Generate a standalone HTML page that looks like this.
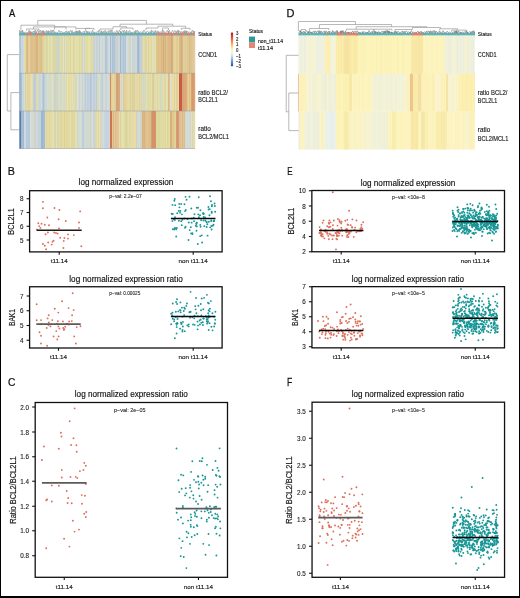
<!DOCTYPE html>
<html><head><meta charset="utf-8"><style>
html,body{margin:0;padding:0;background:#fff;}
body{width:520px;height:598px;overflow:hidden;position:relative;font-family:"Liberation Sans",sans-serif;}
svg{position:absolute;left:0;top:0;display:block;filter:blur(0.3px);}
.frame{position:absolute;left:0;top:0;width:520px;height:598px;box-sizing:border-box;border-style:solid;border-color:#000;border-width:1px 1px 2px 1px;pointer-events:none;}
</style></head><body>
<svg width="520" height="598" viewBox="0 0 520 598" font-family="Liberation Sans, sans-serif"><rect x="19.00" y="33.00" width="176.00" height="2.50" fill="#5ab4ba"/><rect x="27.00" y="33.00" width="5.00" height="2.50" fill="#e4806e"/><rect x="34.00" y="33.00" width="0.60" height="2.50" fill="#e4806e"/><rect x="36.00" y="33.00" width="2.80" height="2.50" fill="#e4806e"/><rect x="40.50" y="33.00" width="4.30" height="2.50" fill="#e4806e"/><rect x="117.00" y="33.00" width="1.00" height="2.50" fill="#e4806e"/><rect x="157.00" y="33.00" width="6.00" height="2.50" fill="#e4806e"/><rect x="164.30" y="33.00" width="10.70" height="2.50" fill="#e4806e"/><rect x="176.40" y="33.00" width="2.10" height="2.50" fill="#e4806e"/><rect x="179.80" y="33.00" width="5.20" height="2.50" fill="#e4806e"/><rect x="186.50" y="33.00" width="3.50" height="2.50" fill="#e4806e"/><rect x="191.00" y="33.00" width="3.60" height="2.50" fill="#e4806e"/><rect x="19.00" y="35.50" width="2.00" height="37.80" fill="#b4c4d4"/><rect x="21.00" y="35.50" width="3.00" height="37.80" fill="#c8d4dc"/><rect x="24.00" y="35.50" width="2.00" height="37.80" fill="#e0dca0"/><rect x="26.00" y="35.50" width="1.00" height="37.80" fill="#dcc890"/><rect x="27.00" y="35.50" width="1.00" height="37.80" fill="#d8b488"/><rect x="28.00" y="35.50" width="3.00" height="37.80" fill="#e0c894"/><rect x="31.00" y="35.50" width="1.00" height="37.80" fill="#dcb888"/><rect x="32.00" y="35.50" width="2.00" height="37.80" fill="#e0c48c"/><rect x="34.00" y="35.50" width="2.00" height="37.80" fill="#dcc090"/><rect x="36.00" y="35.50" width="1.00" height="37.80" fill="#d8b888"/><rect x="37.00" y="35.50" width="1.00" height="37.80" fill="#d4ac80"/><rect x="38.00" y="35.50" width="5.00" height="37.80" fill="#dec890"/><rect x="43.00" y="35.50" width="1.00" height="37.80" fill="#e0d0a0"/><rect x="44.00" y="35.50" width="12.30" height="37.80" fill="#dedcaa"/><rect x="56.30" y="35.50" width="3.40" height="37.80" fill="#d4d8c4"/><rect x="59.70" y="35.50" width="3.90" height="37.80" fill="#e0dca8"/><rect x="63.60" y="35.50" width="1.90" height="37.80" fill="#d4d8cc"/><rect x="65.50" y="35.50" width="16.80" height="37.80" fill="#e0dca8"/><rect x="82.30" y="35.50" width="2.90" height="37.80" fill="#d4d8cc"/><rect x="85.20" y="35.50" width="5.80" height="37.80" fill="#e0dca2"/><rect x="91.00" y="35.50" width="3.10" height="37.80" fill="#d6d8b8"/><rect x="94.10" y="35.50" width="0.90" height="37.80" fill="#d4d8c8"/><rect x="95.00" y="35.50" width="1.60" height="37.80" fill="#c8d4dc"/><rect x="96.60" y="35.50" width="2.30" height="37.80" fill="#d0d8d4"/><rect x="98.90" y="35.50" width="0.90" height="37.80" fill="#c4d0d8"/><rect x="99.80" y="35.50" width="5.10" height="37.80" fill="#d0d8d4"/><rect x="104.90" y="35.50" width="1.90" height="37.80" fill="#b8c8d8"/><rect x="106.80" y="35.50" width="3.00" height="37.80" fill="#ccd8dc"/><rect x="109.80" y="35.50" width="1.10" height="37.80" fill="#a8bcd0"/><rect x="110.90" y="35.50" width="1.10" height="37.80" fill="#c8d4dc"/><rect x="112.00" y="35.50" width="3.00" height="37.80" fill="#b0c4d8"/><rect x="115.00" y="35.50" width="1.00" height="37.80" fill="#c4d0d8"/><rect x="116.00" y="35.50" width="1.20" height="37.80" fill="#d4d8c4"/><rect x="117.20" y="35.50" width="2.80" height="37.80" fill="#ccd6d8"/><rect x="120.00" y="35.50" width="1.00" height="37.80" fill="#a8bcd0"/><rect x="121.00" y="35.50" width="5.60" height="37.80" fill="#b8cad8"/><rect x="126.60" y="35.50" width="1.90" height="37.80" fill="#d0d8d8"/><rect x="128.50" y="35.50" width="1.80" height="37.80" fill="#d4d8c4"/><rect x="130.30" y="35.50" width="6.50" height="37.80" fill="#d2d9d6"/><rect x="136.80" y="35.50" width="2.20" height="37.80" fill="#a4b8d0"/><rect x="139.00" y="35.50" width="2.90" height="37.80" fill="#bccad8"/><rect x="141.90" y="35.50" width="1.10" height="37.80" fill="#d8d8c0"/><rect x="143.00" y="35.50" width="4.00" height="37.80" fill="#e0d8a0"/><rect x="147.00" y="35.50" width="1.20" height="37.80" fill="#d8d8b8"/><rect x="148.20" y="35.50" width="3.50" height="37.80" fill="#e0d8a0"/><rect x="151.70" y="35.50" width="4.60" height="37.80" fill="#dcdcb0"/><rect x="156.30" y="35.50" width="4.70" height="37.80" fill="#dfc48c"/><rect x="161.00" y="35.50" width="2.00" height="37.80" fill="#dcbc88"/><rect x="163.00" y="35.50" width="1.00" height="37.80" fill="#d8b080"/><rect x="164.00" y="35.50" width="2.00" height="37.80" fill="#dcbc88"/><rect x="166.00" y="35.50" width="2.40" height="37.80" fill="#dcc890"/><rect x="168.40" y="35.50" width="2.90" height="37.80" fill="#dcb888"/><rect x="171.30" y="35.50" width="1.70" height="37.80" fill="#d4a878"/><rect x="173.00" y="35.50" width="5.80" height="37.80" fill="#e0d098"/><rect x="178.80" y="35.50" width="4.00" height="37.80" fill="#d8b484"/><rect x="182.80" y="35.50" width="4.60" height="37.80" fill="#e0d09c"/><rect x="187.40" y="35.50" width="7.00" height="37.80" fill="#dcc490"/><rect x="194.40" y="35.50" width="0.80" height="37.80" fill="#d8b888"/><rect x="19.00" y="35.50" width="1.00" height="37.80" fill="#bacada"/><rect x="20.00" y="35.50" width="1.00" height="37.80" fill="#aec0d3"/><rect x="21.00" y="35.50" width="1.00" height="37.80" fill="#ccd8e0"/><rect x="22.00" y="35.50" width="1.00" height="37.80" fill="#c9d5dd"/><rect x="23.00" y="35.50" width="1.00" height="37.80" fill="#cedae2"/><rect x="24.00" y="35.50" width="1.00" height="37.80" fill="#e1dda1"/><rect x="25.00" y="35.50" width="1.00" height="37.80" fill="#e0db9e"/><rect x="26.00" y="35.50" width="1.00" height="37.80" fill="#d9c186"/><rect x="27.00" y="35.50" width="1.00" height="37.80" fill="#d7b386"/><rect x="28.00" y="35.50" width="1.00" height="37.80" fill="#e6ce9a"/><rect x="29.00" y="35.50" width="1.00" height="37.80" fill="#e6ce9a"/><rect x="30.00" y="35.50" width="1.00" height="37.80" fill="#dec48e"/><rect x="31.00" y="35.50" width="1.00" height="37.80" fill="#e0bc8c"/><rect x="32.00" y="35.50" width="1.00" height="37.80" fill="#debf85"/><rect x="33.00" y="35.50" width="1.00" height="37.80" fill="#e1c58d"/><rect x="34.00" y="35.50" width="1.00" height="37.80" fill="#dbbf8e"/><rect x="35.00" y="35.50" width="1.00" height="37.80" fill="#dabc8a"/><rect x="36.00" y="35.50" width="1.00" height="37.80" fill="#d7b786"/><rect x="37.00" y="35.50" width="1.00" height="37.80" fill="#d7af83"/><rect x="38.00" y="35.50" width="1.00" height="37.80" fill="#e0ca92"/><rect x="39.00" y="35.50" width="1.00" height="37.80" fill="#ddc58c"/><rect x="40.00" y="35.50" width="1.00" height="37.80" fill="#dbc287"/><rect x="41.00" y="35.50" width="1.00" height="37.80" fill="#dac084"/><rect x="42.00" y="35.50" width="1.00" height="37.80" fill="#e3cd95"/><rect x="45.00" y="35.50" width="1.00" height="37.80" fill="#dddba8"/><rect x="46.00" y="35.50" width="1.00" height="37.80" fill="#dbd6a0"/><rect x="47.00" y="35.50" width="1.00" height="37.80" fill="#dcd8a4"/><rect x="48.00" y="35.50" width="1.00" height="37.80" fill="#e4e2b0"/><rect x="49.00" y="35.50" width="1.00" height="37.80" fill="#dddaa7"/><rect x="51.00" y="35.50" width="1.00" height="37.80" fill="#e4e2b0"/><rect x="52.00" y="35.50" width="1.00" height="37.80" fill="#dfddab"/><rect x="53.00" y="35.50" width="1.00" height="37.80" fill="#dcd7a2"/><rect x="54.00" y="35.50" width="1.00" height="37.80" fill="#dbd59f"/><rect x="55.00" y="35.50" width="1.00" height="37.80" fill="#dcd7a2"/><rect x="56.00" y="35.50" width="1.00" height="37.80" fill="#cdd4c2"/><rect x="57.00" y="35.50" width="1.00" height="37.80" fill="#ced4c3"/><rect x="58.00" y="35.50" width="1.00" height="37.80" fill="#ced4c3"/><rect x="59.00" y="35.50" width="1.00" height="37.80" fill="#d1d6c3"/><rect x="60.00" y="35.50" width="1.00" height="37.80" fill="#e0dca7"/><rect x="61.00" y="35.50" width="1.00" height="37.80" fill="#dfdaa5"/><rect x="62.00" y="35.50" width="1.00" height="37.80" fill="#dfdaa5"/><rect x="64.00" y="35.50" width="1.00" height="37.80" fill="#cfd5cb"/><rect x="65.00" y="35.50" width="1.00" height="37.80" fill="#e6e2ae"/><rect x="66.00" y="35.50" width="1.00" height="37.80" fill="#ded8a2"/><rect x="67.00" y="35.50" width="1.00" height="37.80" fill="#e2deaa"/><rect x="68.00" y="35.50" width="1.00" height="37.80" fill="#dfdaa5"/><rect x="69.00" y="35.50" width="1.00" height="37.80" fill="#e1dda9"/><rect x="70.00" y="35.50" width="1.00" height="37.80" fill="#dcd49c"/><rect x="71.00" y="35.50" width="1.00" height="37.80" fill="#e6e2ae"/><rect x="72.00" y="35.50" width="1.00" height="37.80" fill="#e5e1ad"/><rect x="73.00" y="35.50" width="1.00" height="37.80" fill="#ddd59c"/><rect x="74.00" y="35.50" width="1.00" height="37.80" fill="#ded8a2"/><rect x="75.00" y="35.50" width="1.00" height="37.80" fill="#e5e1ad"/><rect x="76.00" y="35.50" width="1.00" height="37.80" fill="#e3dfab"/><rect x="77.00" y="35.50" width="1.00" height="37.80" fill="#e1dda9"/><rect x="78.00" y="35.50" width="1.00" height="37.80" fill="#e4e0ac"/><rect x="79.00" y="35.50" width="1.00" height="37.80" fill="#ddd69f"/><rect x="80.00" y="35.50" width="1.00" height="37.80" fill="#e3dfab"/><rect x="81.00" y="35.50" width="1.00" height="37.80" fill="#ded7a0"/><rect x="82.00" y="35.50" width="1.00" height="37.80" fill="#d0d5cb"/><rect x="83.00" y="35.50" width="1.00" height="37.80" fill="#daded2"/><rect x="84.00" y="35.50" width="1.00" height="37.80" fill="#d1d6cb"/><rect x="85.00" y="35.50" width="1.00" height="37.80" fill="#e1dda3"/><rect x="86.00" y="35.50" width="1.00" height="37.80" fill="#e2dea4"/><rect x="87.00" y="35.50" width="1.00" height="37.80" fill="#e0dba0"/><rect x="88.00" y="35.50" width="1.00" height="37.80" fill="#e4e0a6"/><rect x="89.00" y="35.50" width="1.00" height="37.80" fill="#e6e2a8"/><rect x="90.00" y="35.50" width="1.00" height="37.80" fill="#e1dda3"/><rect x="91.00" y="35.50" width="1.00" height="37.80" fill="#d5d6b5"/><rect x="92.00" y="35.50" width="1.00" height="37.80" fill="#dadcbc"/><rect x="93.00" y="35.50" width="1.00" height="37.80" fill="#d4d4b2"/><rect x="94.00" y="35.50" width="1.00" height="37.80" fill="#ccd3c6"/><rect x="95.00" y="35.50" width="1.00" height="37.80" fill="#cdd9e1"/><rect x="96.00" y="35.50" width="1.00" height="37.80" fill="#c4d1db"/><rect x="97.00" y="35.50" width="1.00" height="37.80" fill="#c8d3d2"/><rect x="98.00" y="35.50" width="1.00" height="37.80" fill="#d2dad6"/><rect x="99.00" y="35.50" width="1.00" height="37.80" fill="#bccbd6"/><rect x="100.00" y="35.50" width="1.00" height="37.80" fill="#d3dbd7"/><rect x="101.00" y="35.50" width="1.00" height="37.80" fill="#d4dcd8"/><rect x="102.00" y="35.50" width="1.00" height="37.80" fill="#cbd5d3"/><rect x="103.00" y="35.50" width="1.00" height="37.80" fill="#d4dcd8"/><rect x="104.00" y="35.50" width="1.00" height="37.80" fill="#d1d9d5"/><rect x="105.00" y="35.50" width="1.00" height="37.80" fill="#b3c5d7"/><rect x="106.00" y="35.50" width="1.00" height="37.80" fill="#b2c4d6"/><rect x="107.00" y="35.50" width="1.00" height="37.80" fill="#c5d4da"/><rect x="109.00" y="35.50" width="1.00" height="37.80" fill="#d1dde1"/><rect x="110.00" y="35.50" width="1.00" height="37.80" fill="#a7bbd0"/><rect x="111.00" y="35.50" width="1.00" height="37.80" fill="#c7d4dc"/><rect x="112.00" y="35.50" width="1.00" height="37.80" fill="#adc2d7"/><rect x="113.00" y="35.50" width="1.00" height="37.80" fill="#b1c5d9"/><rect x="114.00" y="35.50" width="1.00" height="37.80" fill="#b2c6da"/><rect x="115.00" y="35.50" width="1.00" height="37.80" fill="#c0cdd7"/><rect x="116.00" y="35.50" width="1.00" height="37.80" fill="#cfd4c3"/><rect x="117.00" y="35.50" width="1.00" height="37.80" fill="#c4d1d6"/><rect x="118.00" y="35.50" width="1.00" height="37.80" fill="#cfd9db"/><rect x="119.00" y="35.50" width="1.00" height="37.80" fill="#cdd7d9"/><rect x="120.00" y="35.50" width="1.00" height="37.80" fill="#a1b7ce"/><rect x="121.00" y="35.50" width="1.00" height="37.80" fill="#bdcfdd"/><rect x="122.00" y="35.50" width="1.00" height="37.80" fill="#bbcddb"/><rect x="123.00" y="35.50" width="1.00" height="37.80" fill="#b0c4d6"/><rect x="124.00" y="35.50" width="1.00" height="37.80" fill="#baccda"/><rect x="125.00" y="35.50" width="1.00" height="37.80" fill="#b0c5d6"/><rect x="127.00" y="35.50" width="1.00" height="37.80" fill="#d5dddd"/><rect x="128.00" y="35.50" width="1.00" height="37.80" fill="#d6dac6"/><rect x="129.00" y="35.50" width="1.00" height="37.80" fill="#ced4c3"/><rect x="130.00" y="35.50" width="1.00" height="37.80" fill="#cbd5d4"/><rect x="131.00" y="35.50" width="1.00" height="37.80" fill="#d8dfdc"/><rect x="132.00" y="35.50" width="1.00" height="37.80" fill="#c9d3d4"/><rect x="133.00" y="35.50" width="1.00" height="37.80" fill="#ced6d5"/><rect x="134.00" y="35.50" width="1.00" height="37.80" fill="#ccd5d4"/><rect x="135.00" y="35.50" width="1.00" height="37.80" fill="#ced7d5"/><rect x="136.00" y="35.50" width="1.00" height="37.80" fill="#d0d7d5"/><rect x="137.00" y="35.50" width="1.00" height="37.80" fill="#a8bcd4"/><rect x="138.00" y="35.50" width="1.00" height="37.80" fill="#a2b7cf"/><rect x="140.00" y="35.50" width="1.00" height="37.80" fill="#c0cedc"/><rect x="142.00" y="35.50" width="1.00" height="37.80" fill="#d2d4be"/><rect x="143.00" y="35.50" width="1.00" height="37.80" fill="#e5dda5"/><rect x="144.00" y="35.50" width="1.00" height="37.80" fill="#e3dba3"/><rect x="145.00" y="35.50" width="1.00" height="37.80" fill="#ddd297"/><rect x="147.00" y="35.50" width="1.00" height="37.80" fill="#dedebe"/><rect x="148.00" y="35.50" width="1.00" height="37.80" fill="#ddd196"/><rect x="149.00" y="35.50" width="1.00" height="37.80" fill="#e4dca4"/><rect x="150.00" y="35.50" width="1.00" height="37.80" fill="#e5dda5"/><rect x="151.00" y="35.50" width="1.00" height="37.80" fill="#e0d79f"/><rect x="152.00" y="35.50" width="1.00" height="37.80" fill="#e1e1b5"/><rect x="153.00" y="35.50" width="1.00" height="37.80" fill="#e0e0b4"/><rect x="154.00" y="35.50" width="1.00" height="37.80" fill="#ddddb1"/><rect x="155.00" y="35.50" width="1.00" height="37.80" fill="#e1e1b5"/><rect x="156.00" y="35.50" width="1.00" height="37.80" fill="#dec288"/><rect x="158.00" y="35.50" width="1.00" height="37.80" fill="#dcbc80"/><rect x="159.00" y="35.50" width="1.00" height="37.80" fill="#e0c58d"/><rect x="160.00" y="35.50" width="1.00" height="37.80" fill="#dec38a"/><rect x="161.00" y="35.50" width="1.00" height="37.80" fill="#dab780"/><rect x="162.00" y="35.50" width="1.00" height="37.80" fill="#ddbd89"/><rect x="163.00" y="35.50" width="1.00" height="37.80" fill="#d6ac7a"/><rect x="164.00" y="35.50" width="1.00" height="37.80" fill="#dcbb86"/><rect x="165.00" y="35.50" width="1.00" height="37.80" fill="#d9b57d"/><rect x="166.00" y="35.50" width="1.00" height="37.80" fill="#dbc68e"/><rect x="167.00" y="35.50" width="1.00" height="37.80" fill="#d9c185"/><rect x="168.00" y="35.50" width="1.00" height="37.80" fill="#dcb787"/><rect x="169.00" y="35.50" width="1.00" height="37.80" fill="#ddb989"/><rect x="170.00" y="35.50" width="1.00" height="37.80" fill="#dcb787"/><rect x="171.00" y="35.50" width="1.00" height="37.80" fill="#d5a979"/><rect x="172.00" y="35.50" width="1.00" height="37.80" fill="#d9ad7d"/><rect x="173.00" y="35.50" width="1.00" height="37.80" fill="#dfce95"/><rect x="174.00" y="35.50" width="1.00" height="37.80" fill="#e5d59d"/><rect x="175.00" y="35.50" width="1.00" height="37.80" fill="#e5d59d"/><rect x="176.00" y="35.50" width="1.00" height="37.80" fill="#dfce95"/><rect x="177.00" y="35.50" width="1.00" height="37.80" fill="#ddca8f"/><rect x="178.00" y="35.50" width="1.00" height="37.80" fill="#e4d49c"/><rect x="179.00" y="35.50" width="1.00" height="37.80" fill="#deba8a"/><rect x="180.00" y="35.50" width="1.00" height="37.80" fill="#dab686"/><rect x="181.00" y="35.50" width="1.00" height="37.80" fill="#d5ae7b"/><rect x="182.00" y="35.50" width="1.00" height="37.80" fill="#dab686"/><rect x="184.00" y="35.50" width="1.00" height="37.80" fill="#dfce99"/><rect x="185.00" y="35.50" width="1.00" height="37.80" fill="#dfce99"/><rect x="186.00" y="35.50" width="1.00" height="37.80" fill="#e0cf9b"/><rect x="187.00" y="35.50" width="1.00" height="37.80" fill="#dfc793"/><rect x="188.00" y="35.50" width="1.00" height="37.80" fill="#e0c894"/><rect x="189.00" y="35.50" width="1.00" height="37.80" fill="#d9bd86"/><rect x="190.00" y="35.50" width="1.00" height="37.80" fill="#dcc38e"/><rect x="191.00" y="35.50" width="1.00" height="37.80" fill="#ddc591"/><rect x="192.00" y="35.50" width="1.00" height="37.80" fill="#dfc793"/><rect x="193.00" y="35.50" width="1.00" height="37.80" fill="#e1c995"/><rect x="19.00" y="73.30" width="2.90" height="37.70" fill="#a4b8d0"/><rect x="21.90" y="73.30" width="2.30" height="37.70" fill="#c8d4d8"/><rect x="24.20" y="73.30" width="2.80" height="37.70" fill="#d8d8b8"/><rect x="27.00" y="73.30" width="6.40" height="37.70" fill="#e4d8a4"/><rect x="33.40" y="73.30" width="2.30" height="37.70" fill="#c4d0dc"/><rect x="35.70" y="73.30" width="2.30" height="37.70" fill="#dcdcb8"/><rect x="38.00" y="73.30" width="4.00" height="37.70" fill="#d0d8d4"/><rect x="42.00" y="73.30" width="3.50" height="37.70" fill="#b4c8d8"/><rect x="45.50" y="73.30" width="3.50" height="37.70" fill="#d0d8d2"/><rect x="49.00" y="73.30" width="4.50" height="37.70" fill="#d8dcc0"/><rect x="53.50" y="73.30" width="5.70" height="37.70" fill="#d4d8c8"/><rect x="59.20" y="73.30" width="6.80" height="37.70" fill="#d8dcc4"/><rect x="66.00" y="73.30" width="5.70" height="37.70" fill="#e4dca8"/><rect x="71.70" y="73.30" width="5.80" height="37.70" fill="#dcdcb4"/><rect x="77.50" y="73.30" width="7.70" height="37.70" fill="#d0d8d4"/><rect x="85.20" y="73.30" width="5.30" height="37.70" fill="#c4d0dc"/><rect x="90.50" y="73.30" width="1.80" height="37.70" fill="#b4c4d4"/><rect x="92.30" y="73.30" width="5.20" height="37.70" fill="#c4d0dc"/><rect x="97.50" y="73.30" width="3.50" height="37.70" fill="#d8dcc4"/><rect x="101.00" y="73.30" width="2.20" height="37.70" fill="#bccedc"/><rect x="103.20" y="73.30" width="6.40" height="37.70" fill="#d0d8d8"/><rect x="109.60" y="73.30" width="1.70" height="37.70" fill="#d49468"/><rect x="111.30" y="73.30" width="5.20" height="37.70" fill="#e4d4a0"/><rect x="116.50" y="73.30" width="3.50" height="37.70" fill="#d4a47c"/><rect x="120.00" y="73.30" width="3.40" height="37.70" fill="#d8dcc8"/><rect x="123.40" y="73.30" width="2.90" height="37.70" fill="#e0cc98"/><rect x="126.30" y="73.30" width="3.40" height="37.70" fill="#e4dca8"/><rect x="129.70" y="73.30" width="12.80" height="37.70" fill="#e0d6a4"/><rect x="142.50" y="73.30" width="3.50" height="37.70" fill="#d8dcc4"/><rect x="146.00" y="73.30" width="5.70" height="37.70" fill="#e0dca8"/><rect x="151.70" y="73.30" width="2.30" height="37.70" fill="#e0d0a0"/><rect x="154.00" y="73.30" width="6.00" height="37.70" fill="#e0dcac"/><rect x="160.00" y="73.30" width="2.00" height="37.70" fill="#d8dcc0"/><rect x="162.00" y="73.30" width="5.80" height="37.70" fill="#e0dcac"/><rect x="167.80" y="73.30" width="1.80" height="37.70" fill="#e0c090"/><rect x="169.60" y="73.30" width="2.80" height="37.70" fill="#dcdcc0"/><rect x="172.40" y="73.30" width="7.00" height="37.70" fill="#e4d8a4"/><rect x="179.40" y="73.30" width="2.50" height="37.70" fill="#c85a42"/><rect x="181.90" y="73.30" width="5.50" height="37.70" fill="#d8a478"/><rect x="187.40" y="73.30" width="4.10" height="37.70" fill="#e0c890"/><rect x="191.50" y="73.30" width="3.70" height="37.70" fill="#daa074"/><rect x="20.00" y="73.30" width="1.00" height="37.70" fill="#9fb4cf"/><rect x="21.00" y="73.30" width="1.00" height="37.70" fill="#aabed6"/><rect x="22.00" y="73.30" width="1.00" height="37.70" fill="#cad6da"/><rect x="23.00" y="73.30" width="1.00" height="37.70" fill="#c9d5d9"/><rect x="24.00" y="73.30" width="1.00" height="37.70" fill="#dedebe"/><rect x="25.00" y="73.30" width="1.00" height="37.70" fill="#d5d2ae"/><rect x="26.00" y="73.30" width="1.00" height="37.70" fill="#dcdcbc"/><rect x="27.00" y="73.30" width="1.00" height="37.70" fill="#e2d49d"/><rect x="28.00" y="73.30" width="1.00" height="37.70" fill="#e2d49e"/><rect x="29.00" y="73.30" width="1.00" height="37.70" fill="#e3d5a0"/><rect x="30.00" y="73.30" width="1.00" height="37.70" fill="#e7dba7"/><rect x="31.00" y="73.30" width="1.00" height="37.70" fill="#eadeaa"/><rect x="32.00" y="73.30" width="1.00" height="37.70" fill="#e7dba7"/><rect x="33.00" y="73.30" width="1.00" height="37.70" fill="#c1cedb"/><rect x="34.00" y="73.30" width="1.00" height="37.70" fill="#beccda"/><rect x="35.00" y="73.30" width="1.00" height="37.70" fill="#c0cedb"/><rect x="36.00" y="73.30" width="1.00" height="37.70" fill="#dad8b1"/><rect x="39.00" y="73.30" width="1.00" height="37.70" fill="#c9d4d2"/><rect x="40.00" y="73.30" width="1.00" height="37.70" fill="#cbd5d3"/><rect x="41.00" y="73.30" width="1.00" height="37.70" fill="#d5ddd9"/><rect x="42.00" y="73.30" width="1.00" height="37.70" fill="#b7cbdb"/><rect x="43.00" y="73.30" width="1.00" height="37.70" fill="#adc3d6"/><rect x="44.00" y="73.30" width="1.00" height="37.70" fill="#b9cddd"/><rect x="45.00" y="73.30" width="1.00" height="37.70" fill="#cfd7d2"/><rect x="46.00" y="73.30" width="1.00" height="37.70" fill="#ced7d1"/><rect x="47.00" y="73.30" width="1.00" height="37.70" fill="#d4dcd6"/><rect x="48.00" y="73.30" width="1.00" height="37.70" fill="#d2dad4"/><rect x="49.00" y="73.30" width="1.00" height="37.70" fill="#d7dbc0"/><rect x="50.00" y="73.30" width="1.00" height="37.70" fill="#d6dbbf"/><rect x="51.00" y="73.30" width="1.00" height="37.70" fill="#d9ddc1"/><rect x="52.00" y="73.30" width="1.00" height="37.70" fill="#dce0c4"/><rect x="53.00" y="73.30" width="1.00" height="37.70" fill="#d7dbcb"/><rect x="54.00" y="73.30" width="1.00" height="37.70" fill="#cdd3c6"/><rect x="55.00" y="73.30" width="1.00" height="37.70" fill="#ccd3c6"/><rect x="56.00" y="73.30" width="1.00" height="37.70" fill="#d2d6c7"/><rect x="57.00" y="73.30" width="1.00" height="37.70" fill="#d0d6c7"/><rect x="58.00" y="73.30" width="1.00" height="37.70" fill="#d8dccc"/><rect x="59.00" y="73.30" width="1.00" height="37.70" fill="#d9ddc5"/><rect x="60.00" y="73.30" width="1.00" height="37.70" fill="#d2d8c2"/><rect x="61.00" y="73.30" width="1.00" height="37.70" fill="#d7dbc4"/><rect x="62.00" y="73.30" width="1.00" height="37.70" fill="#d9ddc5"/><rect x="64.00" y="73.30" width="1.00" height="37.70" fill="#d4d9c3"/><rect x="65.00" y="73.30" width="1.00" height="37.70" fill="#dadec6"/><rect x="66.00" y="73.30" width="1.00" height="37.70" fill="#e2d9a3"/><rect x="67.00" y="73.30" width="1.00" height="37.70" fill="#eae2ae"/><rect x="68.00" y="73.30" width="1.00" height="37.70" fill="#e3daa5"/><rect x="70.00" y="73.30" width="1.00" height="37.70" fill="#e8e0ac"/><rect x="71.00" y="73.30" width="1.00" height="37.70" fill="#e3daa4"/><rect x="72.00" y="73.30" width="1.00" height="37.70" fill="#e1e1b9"/><rect x="73.00" y="73.30" width="1.00" height="37.70" fill="#ddddb5"/><rect x="74.00" y="73.30" width="1.00" height="37.70" fill="#ddddb5"/><rect x="75.00" y="73.30" width="1.00" height="37.70" fill="#dad8ae"/><rect x="76.00" y="73.30" width="1.00" height="37.70" fill="#dbd9b0"/><rect x="78.00" y="73.30" width="1.00" height="37.70" fill="#d4dcd8"/><rect x="79.00" y="73.30" width="1.00" height="37.70" fill="#cad4d3"/><rect x="80.00" y="73.30" width="1.00" height="37.70" fill="#d4dcd8"/><rect x="81.00" y="73.30" width="1.00" height="37.70" fill="#d5ddd9"/><rect x="82.00" y="73.30" width="1.00" height="37.70" fill="#c9d3d2"/><rect x="83.00" y="73.30" width="1.00" height="37.70" fill="#d2dad6"/><rect x="84.00" y="73.30" width="1.00" height="37.70" fill="#cbd5d3"/><rect x="85.00" y="73.30" width="1.00" height="37.70" fill="#bdcbda"/><rect x="86.00" y="73.30" width="1.00" height="37.70" fill="#cad6e2"/><rect x="87.00" y="73.30" width="1.00" height="37.70" fill="#c0cddb"/><rect x="88.00" y="73.30" width="1.00" height="37.70" fill="#c3cfdc"/><rect x="89.00" y="73.30" width="1.00" height="37.70" fill="#c7d3df"/><rect x="90.00" y="73.30" width="1.00" height="37.70" fill="#b5c5d5"/><rect x="91.00" y="73.30" width="1.00" height="37.70" fill="#b9c9d9"/><rect x="92.00" y="73.30" width="1.00" height="37.70" fill="#cad6e2"/><rect x="93.00" y="73.30" width="1.00" height="37.70" fill="#c3d0dc"/><rect x="94.00" y="73.30" width="1.00" height="37.70" fill="#bdcbda"/><rect x="95.00" y="73.30" width="1.00" height="37.70" fill="#c8d4e0"/><rect x="96.00" y="73.30" width="1.00" height="37.70" fill="#beccda"/><rect x="97.00" y="73.30" width="1.00" height="37.70" fill="#d6dac3"/><rect x="98.00" y="73.30" width="1.00" height="37.70" fill="#d3d9c3"/><rect x="99.00" y="73.30" width="1.00" height="37.70" fill="#dce0c8"/><rect x="100.00" y="73.30" width="1.00" height="37.70" fill="#d3d9c3"/><rect x="101.00" y="73.30" width="1.00" height="37.70" fill="#c0d2e0"/><rect x="102.00" y="73.30" width="1.00" height="37.70" fill="#bdcfdd"/><rect x="103.00" y="73.30" width="1.00" height="37.70" fill="#d1d9d9"/><rect x="104.00" y="73.30" width="1.00" height="37.70" fill="#d3dbdb"/><rect x="105.00" y="73.30" width="1.00" height="37.70" fill="#cdd6d7"/><rect x="106.00" y="73.30" width="1.00" height="37.70" fill="#cad4d7"/><rect x="107.00" y="73.30" width="1.00" height="37.70" fill="#d3dbdb"/><rect x="108.00" y="73.30" width="1.00" height="37.70" fill="#d2dada"/><rect x="109.00" y="73.30" width="1.00" height="37.70" fill="#cfd7d8"/><rect x="110.00" y="73.30" width="1.00" height="37.70" fill="#d28f60"/><rect x="111.00" y="73.30" width="1.00" height="37.70" fill="#e2cf98"/><rect x="112.00" y="73.30" width="1.00" height="37.70" fill="#e4d39f"/><rect x="113.00" y="73.30" width="1.00" height="37.70" fill="#e6d6a2"/><rect x="114.00" y="73.30" width="1.00" height="37.70" fill="#e3d19b"/><rect x="115.00" y="73.30" width="1.00" height="37.70" fill="#e1cc94"/><rect x="116.00" y="73.30" width="1.00" height="37.70" fill="#d4a37b"/><rect x="117.00" y="73.30" width="1.00" height="37.70" fill="#d2a075"/><rect x="118.00" y="73.30" width="1.00" height="37.70" fill="#d7a77f"/><rect x="119.00" y="73.30" width="1.00" height="37.70" fill="#d7a77f"/><rect x="121.00" y="73.30" width="1.00" height="37.70" fill="#d1d7c6"/><rect x="122.00" y="73.30" width="1.00" height="37.70" fill="#dadeca"/><rect x="123.00" y="73.30" width="1.00" height="37.70" fill="#e0cb97"/><rect x="124.00" y="73.30" width="1.00" height="37.70" fill="#e3cf9b"/><rect x="125.00" y="73.30" width="1.00" height="37.70" fill="#e4d09c"/><rect x="126.00" y="73.30" width="1.00" height="37.70" fill="#e1d69f"/><rect x="127.00" y="73.30" width="1.00" height="37.70" fill="#e2d9a3"/><rect x="128.00" y="73.30" width="1.00" height="37.70" fill="#e5dda9"/><rect x="129.00" y="73.30" width="1.00" height="37.70" fill="#e1d69e"/><rect x="130.00" y="73.30" width="1.00" height="37.70" fill="#ded19c"/><rect x="131.00" y="73.30" width="1.00" height="37.70" fill="#e3d9a7"/><rect x="132.00" y="73.30" width="1.00" height="37.70" fill="#ddcf99"/><rect x="133.00" y="73.30" width="1.00" height="37.70" fill="#ded29e"/><rect x="134.00" y="73.30" width="1.00" height="37.70" fill="#ddd09b"/><rect x="135.00" y="73.30" width="1.00" height="37.70" fill="#e5dba9"/><rect x="136.00" y="73.30" width="1.00" height="37.70" fill="#e3d9a7"/><rect x="137.00" y="73.30" width="1.00" height="37.70" fill="#e3d9a7"/><rect x="138.00" y="73.30" width="1.00" height="37.70" fill="#e4daa8"/><rect x="139.00" y="73.30" width="1.00" height="37.70" fill="#ded29d"/><rect x="140.00" y="73.30" width="1.00" height="37.70" fill="#e4daa8"/><rect x="141.00" y="73.30" width="1.00" height="37.70" fill="#dfd4a1"/><rect x="142.00" y="73.30" width="1.00" height="37.70" fill="#d6dbc4"/><rect x="143.00" y="73.30" width="1.00" height="37.70" fill="#d1d7c2"/><rect x="144.00" y="73.30" width="1.00" height="37.70" fill="#d4d9c3"/><rect x="145.00" y="73.30" width="1.00" height="37.70" fill="#d6dbc3"/><rect x="146.00" y="73.30" width="1.00" height="37.70" fill="#e4e0ac"/><rect x="148.00" y="73.30" width="1.00" height="37.70" fill="#ded8a3"/><rect x="149.00" y="73.30" width="1.00" height="37.70" fill="#e1dda9"/><rect x="150.00" y="73.30" width="1.00" height="37.70" fill="#dfd9a3"/><rect x="151.00" y="73.30" width="1.00" height="37.70" fill="#e4e0ac"/><rect x="152.00" y="73.30" width="1.00" height="37.70" fill="#dfcd9c"/><rect x="153.00" y="73.30" width="1.00" height="37.70" fill="#decb99"/><rect x="154.00" y="73.30" width="1.00" height="37.70" fill="#dfdaa9"/><rect x="155.00" y="73.30" width="1.00" height="37.70" fill="#e1ddad"/><rect x="156.00" y="73.30" width="1.00" height="37.70" fill="#e2deae"/><rect x="157.00" y="73.30" width="1.00" height="37.70" fill="#ded8a6"/><rect x="158.00" y="73.30" width="1.00" height="37.70" fill="#e1ddad"/><rect x="159.00" y="73.30" width="1.00" height="37.70" fill="#e2deae"/><rect x="160.00" y="73.30" width="1.00" height="37.70" fill="#d3d9bf"/><rect x="161.00" y="73.30" width="1.00" height="37.70" fill="#d5dabf"/><rect x="162.00" y="73.30" width="1.00" height="37.70" fill="#e0dbaa"/><rect x="163.00" y="73.30" width="1.00" height="37.70" fill="#e4e0b0"/><rect x="164.00" y="73.30" width="1.00" height="37.70" fill="#ddd6a3"/><rect x="165.00" y="73.30" width="1.00" height="37.70" fill="#ded8a6"/><rect x="166.00" y="73.30" width="1.00" height="37.70" fill="#e5e1b1"/><rect x="168.00" y="73.30" width="1.00" height="37.70" fill="#dcb884"/><rect x="169.00" y="73.30" width="1.00" height="37.70" fill="#e1c191"/><rect x="170.00" y="73.30" width="1.00" height="37.70" fill="#e2e2c6"/><rect x="172.00" y="73.30" width="1.00" height="37.70" fill="#e8dca8"/><rect x="173.00" y="73.30" width="1.00" height="37.70" fill="#e8dca8"/><rect x="174.00" y="73.30" width="1.00" height="37.70" fill="#e1d29b"/><rect x="175.00" y="73.30" width="1.00" height="37.70" fill="#e9dda9"/><rect x="176.00" y="73.30" width="1.00" height="37.70" fill="#e1d199"/><rect x="177.00" y="73.30" width="1.00" height="37.70" fill="#e1d19a"/><rect x="178.00" y="73.30" width="1.00" height="37.70" fill="#e6daa6"/><rect x="179.00" y="73.30" width="1.00" height="37.70" fill="#c75840"/><rect x="180.00" y="73.30" width="1.00" height="37.70" fill="#cb5d45"/><rect x="181.00" y="73.30" width="1.00" height="37.70" fill="#c75940"/><rect x="182.00" y="73.30" width="1.00" height="37.70" fill="#d9a579"/><rect x="183.00" y="73.30" width="1.00" height="37.70" fill="#d9a579"/><rect x="184.00" y="73.30" width="1.00" height="37.70" fill="#dba77b"/><rect x="185.00" y="73.30" width="1.00" height="37.70" fill="#dda97d"/><rect x="186.00" y="73.30" width="1.00" height="37.70" fill="#deaa7e"/><rect x="187.00" y="73.30" width="1.00" height="37.70" fill="#dfc68d"/><rect x="188.00" y="73.30" width="1.00" height="37.70" fill="#e6ce96"/><rect x="189.00" y="73.30" width="1.00" height="37.70" fill="#ddc185"/><rect x="190.00" y="73.30" width="1.00" height="37.70" fill="#e3cb93"/><rect x="191.00" y="73.30" width="1.00" height="37.70" fill="#dba175"/><rect x="192.00" y="73.30" width="1.00" height="37.70" fill="#d79969"/><rect x="193.00" y="73.30" width="1.00" height="37.70" fill="#d89d6f"/><rect x="194.00" y="73.30" width="1.00" height="37.70" fill="#dda377"/><rect x="19.00" y="111.00" width="1.00" height="37.50" fill="#90a8c8"/><rect x="20.00" y="111.00" width="1.30" height="37.50" fill="#5878b0"/><rect x="21.30" y="111.00" width="2.90" height="37.50" fill="#a0b8d0"/><rect x="24.20" y="111.00" width="1.80" height="37.50" fill="#c8d4dc"/><rect x="26.00" y="111.00" width="4.00" height="37.50" fill="#b8c8d8"/><rect x="30.00" y="111.00" width="4.00" height="37.50" fill="#d0d8d4"/><rect x="34.00" y="111.00" width="1.00" height="37.50" fill="#dcdcb8"/><rect x="35.00" y="111.00" width="6.00" height="37.50" fill="#c8d4dc"/><rect x="41.00" y="111.00" width="4.00" height="37.50" fill="#a0b8d0"/><rect x="45.00" y="111.00" width="8.60" height="37.50" fill="#e4dca8"/><rect x="53.60" y="111.00" width="5.80" height="37.50" fill="#dcdcb8"/><rect x="59.40" y="111.00" width="10.30" height="37.50" fill="#e0d8a0"/><rect x="69.70" y="111.00" width="7.00" height="37.50" fill="#e0dca8"/><rect x="76.70" y="111.00" width="5.30" height="37.50" fill="#d0d8d2"/><rect x="82.00" y="111.00" width="1.60" height="37.50" fill="#bccadc"/><rect x="83.60" y="111.00" width="9.20" height="37.50" fill="#d4dad0"/><rect x="92.80" y="111.00" width="1.80" height="37.50" fill="#c4d0dc"/><rect x="94.60" y="111.00" width="6.40" height="37.50" fill="#e4dcac"/><rect x="101.00" y="111.00" width="8.60" height="37.50" fill="#ccd6dc"/><rect x="109.60" y="111.00" width="2.90" height="37.50" fill="#d07a56"/><rect x="112.50" y="111.00" width="6.90" height="37.50" fill="#e0c090"/><rect x="119.40" y="111.00" width="10.30" height="37.50" fill="#e0dca8"/><rect x="129.70" y="111.00" width="6.30" height="37.50" fill="#e4d8a4"/><rect x="136.00" y="111.00" width="6.50" height="37.50" fill="#d4d8cc"/><rect x="142.50" y="111.00" width="3.50" height="37.50" fill="#dcb888"/><rect x="146.00" y="111.00" width="5.00" height="37.50" fill="#e0c490"/><rect x="151.00" y="111.00" width="2.00" height="37.50" fill="#d49870"/><rect x="153.00" y="111.00" width="2.70" height="37.50" fill="#d09068"/><rect x="155.70" y="111.00" width="14.30" height="37.50" fill="#e0dca4"/><rect x="170.00" y="111.00" width="2.40" height="37.50" fill="#dcb888"/><rect x="172.40" y="111.00" width="4.10" height="37.50" fill="#e0d098"/><rect x="176.50" y="111.00" width="2.30" height="37.50" fill="#d49470"/><rect x="178.80" y="111.00" width="5.80" height="37.50" fill="#dcc090"/><rect x="184.60" y="111.00" width="6.40" height="37.50" fill="#d0d8d4"/><rect x="191.00" y="111.00" width="4.20" height="37.50" fill="#e0dcb0"/><rect x="19.00" y="111.00" width="1.00" height="37.50" fill="#89a3c6"/><rect x="20.00" y="111.00" width="1.00" height="37.50" fill="#5979b1"/><rect x="21.00" y="111.00" width="1.00" height="37.50" fill="#9eb7d0"/><rect x="22.00" y="111.00" width="1.00" height="37.50" fill="#a5bdd5"/><rect x="23.00" y="111.00" width="1.00" height="37.50" fill="#a1b9d1"/><rect x="25.00" y="111.00" width="1.00" height="37.50" fill="#cedae2"/><rect x="26.00" y="111.00" width="1.00" height="37.50" fill="#b4c6d7"/><rect x="27.00" y="111.00" width="1.00" height="37.50" fill="#bdcddd"/><rect x="28.00" y="111.00" width="1.00" height="37.50" fill="#b7c7d8"/><rect x="29.00" y="111.00" width="1.00" height="37.50" fill="#bacada"/><rect x="30.00" y="111.00" width="1.00" height="37.50" fill="#d6deda"/><rect x="31.00" y="111.00" width="1.00" height="37.50" fill="#d4dcd8"/><rect x="32.00" y="111.00" width="1.00" height="37.50" fill="#d1d9d5"/><rect x="33.00" y="111.00" width="1.00" height="37.50" fill="#d4dcd8"/><rect x="34.00" y="111.00" width="1.00" height="37.50" fill="#d9d4ac"/><rect x="35.00" y="111.00" width="1.00" height="37.50" fill="#c7d3dc"/><rect x="36.00" y="111.00" width="1.00" height="37.50" fill="#cdd9e1"/><rect x="37.00" y="111.00" width="1.00" height="37.50" fill="#cbd7df"/><rect x="38.00" y="111.00" width="1.00" height="37.50" fill="#c7d3dc"/><rect x="39.00" y="111.00" width="1.00" height="37.50" fill="#c3d1db"/><rect x="40.00" y="111.00" width="1.00" height="37.50" fill="#c5d2db"/><rect x="41.00" y="111.00" width="1.00" height="37.50" fill="#9fb7d0"/><rect x="42.00" y="111.00" width="1.00" height="37.50" fill="#99b4ce"/><rect x="43.00" y="111.00" width="1.00" height="37.50" fill="#a6bed6"/><rect x="44.00" y="111.00" width="1.00" height="37.50" fill="#a2bad2"/><rect x="46.00" y="111.00" width="1.00" height="37.50" fill="#e2d7a0"/><rect x="47.00" y="111.00" width="1.00" height="37.50" fill="#e3d9a4"/><rect x="48.00" y="111.00" width="1.00" height="37.50" fill="#e3dba6"/><rect x="49.00" y="111.00" width="1.00" height="37.50" fill="#e1d69f"/><rect x="50.00" y="111.00" width="1.00" height="37.50" fill="#e3d9a4"/><rect x="51.00" y="111.00" width="1.00" height="37.50" fill="#e3daa5"/><rect x="52.00" y="111.00" width="1.00" height="37.50" fill="#e7dfab"/><rect x="53.00" y="111.00" width="1.00" height="37.50" fill="#e9e1ad"/><rect x="54.00" y="111.00" width="1.00" height="37.50" fill="#d8d4ac"/><rect x="55.00" y="111.00" width="1.00" height="37.50" fill="#d9d6af"/><rect x="56.00" y="111.00" width="1.00" height="37.50" fill="#e1e1bd"/><rect x="57.00" y="111.00" width="1.00" height="37.50" fill="#d8d4ac"/><rect x="58.00" y="111.00" width="1.00" height="37.50" fill="#dad8b2"/><rect x="59.00" y="111.00" width="1.00" height="37.50" fill="#e1d9a1"/><rect x="61.00" y="111.00" width="1.00" height="37.50" fill="#ded499"/><rect x="62.00" y="111.00" width="1.00" height="37.50" fill="#e3dba3"/><rect x="63.00" y="111.00" width="1.00" height="37.50" fill="#e3dba3"/><rect x="64.00" y="111.00" width="1.00" height="37.50" fill="#dcd094"/><rect x="65.00" y="111.00" width="1.00" height="37.50" fill="#e3dba3"/><rect x="66.00" y="111.00" width="1.00" height="37.50" fill="#dfd69d"/><rect x="68.00" y="111.00" width="1.00" height="37.50" fill="#e1d9a1"/><rect x="69.00" y="111.00" width="1.00" height="37.50" fill="#e2daa2"/><rect x="70.00" y="111.00" width="1.00" height="37.50" fill="#e4e0ac"/><rect x="71.00" y="111.00" width="1.00" height="37.50" fill="#ded7a0"/><rect x="72.00" y="111.00" width="1.00" height="37.50" fill="#ded7a0"/><rect x="73.00" y="111.00" width="1.00" height="37.50" fill="#ded7a1"/><rect x="74.00" y="111.00" width="1.00" height="37.50" fill="#ded7a0"/><rect x="75.00" y="111.00" width="1.00" height="37.50" fill="#e4e0ac"/><rect x="76.00" y="111.00" width="1.00" height="37.50" fill="#e5e1ad"/><rect x="77.00" y="111.00" width="1.00" height="37.50" fill="#ced6d1"/><rect x="78.00" y="111.00" width="1.00" height="37.50" fill="#d2dad4"/><rect x="79.00" y="111.00" width="1.00" height="37.50" fill="#d4dcd6"/><rect x="80.00" y="111.00" width="1.00" height="37.50" fill="#d5ddd7"/><rect x="81.00" y="111.00" width="1.00" height="37.50" fill="#d4dcd6"/><rect x="82.00" y="111.00" width="1.00" height="37.50" fill="#bdcbdd"/><rect x="83.00" y="111.00" width="1.00" height="37.50" fill="#c0cee0"/><rect x="84.00" y="111.00" width="1.00" height="37.50" fill="#d1d8cf"/><rect x="85.00" y="111.00" width="1.00" height="37.50" fill="#d5dbd1"/><rect x="86.00" y="111.00" width="1.00" height="37.50" fill="#d0d7cf"/><rect x="87.00" y="111.00" width="1.00" height="37.50" fill="#d2d9d0"/><rect x="88.00" y="111.00" width="1.00" height="37.50" fill="#d2d9cf"/><rect x="90.00" y="111.00" width="1.00" height="37.50" fill="#cbd4ce"/><rect x="91.00" y="111.00" width="1.00" height="37.50" fill="#d3d9d0"/><rect x="93.00" y="111.00" width="1.00" height="37.50" fill="#c9d5e1"/><rect x="94.00" y="111.00" width="1.00" height="37.50" fill="#c7d3df"/><rect x="95.00" y="111.00" width="1.00" height="37.50" fill="#e1d6a3"/><rect x="96.00" y="111.00" width="1.00" height="37.50" fill="#e3daa9"/><rect x="97.00" y="111.00" width="1.00" height="37.50" fill="#e7dfaf"/><rect x="98.00" y="111.00" width="1.00" height="37.50" fill="#e1d5a2"/><rect x="99.00" y="111.00" width="1.00" height="37.50" fill="#e9e1b1"/><rect x="100.00" y="111.00" width="1.00" height="37.50" fill="#e1d5a1"/><rect x="101.00" y="111.00" width="1.00" height="37.50" fill="#ced8de"/><rect x="102.00" y="111.00" width="1.00" height="37.50" fill="#cdd7dd"/><rect x="103.00" y="111.00" width="1.00" height="37.50" fill="#d2dce2"/><rect x="104.00" y="111.00" width="1.00" height="37.50" fill="#cad4db"/><rect x="105.00" y="111.00" width="1.00" height="37.50" fill="#c9d4db"/><rect x="106.00" y="111.00" width="1.00" height="37.50" fill="#c6d2db"/><rect x="107.00" y="111.00" width="1.00" height="37.50" fill="#c8d3db"/><rect x="108.00" y="111.00" width="1.00" height="37.50" fill="#c9d4db"/><rect x="109.00" y="111.00" width="1.00" height="37.50" fill="#cdd7dd"/><rect x="110.00" y="111.00" width="1.00" height="37.50" fill="#ce7651"/><rect x="111.00" y="111.00" width="1.00" height="37.50" fill="#ce754e"/><rect x="112.00" y="111.00" width="1.00" height="37.50" fill="#e5c595"/><rect x="113.00" y="111.00" width="1.00" height="37.50" fill="#ddb985"/><rect x="114.00" y="111.00" width="1.00" height="37.50" fill="#e6c696"/><rect x="115.00" y="111.00" width="1.00" height="37.50" fill="#debc8a"/><rect x="116.00" y="111.00" width="1.00" height="37.50" fill="#e3c393"/><rect x="117.00" y="111.00" width="1.00" height="37.50" fill="#e3c393"/><rect x="118.00" y="111.00" width="1.00" height="37.50" fill="#e6c696"/><rect x="119.00" y="111.00" width="1.00" height="37.50" fill="#e4e0ac"/><rect x="120.00" y="111.00" width="1.00" height="37.50" fill="#dcd49c"/><rect x="121.00" y="111.00" width="1.00" height="37.50" fill="#e3dfab"/><rect x="122.00" y="111.00" width="1.00" height="37.50" fill="#e6e2ae"/><rect x="123.00" y="111.00" width="1.00" height="37.50" fill="#e4e0ac"/><rect x="125.00" y="111.00" width="1.00" height="37.50" fill="#ddd59d"/><rect x="126.00" y="111.00" width="1.00" height="37.50" fill="#ddd49c"/><rect x="127.00" y="111.00" width="1.00" height="37.50" fill="#ded8a2"/><rect x="128.00" y="111.00" width="1.00" height="37.50" fill="#e3dfab"/><rect x="129.00" y="111.00" width="1.00" height="37.50" fill="#ded7a0"/><rect x="130.00" y="111.00" width="1.00" height="37.50" fill="#e5d9a5"/><rect x="131.00" y="111.00" width="1.00" height="37.50" fill="#e7dba7"/><rect x="132.00" y="111.00" width="1.00" height="37.50" fill="#e5d9a5"/><rect x="133.00" y="111.00" width="1.00" height="37.50" fill="#e7dba7"/><rect x="134.00" y="111.00" width="1.00" height="37.50" fill="#e8dca8"/><rect x="135.00" y="111.00" width="1.00" height="37.50" fill="#e7dba7"/><rect x="136.00" y="111.00" width="1.00" height="37.50" fill="#cbd2ca"/><rect x="137.00" y="111.00" width="1.00" height="37.50" fill="#d6dace"/><rect x="138.00" y="111.00" width="1.00" height="37.50" fill="#d5d9cd"/><rect x="139.00" y="111.00" width="1.00" height="37.50" fill="#d8dcd0"/><rect x="140.00" y="111.00" width="1.00" height="37.50" fill="#d0d5cb"/><rect x="141.00" y="111.00" width="1.00" height="37.50" fill="#ced4ca"/><rect x="142.00" y="111.00" width="1.00" height="37.50" fill="#d9b17d"/><rect x="143.00" y="111.00" width="1.00" height="37.50" fill="#dcb787"/><rect x="144.00" y="111.00" width="1.00" height="37.50" fill="#dab380"/><rect x="145.00" y="111.00" width="1.00" height="37.50" fill="#e0bc8c"/><rect x="146.00" y="111.00" width="1.00" height="37.50" fill="#e1c591"/><rect x="147.00" y="111.00" width="1.00" height="37.50" fill="#dfc28d"/><rect x="148.00" y="111.00" width="1.00" height="37.50" fill="#dfc18c"/><rect x="149.00" y="111.00" width="1.00" height="37.50" fill="#ddbe86"/><rect x="150.00" y="111.00" width="1.00" height="37.50" fill="#ddbe87"/><rect x="151.00" y="111.00" width="1.00" height="37.50" fill="#d99d75"/><rect x="152.00" y="111.00" width="1.00" height="37.50" fill="#d29368"/><rect x="154.00" y="111.00" width="1.00" height="37.50" fill="#d19169"/><rect x="155.00" y="111.00" width="1.00" height="37.50" fill="#d3936b"/><rect x="156.00" y="111.00" width="1.00" height="37.50" fill="#ded79c"/><rect x="157.00" y="111.00" width="1.00" height="37.50" fill="#dfdaa1"/><rect x="158.00" y="111.00" width="1.00" height="37.50" fill="#ddd69b"/><rect x="159.00" y="111.00" width="1.00" height="37.50" fill="#ddd69b"/><rect x="160.00" y="111.00" width="1.00" height="37.50" fill="#dfdaa1"/><rect x="162.00" y="111.00" width="1.00" height="37.50" fill="#dfd9a0"/><rect x="163.00" y="111.00" width="1.00" height="37.50" fill="#dfdaa1"/><rect x="164.00" y="111.00" width="1.00" height="37.50" fill="#e1dda5"/><rect x="165.00" y="111.00" width="1.00" height="37.50" fill="#ddd598"/><rect x="166.00" y="111.00" width="1.00" height="37.50" fill="#e5e1a9"/><rect x="167.00" y="111.00" width="1.00" height="37.50" fill="#ddd498"/><rect x="168.00" y="111.00" width="1.00" height="37.50" fill="#dfdaa2"/><rect x="169.00" y="111.00" width="1.00" height="37.50" fill="#e3dfa7"/><rect x="170.00" y="111.00" width="1.00" height="37.50" fill="#d8b07c"/><rect x="171.00" y="111.00" width="1.00" height="37.50" fill="#d9b27f"/><rect x="172.00" y="111.00" width="1.00" height="37.50" fill="#ddc88c"/><rect x="173.00" y="111.00" width="1.00" height="37.50" fill="#ddca8f"/><rect x="174.00" y="111.00" width="1.00" height="37.50" fill="#e1d199"/><rect x="175.00" y="111.00" width="1.00" height="37.50" fill="#e3d39b"/><rect x="176.00" y="111.00" width="1.00" height="37.50" fill="#da9a76"/><rect x="178.00" y="111.00" width="1.00" height="37.50" fill="#d99975"/><rect x="179.00" y="111.00" width="1.00" height="37.50" fill="#dbbf8e"/><rect x="181.00" y="111.00" width="1.00" height="37.50" fill="#e2c696"/><rect x="182.00" y="111.00" width="1.00" height="37.50" fill="#d9b884"/><rect x="183.00" y="111.00" width="1.00" height="37.50" fill="#e1c595"/><rect x="184.00" y="111.00" width="1.00" height="37.50" fill="#dbbd8b"/><rect x="185.00" y="111.00" width="1.00" height="37.50" fill="#cfd7d4"/><rect x="186.00" y="111.00" width="1.00" height="37.50" fill="#d6deda"/><rect x="187.00" y="111.00" width="1.00" height="37.50" fill="#cfd7d4"/><rect x="188.00" y="111.00" width="1.00" height="37.50" fill="#d5ddd9"/><rect x="189.00" y="111.00" width="1.00" height="37.50" fill="#d2dad6"/><rect x="190.00" y="111.00" width="1.00" height="37.50" fill="#cad4d2"/><rect x="191.00" y="111.00" width="1.00" height="37.50" fill="#e6e2b6"/><rect x="192.00" y="111.00" width="1.00" height="37.50" fill="#ddd5a5"/><rect x="193.00" y="111.00" width="1.00" height="37.50" fill="#e2deb2"/><rect x="194.00" y="111.00" width="1.00" height="37.50" fill="#dfd9ac"/><line x1="19.00" y1="35.50" x2="195.00" y2="35.50" stroke="#9a9a9a" stroke-width="0.5"/><line x1="19.00" y1="73.30" x2="195.00" y2="73.30" stroke="#9a9a9a" stroke-width="0.5"/><line x1="19.00" y1="111.00" x2="195.00" y2="111.00" stroke="#9a9a9a" stroke-width="0.5"/><line x1="19.00" y1="148.50" x2="195.00" y2="148.50" stroke="#9a9a9a" stroke-width="0.5"/><rect x="298.50" y="33.00" width="176.50" height="2.70" fill="#5ab4ba"/><rect x="326.00" y="33.00" width="1.00" height="2.70" fill="#e4806e"/><rect x="336.70" y="33.00" width="6.90" height="2.70" fill="#e4806e"/><rect x="346.00" y="33.00" width="12.00" height="2.70" fill="#e4806e"/><rect x="411.60" y="33.00" width="10.70" height="2.70" fill="#e4806e"/><rect x="298.50" y="35.70" width="0.70" height="38.20" fill="#f6f3d5"/><rect x="299.20" y="35.70" width="8.00" height="38.20" fill="#eef0e0"/><rect x="307.20" y="35.70" width="8.10" height="38.20" fill="#f6f3d5"/><rect x="315.30" y="35.70" width="9.70" height="38.20" fill="#eef0e0"/><rect x="325.00" y="35.70" width="4.70" height="38.20" fill="#feefb1"/><rect x="329.70" y="35.70" width="2.90" height="38.20" fill="#eef0dc"/><rect x="332.60" y="35.70" width="3.40" height="38.20" fill="#f6f3d1"/><rect x="336.00" y="35.70" width="8.00" height="38.20" fill="#faeba9"/><rect x="344.00" y="35.70" width="6.00" height="38.20" fill="#f6e3a1"/><rect x="350.00" y="35.70" width="8.00" height="38.20" fill="#faeba9"/><rect x="358.00" y="35.70" width="53.00" height="38.20" fill="#fcf3b9"/><rect x="411.00" y="35.70" width="12.20" height="38.20" fill="#f8e7a7"/><rect x="423.20" y="35.70" width="21.90" height="38.20" fill="#fcf3bd"/><rect x="445.10" y="35.70" width="6.90" height="38.20" fill="#eef0dc"/><rect x="452.00" y="35.70" width="3.00" height="38.20" fill="#f6f3d5"/><rect x="455.00" y="35.70" width="9.00" height="38.20" fill="#eef0dc"/><rect x="464.00" y="35.70" width="3.00" height="38.20" fill="#f6f3d5"/><rect x="467.00" y="35.70" width="7.80" height="38.20" fill="#eef0dc"/><rect x="298.50" y="35.70" width="0.50" height="38.20" fill="#f7f4d7"/><rect x="301.00" y="35.70" width="1.00" height="38.20" fill="#edf0e0"/><rect x="302.00" y="35.70" width="1.00" height="38.20" fill="#eff1e1"/><rect x="303.00" y="35.70" width="1.00" height="38.20" fill="#eff1e1"/><rect x="304.00" y="35.70" width="1.00" height="38.20" fill="#ebeedf"/><rect x="306.00" y="35.70" width="1.00" height="38.20" fill="#eff1e1"/><rect x="307.00" y="35.70" width="1.00" height="38.20" fill="#f7f4d7"/><rect x="308.00" y="35.70" width="1.00" height="38.20" fill="#f6f2d4"/><rect x="309.00" y="35.70" width="1.00" height="38.20" fill="#f5f2d3"/><rect x="310.00" y="35.70" width="1.00" height="38.20" fill="#f6f2d4"/><rect x="311.00" y="35.70" width="1.00" height="38.20" fill="#f6f2d4"/><rect x="312.00" y="35.70" width="1.00" height="38.20" fill="#f5f1d1"/><rect x="313.00" y="35.70" width="1.00" height="38.20" fill="#f6f3d6"/><rect x="315.00" y="35.70" width="1.00" height="38.20" fill="#f0f2e2"/><rect x="316.00" y="35.70" width="1.00" height="38.20" fill="#eff1e1"/><rect x="317.00" y="35.70" width="1.00" height="38.20" fill="#ecefe0"/><rect x="318.00" y="35.70" width="1.00" height="38.20" fill="#edf0e0"/><rect x="320.00" y="35.70" width="1.00" height="38.20" fill="#edf0e0"/><rect x="321.00" y="35.70" width="1.00" height="38.20" fill="#eff1e1"/><rect x="322.00" y="35.70" width="1.00" height="38.20" fill="#f0f1e2"/><rect x="324.00" y="35.70" width="1.00" height="38.20" fill="#eff1e1"/><rect x="326.00" y="35.70" width="1.00" height="38.20" fill="#fef1b3"/><rect x="328.00" y="35.70" width="1.00" height="38.20" fill="#fdecad"/><rect x="329.00" y="35.70" width="1.00" height="38.20" fill="#fef1b3"/><rect x="330.00" y="35.70" width="1.00" height="38.20" fill="#ecefdc"/><rect x="331.00" y="35.70" width="1.00" height="38.20" fill="#f0f2de"/><rect x="333.00" y="35.70" width="1.00" height="38.20" fill="#f6f3d2"/><rect x="334.00" y="35.70" width="1.00" height="38.20" fill="#f6f4d2"/><rect x="335.00" y="35.70" width="1.00" height="38.20" fill="#f6f3d0"/><rect x="336.00" y="35.70" width="1.00" height="38.20" fill="#faecaa"/><rect x="337.00" y="35.70" width="1.00" height="38.20" fill="#faecaa"/><rect x="338.00" y="35.70" width="1.00" height="38.20" fill="#f9e9a7"/><rect x="339.00" y="35.70" width="1.00" height="38.20" fill="#fbedab"/><rect x="341.00" y="35.70" width="1.00" height="38.20" fill="#f9e9a6"/><rect x="342.00" y="35.70" width="1.00" height="38.20" fill="#fbedab"/><rect x="343.00" y="35.70" width="1.00" height="38.20" fill="#faeaa8"/><rect x="344.00" y="35.70" width="1.00" height="38.20" fill="#f6e4a2"/><rect x="346.00" y="35.70" width="1.00" height="38.20" fill="#f6e3a0"/><rect x="347.00" y="35.70" width="1.00" height="38.20" fill="#f5e19e"/><rect x="348.00" y="35.70" width="1.00" height="38.20" fill="#f6e4a2"/><rect x="349.00" y="35.70" width="1.00" height="38.20" fill="#f6e4a2"/><rect x="350.00" y="35.70" width="1.00" height="38.20" fill="#faecaa"/><rect x="351.00" y="35.70" width="1.00" height="38.20" fill="#f9e9a6"/><rect x="352.00" y="35.70" width="1.00" height="38.20" fill="#faecaa"/><rect x="353.00" y="35.70" width="1.00" height="38.20" fill="#faeaa8"/><rect x="354.00" y="35.70" width="1.00" height="38.20" fill="#f9e9a6"/><rect x="355.00" y="35.70" width="1.00" height="38.20" fill="#f9e9a7"/><rect x="358.00" y="35.70" width="1.00" height="38.20" fill="#fcf4ba"/><rect x="359.00" y="35.70" width="1.00" height="38.20" fill="#fcf3ba"/><rect x="360.00" y="35.70" width="1.00" height="38.20" fill="#fcf3ba"/><rect x="361.00" y="35.70" width="1.00" height="38.20" fill="#fcf2b8"/><rect x="362.00" y="35.70" width="1.00" height="38.20" fill="#fbf1b5"/><rect x="363.00" y="35.70" width="1.00" height="38.20" fill="#fbf1b6"/><rect x="364.00" y="35.70" width="1.00" height="38.20" fill="#fcf4bb"/><rect x="365.00" y="35.70" width="1.00" height="38.20" fill="#fbf1b6"/><rect x="366.00" y="35.70" width="1.00" height="38.20" fill="#fcf4bb"/><rect x="367.00" y="35.70" width="1.00" height="38.20" fill="#fcf4ba"/><rect x="368.00" y="35.70" width="1.00" height="38.20" fill="#fcf4bb"/><rect x="370.00" y="35.70" width="1.00" height="38.20" fill="#fcf4ba"/><rect x="371.00" y="35.70" width="1.00" height="38.20" fill="#fcf3b8"/><rect x="372.00" y="35.70" width="1.00" height="38.20" fill="#fbf2b7"/><rect x="373.00" y="35.70" width="1.00" height="38.20" fill="#fcf4ba"/><rect x="375.00" y="35.70" width="1.00" height="38.20" fill="#fcf4ba"/><rect x="376.00" y="35.70" width="1.00" height="38.20" fill="#fbf1b6"/><rect x="378.00" y="35.70" width="1.00" height="38.20" fill="#fcf4ba"/><rect x="379.00" y="35.70" width="1.00" height="38.20" fill="#fcf4ba"/><rect x="380.00" y="35.70" width="1.00" height="38.20" fill="#fbf1b7"/><rect x="381.00" y="35.70" width="1.00" height="38.20" fill="#fbf1b6"/><rect x="382.00" y="35.70" width="1.00" height="38.20" fill="#fbf1b6"/><rect x="383.00" y="35.70" width="1.00" height="38.20" fill="#fcf4bb"/><rect x="384.00" y="35.70" width="1.00" height="38.20" fill="#fcf4ba"/><rect x="385.00" y="35.70" width="1.00" height="38.20" fill="#fbf1b6"/><rect x="387.00" y="35.70" width="1.00" height="38.20" fill="#fbf2b7"/><rect x="389.00" y="35.70" width="1.00" height="38.20" fill="#fbf1b5"/><rect x="390.00" y="35.70" width="1.00" height="38.20" fill="#fcf4ba"/><rect x="391.00" y="35.70" width="1.00" height="38.20" fill="#fbf2b7"/><rect x="392.00" y="35.70" width="1.00" height="38.20" fill="#fcf4ba"/><rect x="393.00" y="35.70" width="1.00" height="38.20" fill="#fbf0b5"/><rect x="394.00" y="35.70" width="1.00" height="38.20" fill="#fcf4bb"/><rect x="395.00" y="35.70" width="1.00" height="38.20" fill="#fcf4bb"/><rect x="396.00" y="35.70" width="1.00" height="38.20" fill="#fcf2b8"/><rect x="397.00" y="35.70" width="1.00" height="38.20" fill="#fbf1b5"/><rect x="398.00" y="35.70" width="1.00" height="38.20" fill="#fbf1b6"/><rect x="399.00" y="35.70" width="1.00" height="38.20" fill="#fcf4ba"/><rect x="400.00" y="35.70" width="1.00" height="38.20" fill="#fcf4bb"/><rect x="402.00" y="35.70" width="1.00" height="38.20" fill="#fbf1b5"/><rect x="403.00" y="35.70" width="1.00" height="38.20" fill="#fbf2b7"/><rect x="404.00" y="35.70" width="1.00" height="38.20" fill="#fbf1b6"/><rect x="405.00" y="35.70" width="1.00" height="38.20" fill="#fcf4bb"/><rect x="406.00" y="35.70" width="1.00" height="38.20" fill="#fcf2b8"/><rect x="407.00" y="35.70" width="1.00" height="38.20" fill="#fcf4ba"/><rect x="409.00" y="35.70" width="1.00" height="38.20" fill="#fcf4bb"/><rect x="410.00" y="35.70" width="1.00" height="38.20" fill="#fcf4ba"/><rect x="411.00" y="35.70" width="1.00" height="38.20" fill="#f8e7a6"/><rect x="412.00" y="35.70" width="1.00" height="38.20" fill="#f9e9a9"/><rect x="413.00" y="35.70" width="1.00" height="38.20" fill="#f8e7a6"/><rect x="414.00" y="35.70" width="1.00" height="38.20" fill="#f8e8a8"/><rect x="415.00" y="35.70" width="1.00" height="38.20" fill="#f8e8a8"/><rect x="416.00" y="35.70" width="1.00" height="38.20" fill="#f7e6a5"/><rect x="417.00" y="35.70" width="1.00" height="38.20" fill="#f7e6a5"/><rect x="418.00" y="35.70" width="1.00" height="38.20" fill="#f7e5a4"/><rect x="419.00" y="35.70" width="1.00" height="38.20" fill="#f7e5a4"/><rect x="420.00" y="35.70" width="1.00" height="38.20" fill="#f9e9a9"/><rect x="421.00" y="35.70" width="1.00" height="38.20" fill="#f7e5a4"/><rect x="423.00" y="35.70" width="1.00" height="38.20" fill="#fcf2bc"/><rect x="424.00" y="35.70" width="1.00" height="38.20" fill="#fcf3be"/><rect x="425.00" y="35.70" width="1.00" height="38.20" fill="#fcf3be"/><rect x="426.00" y="35.70" width="1.00" height="38.20" fill="#fbf1b9"/><rect x="427.00" y="35.70" width="1.00" height="38.20" fill="#fcf4bf"/><rect x="428.00" y="35.70" width="1.00" height="38.20" fill="#fcf4be"/><rect x="429.00" y="35.70" width="1.00" height="38.20" fill="#fcf3be"/><rect x="430.00" y="35.70" width="1.00" height="38.20" fill="#fcf4be"/><rect x="431.00" y="35.70" width="1.00" height="38.20" fill="#fbf1ba"/><rect x="432.00" y="35.70" width="1.00" height="38.20" fill="#fbf1ba"/><rect x="433.00" y="35.70" width="1.00" height="38.20" fill="#fcf4be"/><rect x="435.00" y="35.70" width="1.00" height="38.20" fill="#fcf4be"/><rect x="436.00" y="35.70" width="1.00" height="38.20" fill="#fcf4be"/><rect x="437.00" y="35.70" width="1.00" height="38.20" fill="#fbf1ba"/><rect x="438.00" y="35.70" width="1.00" height="38.20" fill="#fcf4bf"/><rect x="439.00" y="35.70" width="1.00" height="38.20" fill="#fcf3be"/><rect x="440.00" y="35.70" width="1.00" height="38.20" fill="#fcf3be"/><rect x="441.00" y="35.70" width="1.00" height="38.20" fill="#fcf4bf"/><rect x="442.00" y="35.70" width="1.00" height="38.20" fill="#fcf4be"/><rect x="443.00" y="35.70" width="1.00" height="38.20" fill="#fbf1ba"/><rect x="444.00" y="35.70" width="1.00" height="38.20" fill="#fcf4be"/><rect x="445.00" y="35.70" width="1.00" height="38.20" fill="#eff1de"/><rect x="446.00" y="35.70" width="1.00" height="38.20" fill="#eff1dd"/><rect x="447.00" y="35.70" width="1.00" height="38.20" fill="#edf0dc"/><rect x="449.00" y="35.70" width="1.00" height="38.20" fill="#edefdc"/><rect x="450.00" y="35.70" width="1.00" height="38.20" fill="#edefdc"/><rect x="451.00" y="35.70" width="1.00" height="38.20" fill="#edefdc"/><rect x="452.00" y="35.70" width="1.00" height="38.20" fill="#f5f1d2"/><rect x="453.00" y="35.70" width="1.00" height="38.20" fill="#f6f2d4"/><rect x="454.00" y="35.70" width="1.00" height="38.20" fill="#f6f2d3"/><rect x="455.00" y="35.70" width="1.00" height="38.20" fill="#eff1de"/><rect x="456.00" y="35.70" width="1.00" height="38.20" fill="#edefdc"/><rect x="457.00" y="35.70" width="1.00" height="38.20" fill="#ebeedb"/><rect x="459.00" y="35.70" width="1.00" height="38.20" fill="#eff1dd"/><rect x="460.00" y="35.70" width="1.00" height="38.20" fill="#edefdc"/><rect x="461.00" y="35.70" width="1.00" height="38.20" fill="#eff1dd"/><rect x="462.00" y="35.70" width="1.00" height="38.20" fill="#eff1dd"/><rect x="463.00" y="35.70" width="1.00" height="38.20" fill="#eceedb"/><rect x="464.00" y="35.70" width="1.00" height="38.20" fill="#f5f1d3"/><rect x="465.00" y="35.70" width="1.00" height="38.20" fill="#f5f1d1"/><rect x="466.00" y="35.70" width="1.00" height="38.20" fill="#f5f1d1"/><rect x="467.00" y="35.70" width="1.00" height="38.20" fill="#edefdc"/><rect x="468.00" y="35.70" width="1.00" height="38.20" fill="#edefdc"/><rect x="469.00" y="35.70" width="1.00" height="38.20" fill="#f0f2de"/><rect x="472.00" y="35.70" width="1.00" height="38.20" fill="#edefdc"/><rect x="473.00" y="35.70" width="1.00" height="38.20" fill="#edefdc"/><rect x="298.50" y="73.90" width="0.80" height="37.70" fill="#f0ab8d"/><rect x="299.30" y="73.90" width="6.70" height="37.70" fill="#fcf3bd"/><rect x="306.00" y="73.90" width="5.80" height="37.70" fill="#f6f3d5"/><rect x="311.80" y="73.90" width="3.70" height="37.70" fill="#eef0d8"/><rect x="315.50" y="73.90" width="5.50" height="37.70" fill="#f6f3d1"/><rect x="321.00" y="73.90" width="6.00" height="37.70" fill="#eef0d8"/><rect x="327.00" y="73.90" width="2.00" height="37.70" fill="#f6f3d1"/><rect x="329.00" y="73.90" width="7.00" height="37.70" fill="#eef0d8"/><rect x="336.00" y="73.90" width="13.00" height="37.70" fill="#fcf1b5"/><rect x="349.00" y="73.90" width="3.50" height="37.70" fill="#f8e7a5"/><rect x="352.50" y="73.90" width="19.30" height="37.70" fill="#fcf3bd"/><rect x="371.80" y="73.90" width="32.20" height="37.70" fill="#f2f2d8"/><rect x="404.00" y="73.90" width="6.00" height="37.70" fill="#faf3c9"/><rect x="410.00" y="73.90" width="2.80" height="37.70" fill="#eec385"/><rect x="412.80" y="73.90" width="5.20" height="37.70" fill="#faebad"/><rect x="418.00" y="73.90" width="3.00" height="37.70" fill="#f6dfa5"/><rect x="421.00" y="73.90" width="14.30" height="37.70" fill="#fcf1b9"/><rect x="435.30" y="73.90" width="5.70" height="37.70" fill="#faf3cd"/><rect x="441.00" y="73.90" width="4.70" height="37.70" fill="#fcf1b9"/><rect x="445.70" y="73.90" width="2.30" height="37.70" fill="#f6e7a9"/><rect x="448.00" y="73.90" width="10.40" height="37.70" fill="#f8f3d1"/><rect x="458.40" y="73.90" width="16.40" height="37.70" fill="#fcefb1"/><rect x="298.50" y="73.90" width="0.50" height="37.70" fill="#efa989"/><rect x="299.00" y="73.90" width="1.00" height="37.70" fill="#fcf4be"/><rect x="300.00" y="73.90" width="1.00" height="37.70" fill="#fbf0b9"/><rect x="301.00" y="73.90" width="1.00" height="37.70" fill="#fbf2bb"/><rect x="302.00" y="73.90" width="1.00" height="37.70" fill="#fbf1ba"/><rect x="303.00" y="73.90" width="1.00" height="37.70" fill="#fbf1ba"/><rect x="304.00" y="73.90" width="1.00" height="37.70" fill="#fbf1b9"/><rect x="305.00" y="73.90" width="1.00" height="37.70" fill="#fbf1b9"/><rect x="306.00" y="73.90" width="1.00" height="37.70" fill="#f6f2d4"/><rect x="308.00" y="73.90" width="1.00" height="37.70" fill="#f7f4d7"/><rect x="309.00" y="73.90" width="1.00" height="37.70" fill="#f5f1d1"/><rect x="310.00" y="73.90" width="1.00" height="37.70" fill="#f5f1d2"/><rect x="311.00" y="73.90" width="1.00" height="37.70" fill="#f6f3d6"/><rect x="312.00" y="73.90" width="1.00" height="37.70" fill="#eff1d9"/><rect x="313.00" y="73.90" width="1.00" height="37.70" fill="#eff1d9"/><rect x="314.00" y="73.90" width="1.00" height="37.70" fill="#eff1d9"/><rect x="315.00" y="73.90" width="1.00" height="37.70" fill="#f5f0cd"/><rect x="316.00" y="73.90" width="1.00" height="37.70" fill="#f5f1cf"/><rect x="317.00" y="73.90" width="1.00" height="37.70" fill="#f6f2cf"/><rect x="318.00" y="73.90" width="1.00" height="37.70" fill="#f7f4d3"/><rect x="319.00" y="73.90" width="1.00" height="37.70" fill="#f6f3d0"/><rect x="321.00" y="73.90" width="1.00" height="37.70" fill="#eff1d9"/><rect x="322.00" y="73.90" width="1.00" height="37.70" fill="#eff1d9"/><rect x="323.00" y="73.90" width="1.00" height="37.70" fill="#edefd8"/><rect x="324.00" y="73.90" width="1.00" height="37.70" fill="#eff0d9"/><rect x="325.00" y="73.90" width="1.00" height="37.70" fill="#edefd8"/><rect x="326.00" y="73.90" width="1.00" height="37.70" fill="#eceed7"/><rect x="327.00" y="73.90" width="1.00" height="37.70" fill="#f6f4d2"/><rect x="328.00" y="73.90" width="1.00" height="37.70" fill="#f6f2d0"/><rect x="329.00" y="73.90" width="1.00" height="37.70" fill="#eceed7"/><rect x="330.00" y="73.90" width="1.00" height="37.70" fill="#eff1da"/><rect x="331.00" y="73.90" width="1.00" height="37.70" fill="#eff1d9"/><rect x="332.00" y="73.90" width="1.00" height="37.70" fill="#eff1d9"/><rect x="334.00" y="73.90" width="1.00" height="37.70" fill="#f0f1da"/><rect x="335.00" y="73.90" width="1.00" height="37.70" fill="#edefd8"/><rect x="336.00" y="73.90" width="1.00" height="37.70" fill="#fcf1b6"/><rect x="337.00" y="73.90" width="1.00" height="37.70" fill="#fcf2b7"/><rect x="338.00" y="73.90" width="1.00" height="37.70" fill="#fcf3b7"/><rect x="339.00" y="73.90" width="1.00" height="37.70" fill="#fbf0b3"/><rect x="340.00" y="73.90" width="1.00" height="37.70" fill="#fcf1b6"/><rect x="341.00" y="73.90" width="1.00" height="37.70" fill="#fcf3b7"/><rect x="342.00" y="73.90" width="1.00" height="37.70" fill="#fcf3b7"/><rect x="343.00" y="73.90" width="1.00" height="37.70" fill="#fbefb2"/><rect x="345.00" y="73.90" width="1.00" height="37.70" fill="#fcf0b4"/><rect x="346.00" y="73.90" width="1.00" height="37.70" fill="#fbeeb1"/><rect x="348.00" y="73.90" width="1.00" height="37.70" fill="#fcf2b6"/><rect x="349.00" y="73.90" width="1.00" height="37.70" fill="#f8e8a6"/><rect x="350.00" y="73.90" width="1.00" height="37.70" fill="#f9e9a7"/><rect x="353.00" y="73.90" width="1.00" height="37.70" fill="#fcf2bb"/><rect x="354.00" y="73.90" width="1.00" height="37.70" fill="#fcf2bc"/><rect x="356.00" y="73.90" width="1.00" height="37.70" fill="#fbf1ba"/><rect x="357.00" y="73.90" width="1.00" height="37.70" fill="#fcf4be"/><rect x="358.00" y="73.90" width="1.00" height="37.70" fill="#fcf3be"/><rect x="359.00" y="73.90" width="1.00" height="37.70" fill="#fbf0b9"/><rect x="360.00" y="73.90" width="1.00" height="37.70" fill="#fcf3be"/><rect x="362.00" y="73.90" width="1.00" height="37.70" fill="#fbf1b9"/><rect x="363.00" y="73.90" width="1.00" height="37.70" fill="#fcf3bc"/><rect x="366.00" y="73.90" width="1.00" height="37.70" fill="#fcf3be"/><rect x="368.00" y="73.90" width="1.00" height="37.70" fill="#fcf2bc"/><rect x="369.00" y="73.90" width="1.00" height="37.70" fill="#fcf4be"/><rect x="370.00" y="73.90" width="1.00" height="37.70" fill="#fcf4be"/><rect x="371.00" y="73.90" width="1.00" height="37.70" fill="#fcf3be"/><rect x="373.00" y="73.90" width="1.00" height="37.70" fill="#f3f3da"/><rect x="374.00" y="73.90" width="1.00" height="37.70" fill="#f2f1d7"/><rect x="375.00" y="73.90" width="1.00" height="37.70" fill="#f1f0d5"/><rect x="376.00" y="73.90" width="1.00" height="37.70" fill="#f1f1d6"/><rect x="377.00" y="73.90" width="1.00" height="37.70" fill="#f3f3d9"/><rect x="378.00" y="73.90" width="1.00" height="37.70" fill="#f1f0d4"/><rect x="380.00" y="73.90" width="1.00" height="37.70" fill="#f1f0d5"/><rect x="382.00" y="73.90" width="1.00" height="37.70" fill="#f1f1d6"/><rect x="383.00" y="73.90" width="1.00" height="37.70" fill="#f3f3da"/><rect x="384.00" y="73.90" width="1.00" height="37.70" fill="#f3f3d9"/><rect x="386.00" y="73.90" width="1.00" height="37.70" fill="#f1f1d6"/><rect x="387.00" y="73.90" width="1.00" height="37.70" fill="#f1f0d5"/><rect x="389.00" y="73.90" width="1.00" height="37.70" fill="#f3f3da"/><rect x="390.00" y="73.90" width="1.00" height="37.70" fill="#f2f1d6"/><rect x="391.00" y="73.90" width="1.00" height="37.70" fill="#f1f0d5"/><rect x="392.00" y="73.90" width="1.00" height="37.70" fill="#f2f2d9"/><rect x="394.00" y="73.90" width="1.00" height="37.70" fill="#f3f3d9"/><rect x="395.00" y="73.90" width="1.00" height="37.70" fill="#f1f0d5"/><rect x="396.00" y="73.90" width="1.00" height="37.70" fill="#f2f1d6"/><rect x="397.00" y="73.90" width="1.00" height="37.70" fill="#f3f3d9"/><rect x="398.00" y="73.90" width="1.00" height="37.70" fill="#f3f3d9"/><rect x="399.00" y="73.90" width="1.00" height="37.70" fill="#f2f1d6"/><rect x="400.00" y="73.90" width="1.00" height="37.70" fill="#f3f3d9"/><rect x="401.00" y="73.90" width="1.00" height="37.70" fill="#f3f3da"/><rect x="402.00" y="73.90" width="1.00" height="37.70" fill="#f3f3da"/><rect x="404.00" y="73.90" width="1.00" height="37.70" fill="#faf2c8"/><rect x="407.00" y="73.90" width="1.00" height="37.70" fill="#f9f1c5"/><rect x="408.00" y="73.90" width="1.00" height="37.70" fill="#f9f1c6"/><rect x="409.00" y="73.90" width="1.00" height="37.70" fill="#f9f1c5"/><rect x="410.00" y="73.90" width="1.00" height="37.70" fill="#efc486"/><rect x="411.00" y="73.90" width="1.00" height="37.70" fill="#f0c587"/><rect x="412.00" y="73.90" width="1.00" height="37.70" fill="#f0c587"/><rect x="413.00" y="73.90" width="1.00" height="37.70" fill="#f9e9aa"/><rect x="414.00" y="73.90" width="1.00" height="37.70" fill="#f9e9a9"/><rect x="415.00" y="73.90" width="1.00" height="37.70" fill="#faeaac"/><rect x="416.00" y="73.90" width="1.00" height="37.70" fill="#faecae"/><rect x="417.00" y="73.90" width="1.00" height="37.70" fill="#f9eaab"/><rect x="418.00" y="73.90" width="1.00" height="37.70" fill="#f6dfa4"/><rect x="419.00" y="73.90" width="1.00" height="37.70" fill="#f5dea3"/><rect x="420.00" y="73.90" width="1.00" height="37.70" fill="#f6dea3"/><rect x="421.00" y="73.90" width="1.00" height="37.70" fill="#fbefb5"/><rect x="422.00" y="73.90" width="1.00" height="37.70" fill="#fbf0b7"/><rect x="426.00" y="73.90" width="1.00" height="37.70" fill="#fbefb5"/><rect x="427.00" y="73.90" width="1.00" height="37.70" fill="#fcf2ba"/><rect x="428.00" y="73.90" width="1.00" height="37.70" fill="#fcf2ba"/><rect x="430.00" y="73.90" width="1.00" height="37.70" fill="#fcf2ba"/><rect x="431.00" y="73.90" width="1.00" height="37.70" fill="#fcf2ba"/><rect x="432.00" y="73.90" width="1.00" height="37.70" fill="#fbefb6"/><rect x="433.00" y="73.90" width="1.00" height="37.70" fill="#fbefb7"/><rect x="434.00" y="73.90" width="1.00" height="37.70" fill="#fcf0b8"/><rect x="435.00" y="73.90" width="1.00" height="37.70" fill="#faf4ce"/><rect x="436.00" y="73.90" width="1.00" height="37.70" fill="#faf4ce"/><rect x="437.00" y="73.90" width="1.00" height="37.70" fill="#fbf4cf"/><rect x="438.00" y="73.90" width="1.00" height="37.70" fill="#f9f1ca"/><rect x="439.00" y="73.90" width="1.00" height="37.70" fill="#faf4ce"/><rect x="440.00" y="73.90" width="1.00" height="37.70" fill="#faf2cc"/><rect x="441.00" y="73.90" width="1.00" height="37.70" fill="#fcf1ba"/><rect x="442.00" y="73.90" width="1.00" height="37.70" fill="#fcf0b8"/><rect x="443.00" y="73.90" width="1.00" height="37.70" fill="#fcf2ba"/><rect x="444.00" y="73.90" width="1.00" height="37.70" fill="#fcf0b7"/><rect x="445.00" y="73.90" width="1.00" height="37.70" fill="#fcf2bb"/><rect x="446.00" y="73.90" width="1.00" height="37.70" fill="#f5e5a5"/><rect x="447.00" y="73.90" width="1.00" height="37.70" fill="#f5e5a6"/><rect x="448.00" y="73.90" width="1.00" height="37.70" fill="#f7f2cf"/><rect x="449.00" y="73.90" width="1.00" height="37.70" fill="#f8f2d0"/><rect x="450.00" y="73.90" width="1.00" height="37.70" fill="#f7f2cf"/><rect x="451.00" y="73.90" width="1.00" height="37.70" fill="#f9f4d2"/><rect x="452.00" y="73.90" width="1.00" height="37.70" fill="#f7f1ce"/><rect x="453.00" y="73.90" width="1.00" height="37.70" fill="#f7f0cd"/><rect x="454.00" y="73.90" width="1.00" height="37.70" fill="#f9f4d2"/><rect x="456.00" y="73.90" width="1.00" height="37.70" fill="#f7f1ce"/><rect x="457.00" y="73.90" width="1.00" height="37.70" fill="#f8f3d0"/><rect x="458.00" y="73.90" width="1.00" height="37.70" fill="#fcf0b2"/><rect x="459.00" y="73.90" width="1.00" height="37.70" fill="#fcf0b2"/><rect x="460.00" y="73.90" width="1.00" height="37.70" fill="#fcf0b3"/><rect x="461.00" y="73.90" width="1.00" height="37.70" fill="#fcf1b3"/><rect x="462.00" y="73.90" width="1.00" height="37.70" fill="#fbedad"/><rect x="464.00" y="73.90" width="1.00" height="37.70" fill="#fcf0b2"/><rect x="465.00" y="73.90" width="1.00" height="37.70" fill="#fbeeaf"/><rect x="466.00" y="73.90" width="1.00" height="37.70" fill="#fbedae"/><rect x="467.00" y="73.90" width="1.00" height="37.70" fill="#fbeeaf"/><rect x="468.00" y="73.90" width="1.00" height="37.70" fill="#fcf0b2"/><rect x="469.00" y="73.90" width="1.00" height="37.70" fill="#fceeb0"/><rect x="471.00" y="73.90" width="1.00" height="37.70" fill="#fceeb0"/><rect x="472.00" y="73.90" width="1.00" height="37.70" fill="#fcf0b3"/><rect x="473.00" y="73.90" width="1.00" height="37.70" fill="#fcefb0"/><rect x="474.00" y="73.90" width="1.00" height="37.70" fill="#fceeb0"/><rect x="298.50" y="111.60" width="2.50" height="37.80" fill="#f4f0d8"/><rect x="301.00" y="111.60" width="3.30" height="37.80" fill="#fcf3bd"/><rect x="304.30" y="111.60" width="4.10" height="37.80" fill="#f0f0d8"/><rect x="308.40" y="111.60" width="10.40" height="37.80" fill="#eef0dc"/><rect x="318.80" y="111.60" width="6.20" height="37.80" fill="#f8f3c9"/><rect x="325.00" y="111.60" width="11.00" height="37.80" fill="#e8f0e8"/><rect x="336.00" y="111.60" width="8.00" height="37.80" fill="#fcf3b9"/><rect x="344.00" y="111.60" width="4.70" height="37.80" fill="#f8eba9"/><rect x="348.70" y="111.60" width="14.50" height="37.80" fill="#faf3c5"/><rect x="363.20" y="111.60" width="8.60" height="37.80" fill="#f6f3d1"/><rect x="371.80" y="111.60" width="16.20" height="37.80" fill="#f0f2d8"/><rect x="388.00" y="111.60" width="4.00" height="37.80" fill="#fcf3bd"/><rect x="392.00" y="111.60" width="4.00" height="37.80" fill="#f8edad"/><rect x="396.00" y="111.60" width="15.00" height="37.80" fill="#fcf3bd"/><rect x="411.00" y="111.60" width="7.00" height="37.80" fill="#f8e7a5"/><rect x="418.00" y="111.60" width="3.00" height="37.80" fill="#fcf3bd"/><rect x="421.00" y="111.60" width="4.00" height="37.80" fill="#f6e7a9"/><rect x="425.00" y="111.60" width="3.40" height="37.80" fill="#faefb5"/><rect x="428.40" y="111.60" width="7.60" height="37.80" fill="#fcf3bd"/><rect x="436.00" y="111.60" width="10.80" height="37.80" fill="#f8ebad"/><rect x="446.80" y="111.60" width="19.60" height="37.80" fill="#fcf3c1"/><rect x="466.40" y="111.60" width="2.30" height="37.80" fill="#f8f3d5"/><rect x="468.70" y="111.60" width="6.10" height="37.80" fill="#fcf3bd"/><rect x="298.50" y="111.60" width="0.50" height="37.80" fill="#f4efd6"/><rect x="299.00" y="111.60" width="1.00" height="37.80" fill="#f3efd6"/><rect x="300.00" y="111.60" width="1.00" height="37.80" fill="#f5f1d9"/><rect x="302.00" y="111.60" width="1.00" height="37.80" fill="#fcf4be"/><rect x="304.00" y="111.60" width="1.00" height="37.80" fill="#f2f2da"/><rect x="305.00" y="111.60" width="1.00" height="37.80" fill="#f1f1da"/><rect x="307.00" y="111.60" width="1.00" height="37.80" fill="#f2f2da"/><rect x="308.00" y="111.60" width="1.00" height="37.80" fill="#edefdc"/><rect x="309.00" y="111.60" width="1.00" height="37.80" fill="#ecefdc"/><rect x="310.00" y="111.60" width="1.00" height="37.80" fill="#f0f1de"/><rect x="311.00" y="111.60" width="1.00" height="37.80" fill="#f0f2de"/><rect x="312.00" y="111.60" width="1.00" height="37.80" fill="#eff1dd"/><rect x="313.00" y="111.60" width="1.00" height="37.80" fill="#eff1dd"/><rect x="314.00" y="111.60" width="1.00" height="37.80" fill="#ebeedb"/><rect x="315.00" y="111.60" width="1.00" height="37.80" fill="#edefdc"/><rect x="316.00" y="111.60" width="1.00" height="37.80" fill="#eff1dd"/><rect x="317.00" y="111.60" width="1.00" height="37.80" fill="#ebeedb"/><rect x="318.00" y="111.60" width="1.00" height="37.80" fill="#edefdc"/><rect x="319.00" y="111.60" width="1.00" height="37.80" fill="#f7f2c7"/><rect x="320.00" y="111.60" width="1.00" height="37.80" fill="#f9f4cb"/><rect x="321.00" y="111.60" width="1.00" height="37.80" fill="#f7f2c7"/><rect x="322.00" y="111.60" width="1.00" height="37.80" fill="#f7f1c6"/><rect x="323.00" y="111.60" width="1.00" height="37.80" fill="#f8f2c8"/><rect x="324.00" y="111.60" width="1.00" height="37.80" fill="#f9f4cb"/><rect x="326.00" y="111.60" width="1.00" height="37.80" fill="#eaf1ea"/><rect x="327.00" y="111.60" width="1.00" height="37.80" fill="#e9f1e9"/><rect x="328.00" y="111.60" width="1.00" height="37.80" fill="#eaf1ea"/><rect x="329.00" y="111.60" width="1.00" height="37.80" fill="#eaf2ea"/><rect x="330.00" y="111.60" width="1.00" height="37.80" fill="#e9f0e9"/><rect x="331.00" y="111.60" width="1.00" height="37.80" fill="#e5eee7"/><rect x="332.00" y="111.60" width="1.00" height="37.80" fill="#e6eee7"/><rect x="333.00" y="111.60" width="1.00" height="37.80" fill="#eaf1ea"/><rect x="335.00" y="111.60" width="1.00" height="37.80" fill="#eaf2ea"/><rect x="336.00" y="111.60" width="1.00" height="37.80" fill="#fcf3ba"/><rect x="337.00" y="111.60" width="1.00" height="37.80" fill="#fcf4bb"/><rect x="338.00" y="111.60" width="1.00" height="37.80" fill="#fcf2b8"/><rect x="339.00" y="111.60" width="1.00" height="37.80" fill="#fcf4bb"/><rect x="340.00" y="111.60" width="1.00" height="37.80" fill="#fcf4bb"/><rect x="341.00" y="111.60" width="1.00" height="37.80" fill="#fcf4bb"/><rect x="342.00" y="111.60" width="1.00" height="37.80" fill="#fcf3b8"/><rect x="343.00" y="111.60" width="1.00" height="37.80" fill="#fbf2b7"/><rect x="344.00" y="111.60" width="1.00" height="37.80" fill="#f8ecaa"/><rect x="345.00" y="111.60" width="1.00" height="37.80" fill="#f8ecaa"/><rect x="346.00" y="111.60" width="1.00" height="37.80" fill="#f7eaa7"/><rect x="347.00" y="111.60" width="1.00" height="37.80" fill="#f8ecaa"/><rect x="348.00" y="111.60" width="1.00" height="37.80" fill="#f9edab"/><rect x="349.00" y="111.60" width="1.00" height="37.80" fill="#faf4c6"/><rect x="350.00" y="111.60" width="1.00" height="37.80" fill="#f9f1c2"/><rect x="352.00" y="111.60" width="1.00" height="37.80" fill="#faf4c6"/><rect x="354.00" y="111.60" width="1.00" height="37.80" fill="#f9f2c3"/><rect x="355.00" y="111.60" width="1.00" height="37.80" fill="#f9f1c2"/><rect x="357.00" y="111.60" width="1.00" height="37.80" fill="#fbf4c7"/><rect x="358.00" y="111.60" width="1.00" height="37.80" fill="#f9f1c2"/><rect x="359.00" y="111.60" width="1.00" height="37.80" fill="#faf4c6"/><rect x="360.00" y="111.60" width="1.00" height="37.80" fill="#f9f2c3"/><rect x="361.00" y="111.60" width="1.00" height="37.80" fill="#faf2c4"/><rect x="362.00" y="111.60" width="1.00" height="37.80" fill="#fbf4c7"/><rect x="363.00" y="111.60" width="1.00" height="37.80" fill="#f7f4d2"/><rect x="364.00" y="111.60" width="1.00" height="37.80" fill="#f5f1ce"/><rect x="365.00" y="111.60" width="1.00" height="37.80" fill="#f6f2d0"/><rect x="367.00" y="111.60" width="1.00" height="37.80" fill="#f6f3d2"/><rect x="368.00" y="111.60" width="1.00" height="37.80" fill="#f6f4d2"/><rect x="369.00" y="111.60" width="1.00" height="37.80" fill="#f7f4d2"/><rect x="370.00" y="111.60" width="1.00" height="37.80" fill="#f6f2d0"/><rect x="371.00" y="111.60" width="1.00" height="37.80" fill="#f6f4d2"/><rect x="373.00" y="111.60" width="1.00" height="37.80" fill="#eff1d8"/><rect x="376.00" y="111.60" width="1.00" height="37.80" fill="#f1f3da"/><rect x="377.00" y="111.60" width="1.00" height="37.80" fill="#f1f3da"/><rect x="378.00" y="111.60" width="1.00" height="37.80" fill="#eff1d8"/><rect x="380.00" y="111.60" width="1.00" height="37.80" fill="#f1f3d9"/><rect x="381.00" y="111.60" width="1.00" height="37.80" fill="#eff2d8"/><rect x="382.00" y="111.60" width="1.00" height="37.80" fill="#edf0d7"/><rect x="383.00" y="111.60" width="1.00" height="37.80" fill="#f1f3d9"/><rect x="384.00" y="111.60" width="1.00" height="37.80" fill="#edf0d7"/><rect x="385.00" y="111.60" width="1.00" height="37.80" fill="#f1f3d9"/><rect x="386.00" y="111.60" width="1.00" height="37.80" fill="#eef1d7"/><rect x="387.00" y="111.60" width="1.00" height="37.80" fill="#edf0d7"/><rect x="388.00" y="111.60" width="1.00" height="37.80" fill="#fcf2bc"/><rect x="389.00" y="111.60" width="1.00" height="37.80" fill="#fcf2bc"/><rect x="390.00" y="111.60" width="1.00" height="37.80" fill="#fbf2bb"/><rect x="391.00" y="111.60" width="1.00" height="37.80" fill="#fcf4be"/><rect x="392.00" y="111.60" width="1.00" height="37.80" fill="#f8eeae"/><rect x="393.00" y="111.60" width="1.00" height="37.80" fill="#f7ebab"/><rect x="394.00" y="111.60" width="1.00" height="37.80" fill="#f8eeae"/><rect x="395.00" y="111.60" width="1.00" height="37.80" fill="#f8eeae"/><rect x="397.00" y="111.60" width="1.00" height="37.80" fill="#fcf4be"/><rect x="398.00" y="111.60" width="1.00" height="37.80" fill="#fcf4be"/><rect x="400.00" y="111.60" width="1.00" height="37.80" fill="#fbf1b9"/><rect x="402.00" y="111.60" width="1.00" height="37.80" fill="#fbf1ba"/><rect x="403.00" y="111.60" width="1.00" height="37.80" fill="#fcf4bf"/><rect x="406.00" y="111.60" width="1.00" height="37.80" fill="#fcf3be"/><rect x="409.00" y="111.60" width="1.00" height="37.80" fill="#fcf2bc"/><rect x="410.00" y="111.60" width="1.00" height="37.80" fill="#fbf2bb"/><rect x="411.00" y="111.60" width="1.00" height="37.80" fill="#f8e6a4"/><rect x="412.00" y="111.60" width="1.00" height="37.80" fill="#f8e8a6"/><rect x="413.00" y="111.60" width="1.00" height="37.80" fill="#f8e6a4"/><rect x="415.00" y="111.60" width="1.00" height="37.80" fill="#f9e9a7"/><rect x="416.00" y="111.60" width="1.00" height="37.80" fill="#f8e7a4"/><rect x="417.00" y="111.60" width="1.00" height="37.80" fill="#f7e5a2"/><rect x="418.00" y="111.60" width="1.00" height="37.80" fill="#fbf2bb"/><rect x="420.00" y="111.60" width="1.00" height="37.80" fill="#fcf4bf"/><rect x="421.00" y="111.60" width="1.00" height="37.80" fill="#f7e9ab"/><rect x="422.00" y="111.60" width="1.00" height="37.80" fill="#f5e5a5"/><rect x="423.00" y="111.60" width="1.00" height="37.80" fill="#f7e8aa"/><rect x="424.00" y="111.60" width="1.00" height="37.80" fill="#f7e8aa"/><rect x="425.00" y="111.60" width="1.00" height="37.80" fill="#faf0b6"/><rect x="426.00" y="111.60" width="1.00" height="37.80" fill="#faf0b7"/><rect x="427.00" y="111.60" width="1.00" height="37.80" fill="#f9edb2"/><rect x="428.00" y="111.60" width="1.00" height="37.80" fill="#fcf4be"/><rect x="430.00" y="111.60" width="1.00" height="37.80" fill="#fbf1ba"/><rect x="431.00" y="111.60" width="1.00" height="37.80" fill="#fcf4bf"/><rect x="432.00" y="111.60" width="1.00" height="37.80" fill="#fbf1ba"/><rect x="434.00" y="111.60" width="1.00" height="37.80" fill="#fbf2bb"/><rect x="436.00" y="111.60" width="1.00" height="37.80" fill="#f9edaf"/><rect x="437.00" y="111.60" width="1.00" height="37.80" fill="#f7eaab"/><rect x="438.00" y="111.60" width="1.00" height="37.80" fill="#f8ecae"/><rect x="439.00" y="111.60" width="1.00" height="37.80" fill="#f9edaf"/><rect x="440.00" y="111.60" width="1.00" height="37.80" fill="#f8ecae"/><rect x="441.00" y="111.60" width="1.00" height="37.80" fill="#f8eaab"/><rect x="443.00" y="111.60" width="1.00" height="37.80" fill="#f8eaab"/><rect x="444.00" y="111.60" width="1.00" height="37.80" fill="#f7e9aa"/><rect x="445.00" y="111.60" width="1.00" height="37.80" fill="#f9edaf"/><rect x="446.00" y="111.60" width="1.00" height="37.80" fill="#f8ecae"/><rect x="447.00" y="111.60" width="1.00" height="37.80" fill="#fcf4c2"/><rect x="448.00" y="111.60" width="1.00" height="37.80" fill="#fcf2bf"/><rect x="449.00" y="111.60" width="1.00" height="37.80" fill="#fcf4c2"/><rect x="450.00" y="111.60" width="1.00" height="37.80" fill="#fcf3c0"/><rect x="451.00" y="111.60" width="1.00" height="37.80" fill="#fcf3c2"/><rect x="452.00" y="111.60" width="1.00" height="37.80" fill="#fcf4c3"/><rect x="453.00" y="111.60" width="1.00" height="37.80" fill="#fcf4c3"/><rect x="454.00" y="111.60" width="1.00" height="37.80" fill="#fcf4c2"/><rect x="455.00" y="111.60" width="1.00" height="37.80" fill="#fbf1bd"/><rect x="456.00" y="111.60" width="1.00" height="37.80" fill="#fcf3c0"/><rect x="457.00" y="111.60" width="1.00" height="37.80" fill="#fbf2bf"/><rect x="458.00" y="111.60" width="1.00" height="37.80" fill="#fbf1be"/><rect x="459.00" y="111.60" width="1.00" height="37.80" fill="#fcf4c3"/><rect x="460.00" y="111.60" width="1.00" height="37.80" fill="#fcf3c2"/><rect x="461.00" y="111.60" width="1.00" height="37.80" fill="#fcf4c2"/><rect x="462.00" y="111.60" width="1.00" height="37.80" fill="#fcf4c3"/><rect x="463.00" y="111.60" width="1.00" height="37.80" fill="#fbf1be"/><rect x="464.00" y="111.60" width="1.00" height="37.80" fill="#fcf4c2"/><rect x="465.00" y="111.60" width="1.00" height="37.80" fill="#fbf1bd"/><rect x="466.00" y="111.60" width="1.00" height="37.80" fill="#f8f4d6"/><rect x="467.00" y="111.60" width="1.00" height="37.80" fill="#f8f2d4"/><rect x="468.00" y="111.60" width="1.00" height="37.80" fill="#f7f1d2"/><rect x="469.00" y="111.60" width="1.00" height="37.80" fill="#fbf1b9"/><rect x="470.00" y="111.60" width="1.00" height="37.80" fill="#fbf2bb"/><rect x="471.00" y="111.60" width="1.00" height="37.80" fill="#fbf0b9"/><rect x="472.00" y="111.60" width="1.00" height="37.80" fill="#fbf1ba"/><rect x="473.00" y="111.60" width="1.00" height="37.80" fill="#fcf2bb"/><rect x="474.00" y="111.60" width="1.00" height="37.80" fill="#fcf4bf"/><polyline points="19.00,54.60 7.30,54.60 7.30,111.00 10.90,111.00" fill="none" stroke="#9a9a9a" stroke-width="0.7"/><polyline points="19.00,92.60 10.90,92.60 10.90,129.80 19.00,129.80" fill="none" stroke="#9a9a9a" stroke-width="0.7"/><polyline points="298.50,55.30 286.20,55.30 286.20,111.80 288.80,111.80" fill="none" stroke="#9a9a9a" stroke-width="0.7"/><polyline points="298.50,93.00 288.80,93.00 288.80,130.60 298.50,130.60" fill="none" stroke="#9a9a9a" stroke-width="0.7"/><polyline points="37.80,25.20 37.80,20.40 146.40,20.40 146.40,24.20" fill="none" stroke="#9a9a9a" stroke-width="0.7"/><polyline points="20.90,30.20 20.90,25.20 54.60,25.20 54.60,26.90" fill="none" stroke="#9a9a9a" stroke-width="0.7"/><polyline points="33.40,29.00 33.40,26.90 75.80,26.90 75.80,28.40" fill="none" stroke="#9a9a9a" stroke-width="0.7"/><polyline points="26.50,30.50 26.50,29.00 39.00,29.00 39.00,30.50" fill="none" stroke="#9a9a9a" stroke-width="0.7"/><polyline points="54.60,29.50 54.60,26.90 66.00,26.90 66.00,29.50" fill="none" stroke="#9a9a9a" stroke-width="0.7"/><polyline points="85.40,30.00 85.40,28.40 94.00,28.40 94.00,30.00" fill="none" stroke="#9a9a9a" stroke-width="0.7"/><polyline points="75.80,29.50 75.80,28.40 90.00,28.40 90.00,28.40" fill="none" stroke="#9a9a9a" stroke-width="0.7"/><polyline points="120.00,26.70 120.00,24.20 172.80,24.20 172.80,26.20" fill="none" stroke="#9a9a9a" stroke-width="0.7"/><polyline points="113.00,29.00 113.00,26.70 126.50,26.70 126.50,28.00" fill="none" stroke="#9a9a9a" stroke-width="0.7"/><polyline points="120.80,30.00 120.80,28.00 133.00,28.00 133.00,30.00" fill="none" stroke="#9a9a9a" stroke-width="0.7"/><polyline points="100.00,30.50 100.00,29.00 113.00,29.00 113.00,29.00" fill="none" stroke="#9a9a9a" stroke-width="0.7"/><polyline points="158.00,28.00 158.00,26.20 185.70,26.20 185.70,28.30" fill="none" stroke="#9a9a9a" stroke-width="0.7"/><polyline points="146.00,30.00 146.00,28.00 158.00,28.00 158.00,28.00" fill="none" stroke="#9a9a9a" stroke-width="0.7"/><polyline points="162.40,30.00 162.40,28.00 168.40,28.00 168.40,30.00" fill="none" stroke="#9a9a9a" stroke-width="0.7"/><polyline points="181.40,30.00 181.40,28.30 190.00,28.30 190.00,30.00" fill="none" stroke="#9a9a9a" stroke-width="0.7"/><polyline points="298.40,31.00 298.40,21.50 355.50,21.50 355.50,24.50" fill="none" stroke="#9a9a9a" stroke-width="0.7"/><polyline points="319.40,28.50 319.40,24.50 391.60,24.50 391.60,26.70" fill="none" stroke="#9a9a9a" stroke-width="0.7"/><polyline points="309.40,30.50 309.40,28.50 328.90,28.50 328.90,30.00" fill="none" stroke="#9a9a9a" stroke-width="0.7"/><polyline points="301.20,31.00 301.20,29.50 305.50,29.50 305.50,31.00" fill="none" stroke="#9a9a9a" stroke-width="0.7"/><polyline points="356.10,29.20 356.10,26.70 426.70,26.70 426.70,27.50" fill="none" stroke="#9a9a9a" stroke-width="0.7"/><polyline points="346.20,31.00 346.20,29.20 373.90,29.20 373.90,31.00" fill="none" stroke="#9a9a9a" stroke-width="0.7"/><polyline points="373.90,31.00 373.90,29.20 392.00,29.20 392.00,30.50" fill="none" stroke="#9a9a9a" stroke-width="0.7"/><polyline points="412.40,29.50 412.40,27.50 440.50,27.50 440.50,28.80" fill="none" stroke="#9a9a9a" stroke-width="0.7"/><polyline points="439.70,30.50 439.70,28.80 457.80,28.80 457.80,30.10" fill="none" stroke="#9a9a9a" stroke-width="0.7"/><polyline points="451.80,31.50 451.80,30.10 466.50,30.10 466.50,31.50" fill="none" stroke="#9a9a9a" stroke-width="0.7"/><polyline points="395.00,31.00 395.00,29.50 412.40,29.50 412.40,29.50" fill="none" stroke="#9a9a9a" stroke-width="0.7"/><path d="M19.20,33.00 L19.75,30.20 L20.30,33.00" fill="none" stroke="#8a8a8a" stroke-width="0.55"/><path d="M20.08,33.00 L20.76,31.11 L21.44,33.00" fill="none" stroke="#8a8a8a" stroke-width="0.55"/><path d="M21.01,33.00 L22.12,30.35 L23.24,33.00" fill="none" stroke="#8a8a8a" stroke-width="0.55"/><path d="M22.21,33.00 L22.64,30.23 L23.07,33.00" fill="none" stroke="#8a8a8a" stroke-width="0.55"/><path d="M22.79,33.00 L24.03,32.39 L25.27,33.00" fill="none" stroke="#8a8a8a" stroke-width="0.55"/><path d="M24.47,33.00 L25.66,31.81 L26.86,33.00" fill="none" stroke="#8a8a8a" stroke-width="0.55"/><path d="M26.57,33.00 L27.96,32.32 L29.35,33.00" fill="none" stroke="#8a8a8a" stroke-width="0.55"/><path d="M27.98,33.00 L28.98,29.96 L29.98,33.00" fill="none" stroke="#8a8a8a" stroke-width="0.55"/><path d="M29.28,33.00 L29.92,31.30 L30.56,33.00" fill="none" stroke="#8a8a8a" stroke-width="0.55"/><path d="M29.94,33.00 L30.58,31.26 L31.22,33.00" fill="none" stroke="#8a8a8a" stroke-width="0.55"/><path d="M30.84,33.00 L31.49,31.80 L32.15,33.00" fill="none" stroke="#8a8a8a" stroke-width="0.55"/><path d="M31.61,33.00 L32.51,31.65 L33.42,33.00" fill="none" stroke="#8a8a8a" stroke-width="0.55"/><path d="M32.53,33.00 L33.85,30.95 L35.17,33.00" fill="none" stroke="#8a8a8a" stroke-width="0.55"/><path d="M34.53,33.00 L35.13,29.82 L35.74,33.00" fill="none" stroke="#8a8a8a" stroke-width="0.55"/><path d="M35.55,33.00 L36.08,31.53 L36.62,33.00" fill="none" stroke="#8a8a8a" stroke-width="0.55"/><path d="M36.39,33.00 L37.57,29.97 L38.75,33.00" fill="none" stroke="#8a8a8a" stroke-width="0.55"/><path d="M37.97,33.00 L39.28,30.66 L40.60,33.00" fill="none" stroke="#8a8a8a" stroke-width="0.55"/><path d="M39.60,33.00 L40.65,30.11 L41.70,33.00" fill="none" stroke="#8a8a8a" stroke-width="0.55"/><path d="M41.36,33.00 L42.31,30.87 L43.27,33.00" fill="none" stroke="#8a8a8a" stroke-width="0.55"/><path d="M42.34,33.00 L43.01,30.33 L43.67,33.00" fill="none" stroke="#8a8a8a" stroke-width="0.55"/><path d="M43.23,33.00 L43.82,30.97 L44.41,33.00" fill="none" stroke="#8a8a8a" stroke-width="0.55"/><path d="M44.15,33.00 L45.29,31.43 L46.43,33.00" fill="none" stroke="#8a8a8a" stroke-width="0.55"/><path d="M45.69,33.00 L46.65,30.38 L47.61,33.00" fill="none" stroke="#8a8a8a" stroke-width="0.55"/><path d="M47.05,33.00 L47.89,31.13 L48.72,33.00" fill="none" stroke="#8a8a8a" stroke-width="0.55"/><path d="M47.90,33.00 L48.35,30.57 L48.80,33.00" fill="none" stroke="#8a8a8a" stroke-width="0.55"/><path d="M48.71,33.00 L49.76,31.38 L50.81,33.00" fill="none" stroke="#8a8a8a" stroke-width="0.55"/><path d="M49.90,33.00 L50.85,29.85 L51.81,33.00" fill="none" stroke="#8a8a8a" stroke-width="0.55"/><path d="M51.44,33.00 L52.43,30.16 L53.43,33.00" fill="none" stroke="#8a8a8a" stroke-width="0.55"/><path d="M52.62,33.00 L53.58,29.92 L54.55,33.00" fill="none" stroke="#8a8a8a" stroke-width="0.55"/><path d="M54.03,33.00 L54.94,31.70 L55.84,33.00" fill="none" stroke="#8a8a8a" stroke-width="0.55"/><path d="M55.33,33.00 L56.78,32.39 L58.24,33.00" fill="none" stroke="#8a8a8a" stroke-width="0.55"/><path d="M57.70,33.00 L59.00,30.10 L60.30,33.00" fill="none" stroke="#8a8a8a" stroke-width="0.55"/><path d="M59.77,33.00 L61.06,31.05 L62.35,33.00" fill="none" stroke="#8a8a8a" stroke-width="0.55"/><path d="M61.64,33.00 L62.51,32.25 L63.38,33.00" fill="none" stroke="#8a8a8a" stroke-width="0.55"/><path d="M63.11,33.00 L64.14,31.88 L65.17,33.00" fill="none" stroke="#8a8a8a" stroke-width="0.55"/><path d="M64.55,33.00 L65.49,31.47 L66.42,33.00" fill="none" stroke="#8a8a8a" stroke-width="0.55"/><path d="M65.75,33.00 L66.74,30.78 L67.73,33.00" fill="none" stroke="#8a8a8a" stroke-width="0.55"/><path d="M67.22,33.00 L68.13,32.33 L69.03,33.00" fill="none" stroke="#8a8a8a" stroke-width="0.55"/><path d="M68.29,33.00 L68.89,30.88 L69.48,33.00" fill="none" stroke="#8a8a8a" stroke-width="0.55"/><path d="M69.30,33.00 L70.58,30.33 L71.86,33.00" fill="none" stroke="#8a8a8a" stroke-width="0.55"/><path d="M71.41,33.00 L72.09,30.21 L72.77,33.00" fill="none" stroke="#8a8a8a" stroke-width="0.55"/><path d="M72.46,33.00 L72.95,32.36 L73.44,33.00" fill="none" stroke="#8a8a8a" stroke-width="0.55"/><path d="M72.96,33.00 L74.19,31.75 L75.42,33.00" fill="none" stroke="#8a8a8a" stroke-width="0.55"/><path d="M74.30,33.00 L75.38,31.50 L76.47,33.00" fill="none" stroke="#8a8a8a" stroke-width="0.55"/><path d="M75.44,33.00 L76.02,31.03 L76.59,33.00" fill="none" stroke="#8a8a8a" stroke-width="0.55"/><path d="M76.10,33.00 L76.80,30.55 L77.50,33.00" fill="none" stroke="#8a8a8a" stroke-width="0.55"/><path d="M77.05,33.00 L77.81,31.17 L78.56,33.00" fill="none" stroke="#8a8a8a" stroke-width="0.55"/><path d="M77.82,33.00 L78.65,31.31 L79.47,33.00" fill="none" stroke="#8a8a8a" stroke-width="0.55"/><path d="M78.77,33.00 L79.29,30.06 L79.81,33.00" fill="none" stroke="#8a8a8a" stroke-width="0.55"/><path d="M79.50,33.00 L80.13,30.83 L80.76,33.00" fill="none" stroke="#8a8a8a" stroke-width="0.55"/><path d="M80.54,33.00 L80.97,32.35 L81.39,33.00" fill="none" stroke="#8a8a8a" stroke-width="0.55"/><path d="M81.02,33.00 L82.21,31.98 L83.40,33.00" fill="none" stroke="#8a8a8a" stroke-width="0.55"/><path d="M82.88,33.00 L84.02,30.98 L85.17,33.00" fill="none" stroke="#8a8a8a" stroke-width="0.55"/><path d="M84.23,33.00 L85.70,30.33 L87.17,33.00" fill="none" stroke="#8a8a8a" stroke-width="0.55"/><path d="M86.31,33.00 L86.95,30.71 L87.60,33.00" fill="none" stroke="#8a8a8a" stroke-width="0.55"/><path d="M87.16,33.00 L88.19,31.56 L89.22,33.00" fill="none" stroke="#8a8a8a" stroke-width="0.55"/><path d="M88.71,33.00 L89.18,31.62 L89.64,33.00" fill="none" stroke="#8a8a8a" stroke-width="0.55"/><path d="M89.54,33.00 L90.90,31.60 L92.26,33.00" fill="none" stroke="#8a8a8a" stroke-width="0.55"/><path d="M91.84,33.00 L92.58,29.96 L93.32,33.00" fill="none" stroke="#8a8a8a" stroke-width="0.55"/><path d="M93.02,33.00 L93.88,31.74 L94.73,33.00" fill="none" stroke="#8a8a8a" stroke-width="0.55"/><path d="M93.88,33.00 L95.25,32.30 L96.62,33.00" fill="none" stroke="#8a8a8a" stroke-width="0.55"/><path d="M96.14,33.00 L97.60,30.92 L99.06,33.00" fill="none" stroke="#8a8a8a" stroke-width="0.55"/><path d="M97.80,33.00 L99.16,29.87 L100.51,33.00" fill="none" stroke="#8a8a8a" stroke-width="0.55"/><path d="M99.92,33.00 L100.88,31.42 L101.84,33.00" fill="none" stroke="#8a8a8a" stroke-width="0.55"/><path d="M101.15,33.00 L101.77,30.65 L102.40,33.00" fill="none" stroke="#8a8a8a" stroke-width="0.55"/><path d="M101.99,33.00 L102.60,32.13 L103.22,33.00" fill="none" stroke="#8a8a8a" stroke-width="0.55"/><path d="M102.93,33.00 L103.66,31.10 L104.38,33.00" fill="none" stroke="#8a8a8a" stroke-width="0.55"/><path d="M103.84,33.00 L105.20,30.06 L106.56,33.00" fill="none" stroke="#8a8a8a" stroke-width="0.55"/><path d="M105.22,33.00 L105.84,31.55 L106.47,33.00" fill="none" stroke="#8a8a8a" stroke-width="0.55"/><path d="M106.33,33.00 L107.60,31.52 L108.86,33.00" fill="none" stroke="#8a8a8a" stroke-width="0.55"/><path d="M107.81,33.00 L108.95,30.22 L110.09,33.00" fill="none" stroke="#8a8a8a" stroke-width="0.55"/><path d="M109.80,33.00 L110.58,30.11 L111.36,33.00" fill="none" stroke="#8a8a8a" stroke-width="0.55"/><path d="M111.01,33.00 L111.94,29.84 L112.88,33.00" fill="none" stroke="#8a8a8a" stroke-width="0.55"/><path d="M112.12,33.00 L113.32,32.18 L114.51,33.00" fill="none" stroke="#8a8a8a" stroke-width="0.55"/><path d="M113.48,33.00 L114.88,31.85 L116.28,33.00" fill="none" stroke="#8a8a8a" stroke-width="0.55"/><path d="M115.73,33.00 L116.79,30.21 L117.85,33.00" fill="none" stroke="#8a8a8a" stroke-width="0.55"/><path d="M117.10,33.00 L117.88,31.64 L118.65,33.00" fill="none" stroke="#8a8a8a" stroke-width="0.55"/><path d="M118.42,33.00 L119.48,29.92 L120.55,33.00" fill="none" stroke="#8a8a8a" stroke-width="0.55"/><path d="M120.24,33.00 L120.79,30.97 L121.33,33.00" fill="none" stroke="#8a8a8a" stroke-width="0.55"/><path d="M120.83,33.00 L121.27,32.21 L121.72,33.00" fill="none" stroke="#8a8a8a" stroke-width="0.55"/><path d="M121.58,33.00 L122.85,30.25 L124.11,33.00" fill="none" stroke="#8a8a8a" stroke-width="0.55"/><path d="M123.19,33.00 L124.27,30.37 L125.35,33.00" fill="none" stroke="#8a8a8a" stroke-width="0.55"/><path d="M124.60,33.00 L125.62,31.82 L126.65,33.00" fill="none" stroke="#8a8a8a" stroke-width="0.55"/><path d="M125.69,33.00 L126.38,30.08 L127.08,33.00" fill="none" stroke="#8a8a8a" stroke-width="0.55"/><path d="M126.70,33.00 L128.11,31.21 L129.53,33.00" fill="none" stroke="#8a8a8a" stroke-width="0.55"/><path d="M128.43,33.00 L129.69,30.25 L130.96,33.00" fill="none" stroke="#8a8a8a" stroke-width="0.55"/><path d="M129.71,33.00 L130.84,32.16 L131.98,33.00" fill="none" stroke="#8a8a8a" stroke-width="0.55"/><path d="M130.95,33.00 L132.32,32.30 L133.70,33.00" fill="none" stroke="#8a8a8a" stroke-width="0.55"/><path d="M132.59,33.00 L134.07,31.31 L135.56,33.00" fill="none" stroke="#8a8a8a" stroke-width="0.55"/><path d="M134.21,33.00 L134.80,31.77 L135.38,33.00" fill="none" stroke="#8a8a8a" stroke-width="0.55"/><path d="M135.14,33.00 L135.66,30.03 L136.17,33.00" fill="none" stroke="#8a8a8a" stroke-width="0.55"/><path d="M135.81,33.00 L137.28,30.04 L138.75,33.00" fill="none" stroke="#8a8a8a" stroke-width="0.55"/><path d="M137.62,33.00 L138.30,31.16 L138.98,33.00" fill="none" stroke="#8a8a8a" stroke-width="0.55"/><path d="M138.36,33.00 L139.47,32.30 L140.59,33.00" fill="none" stroke="#8a8a8a" stroke-width="0.55"/><path d="M139.48,33.00 L140.96,31.63 L142.44,33.00" fill="none" stroke="#8a8a8a" stroke-width="0.55"/><path d="M141.67,33.00 L142.57,31.59 L143.46,33.00" fill="none" stroke="#8a8a8a" stroke-width="0.55"/><path d="M142.61,33.00 L144.02,29.88 L145.42,33.00" fill="none" stroke="#8a8a8a" stroke-width="0.55"/><path d="M145.11,33.00 L145.63,31.84 L146.15,33.00" fill="none" stroke="#8a8a8a" stroke-width="0.55"/><path d="M145.89,33.00 L147.36,30.99 L148.84,33.00" fill="none" stroke="#8a8a8a" stroke-width="0.55"/><path d="M148.18,33.00 L149.31,31.73 L150.43,33.00" fill="none" stroke="#8a8a8a" stroke-width="0.55"/><path d="M149.79,33.00 L150.53,31.76 L151.27,33.00" fill="none" stroke="#8a8a8a" stroke-width="0.55"/><path d="M150.58,33.00 L151.29,29.84 L152.00,33.00" fill="none" stroke="#8a8a8a" stroke-width="0.55"/><path d="M151.54,33.00 L152.66,30.73 L153.78,33.00" fill="none" stroke="#8a8a8a" stroke-width="0.55"/><path d="M153.50,33.00 L154.33,31.60 L155.16,33.00" fill="none" stroke="#8a8a8a" stroke-width="0.55"/><path d="M154.55,33.00 L155.30,30.20 L156.04,33.00" fill="none" stroke="#8a8a8a" stroke-width="0.55"/><path d="M155.83,33.00 L156.56,31.53 L157.30,33.00" fill="none" stroke="#8a8a8a" stroke-width="0.55"/><path d="M156.88,33.00 L157.92,30.85 L158.96,33.00" fill="none" stroke="#8a8a8a" stroke-width="0.55"/><path d="M158.12,33.00 L158.55,31.77 L158.97,33.00" fill="none" stroke="#8a8a8a" stroke-width="0.55"/><path d="M158.57,33.00 L159.58,32.22 L160.58,33.00" fill="none" stroke="#8a8a8a" stroke-width="0.55"/><path d="M159.64,33.00 L160.74,31.64 L161.84,33.00" fill="none" stroke="#8a8a8a" stroke-width="0.55"/><path d="M161.43,33.00 L162.38,30.16 L163.32,33.00" fill="none" stroke="#8a8a8a" stroke-width="0.55"/><path d="M162.49,33.00 L163.44,30.33 L164.40,33.00" fill="none" stroke="#8a8a8a" stroke-width="0.55"/><path d="M163.50,33.00 L164.95,31.95 L166.39,33.00" fill="none" stroke="#8a8a8a" stroke-width="0.55"/><path d="M165.84,33.00 L167.33,30.26 L168.81,33.00" fill="none" stroke="#8a8a8a" stroke-width="0.55"/><path d="M167.71,33.00 L168.22,31.06 L168.74,33.00" fill="none" stroke="#8a8a8a" stroke-width="0.55"/><path d="M168.60,33.00 L169.33,30.08 L170.05,33.00" fill="none" stroke="#8a8a8a" stroke-width="0.55"/><path d="M169.41,33.00 L170.81,32.32 L172.21,33.00" fill="none" stroke="#8a8a8a" stroke-width="0.55"/><path d="M171.16,33.00 L172.56,30.31 L173.95,33.00" fill="none" stroke="#8a8a8a" stroke-width="0.55"/><path d="M173.57,33.00 L174.89,30.46 L176.22,33.00" fill="none" stroke="#8a8a8a" stroke-width="0.55"/><path d="M175.63,33.00 L176.22,31.28 L176.82,33.00" fill="none" stroke="#8a8a8a" stroke-width="0.55"/><path d="M176.30,33.00 L177.48,30.66 L178.67,33.00" fill="none" stroke="#8a8a8a" stroke-width="0.55"/><path d="M177.72,33.00 L178.19,29.90 L178.66,33.00" fill="none" stroke="#8a8a8a" stroke-width="0.55"/><path d="M178.50,33.00 L179.50,30.99 L180.51,33.00" fill="none" stroke="#8a8a8a" stroke-width="0.55"/><path d="M180.19,33.00 L181.08,31.37 L181.98,33.00" fill="none" stroke="#8a8a8a" stroke-width="0.55"/><path d="M181.33,33.00 L182.01,32.34 L182.70,33.00" fill="none" stroke="#8a8a8a" stroke-width="0.55"/><path d="M182.37,33.00 L183.22,30.92 L184.08,33.00" fill="none" stroke="#8a8a8a" stroke-width="0.55"/><path d="M183.27,33.00 L184.06,32.04 L184.85,33.00" fill="none" stroke="#8a8a8a" stroke-width="0.55"/><path d="M184.14,33.00 L184.82,30.24 L185.51,33.00" fill="none" stroke="#8a8a8a" stroke-width="0.55"/><path d="M185.04,33.00 L185.88,30.81 L186.72,33.00" fill="none" stroke="#8a8a8a" stroke-width="0.55"/><path d="M186.04,33.00 L186.45,31.03 L186.85,33.00" fill="none" stroke="#8a8a8a" stroke-width="0.55"/><path d="M186.61,33.00 L187.72,31.26 L188.84,33.00" fill="none" stroke="#8a8a8a" stroke-width="0.55"/><path d="M188.33,33.00 L189.54,31.78 L190.74,33.00" fill="none" stroke="#8a8a8a" stroke-width="0.55"/><path d="M190.02,33.00 L190.94,31.81 L191.87,33.00" fill="none" stroke="#8a8a8a" stroke-width="0.55"/><path d="M191.25,33.00 L192.26,30.04 L193.28,33.00" fill="none" stroke="#8a8a8a" stroke-width="0.55"/><path d="M193.01,33.00 L193.71,30.72 L194.42,33.00" fill="none" stroke="#8a8a8a" stroke-width="0.55"/><path d="M193.74,33.00 L194.22,31.07 L194.70,33.00" fill="none" stroke="#8a8a8a" stroke-width="0.55"/><path d="M298.60,33.00 L300.05,30.50 L301.50,33.00" fill="none" stroke="#6a6a6a" stroke-width="0.55"/><path d="M300.12,33.00 L300.61,30.73 L301.10,33.00" fill="none" stroke="#6a6a6a" stroke-width="0.55"/><path d="M300.90,33.00 L302.04,31.78 L303.17,33.00" fill="none" stroke="#6a6a6a" stroke-width="0.55"/><path d="M302.59,33.00 L303.66,31.24 L304.72,33.00" fill="none" stroke="#6a6a6a" stroke-width="0.55"/><path d="M303.79,33.00 L304.67,31.61 L305.54,33.00" fill="none" stroke="#6a6a6a" stroke-width="0.55"/><path d="M305.17,33.00 L306.67,30.50 L308.16,33.00" fill="none" stroke="#6a6a6a" stroke-width="0.55"/><path d="M307.32,33.00 L308.20,31.86 L309.09,33.00" fill="none" stroke="#6a6a6a" stroke-width="0.55"/><path d="M308.23,33.00 L308.66,31.47 L309.09,33.00" fill="none" stroke="#6a6a6a" stroke-width="0.55"/><path d="M308.77,33.00 L309.59,30.62 L310.41,33.00" fill="none" stroke="#6a6a6a" stroke-width="0.55"/><path d="M309.93,33.00 L310.95,31.93 L311.97,33.00" fill="none" stroke="#6a6a6a" stroke-width="0.55"/><path d="M310.97,33.00 L311.73,32.13 L312.48,33.00" fill="none" stroke="#6a6a6a" stroke-width="0.55"/><path d="M312.04,33.00 L313.53,31.05 L315.03,33.00" fill="none" stroke="#6a6a6a" stroke-width="0.55"/><path d="M313.75,33.00 L315.13,30.81 L316.52,33.00" fill="none" stroke="#6a6a6a" stroke-width="0.55"/><path d="M315.95,33.00 L317.34,30.87 L318.74,33.00" fill="none" stroke="#6a6a6a" stroke-width="0.55"/><path d="M318.23,33.00 L319.02,30.44 L319.81,33.00" fill="none" stroke="#6a6a6a" stroke-width="0.55"/><path d="M319.62,33.00 L320.20,30.89 L320.78,33.00" fill="none" stroke="#6a6a6a" stroke-width="0.55"/><path d="M320.53,33.00 L321.44,31.34 L322.35,33.00" fill="none" stroke="#6a6a6a" stroke-width="0.55"/><path d="M321.79,33.00 L323.21,31.40 L324.63,33.00" fill="none" stroke="#6a6a6a" stroke-width="0.55"/><path d="M324.15,33.00 L324.94,30.63 L325.73,33.00" fill="none" stroke="#6a6a6a" stroke-width="0.55"/><path d="M325.51,33.00 L326.42,31.26 L327.33,33.00" fill="none" stroke="#6a6a6a" stroke-width="0.55"/><path d="M327.09,33.00 L328.28,31.43 L329.48,33.00" fill="none" stroke="#6a6a6a" stroke-width="0.55"/><path d="M328.50,33.00 L329.25,31.00 L330.01,33.00" fill="none" stroke="#6a6a6a" stroke-width="0.55"/><path d="M329.35,33.00 L330.75,31.86 L332.15,33.00" fill="none" stroke="#6a6a6a" stroke-width="0.55"/><path d="M331.77,33.00 L332.51,30.49 L333.25,33.00" fill="none" stroke="#6a6a6a" stroke-width="0.55"/><path d="M332.93,33.00 L333.89,31.36 L334.84,33.00" fill="none" stroke="#6a6a6a" stroke-width="0.55"/><path d="M334.38,33.00 L335.43,31.78 L336.48,33.00" fill="none" stroke="#6a6a6a" stroke-width="0.55"/><path d="M335.60,33.00 L336.57,30.53 L337.53,33.00" fill="none" stroke="#6a6a6a" stroke-width="0.55"/><path d="M337.05,33.00 L337.53,30.76 L338.01,33.00" fill="none" stroke="#6a6a6a" stroke-width="0.55"/><path d="M337.81,33.00 L339.21,32.02 L340.61,33.00" fill="none" stroke="#6a6a6a" stroke-width="0.55"/><path d="M340.04,33.00 L340.51,31.09 L340.97,33.00" fill="none" stroke="#6a6a6a" stroke-width="0.55"/><path d="M340.61,33.00 L341.26,30.65 L341.91,33.00" fill="none" stroke="#6a6a6a" stroke-width="0.55"/><path d="M341.31,33.00 L342.29,30.69 L343.26,33.00" fill="none" stroke="#6a6a6a" stroke-width="0.55"/><path d="M342.48,33.00 L343.11,30.64 L343.74,33.00" fill="none" stroke="#6a6a6a" stroke-width="0.55"/><path d="M343.32,33.00 L344.51,32.34 L345.70,33.00" fill="none" stroke="#6a6a6a" stroke-width="0.55"/><path d="M344.86,33.00 L345.45,31.05 L346.03,33.00" fill="none" stroke="#6a6a6a" stroke-width="0.55"/><path d="M345.48,33.00 L346.93,32.35 L348.38,33.00" fill="none" stroke="#6a6a6a" stroke-width="0.55"/><path d="M347.78,33.00 L348.20,31.89 L348.63,33.00" fill="none" stroke="#6a6a6a" stroke-width="0.55"/><path d="M348.48,33.00 L349.05,32.03 L349.63,33.00" fill="none" stroke="#6a6a6a" stroke-width="0.55"/><path d="M349.37,33.00 L350.19,32.31 L351.02,33.00" fill="none" stroke="#6a6a6a" stroke-width="0.55"/><path d="M350.85,33.00 L351.41,32.33 L351.98,33.00" fill="none" stroke="#6a6a6a" stroke-width="0.55"/><path d="M351.57,33.00 L352.65,30.92 L353.72,33.00" fill="none" stroke="#6a6a6a" stroke-width="0.55"/><path d="M352.74,33.00 L353.51,32.34 L354.28,33.00" fill="none" stroke="#6a6a6a" stroke-width="0.55"/><path d="M353.79,33.00 L355.03,30.92 L356.28,33.00" fill="none" stroke="#6a6a6a" stroke-width="0.55"/><path d="M355.93,33.00 L357.16,30.68 L358.39,33.00" fill="none" stroke="#6a6a6a" stroke-width="0.55"/><path d="M357.86,33.00 L358.78,31.95 L359.70,33.00" fill="none" stroke="#6a6a6a" stroke-width="0.55"/><path d="M359.26,33.00 L360.01,32.20 L360.76,33.00" fill="none" stroke="#6a6a6a" stroke-width="0.55"/><path d="M360.28,33.00 L361.64,32.14 L363.00,33.00" fill="none" stroke="#6a6a6a" stroke-width="0.55"/><path d="M362.28,33.00 L363.11,31.37 L363.94,33.00" fill="none" stroke="#6a6a6a" stroke-width="0.55"/><path d="M363.21,33.00 L364.66,31.88 L366.12,33.00" fill="none" stroke="#6a6a6a" stroke-width="0.55"/><path d="M365.37,33.00 L366.23,32.36 L367.09,33.00" fill="none" stroke="#6a6a6a" stroke-width="0.55"/><path d="M366.61,33.00 L367.17,32.29 L367.72,33.00" fill="none" stroke="#6a6a6a" stroke-width="0.55"/><path d="M367.18,33.00 L367.76,32.21 L368.34,33.00" fill="none" stroke="#6a6a6a" stroke-width="0.55"/><path d="M368.05,33.00 L369.01,30.43 L369.97,33.00" fill="none" stroke="#6a6a6a" stroke-width="0.55"/><path d="M369.73,33.00 L371.22,31.94 L372.72,33.00" fill="none" stroke="#6a6a6a" stroke-width="0.55"/><path d="M371.75,33.00 L372.43,31.22 L373.11,33.00" fill="none" stroke="#6a6a6a" stroke-width="0.55"/><path d="M372.77,33.00 L374.05,30.98 L375.33,33.00" fill="none" stroke="#6a6a6a" stroke-width="0.55"/><path d="M374.31,33.00 L375.18,31.35 L376.04,33.00" fill="none" stroke="#6a6a6a" stroke-width="0.55"/><path d="M375.18,33.00 L375.62,31.58 L376.06,33.00" fill="none" stroke="#6a6a6a" stroke-width="0.55"/><path d="M375.66,33.00 L376.85,31.92 L378.05,33.00" fill="none" stroke="#6a6a6a" stroke-width="0.55"/><path d="M376.95,33.00 L377.55,31.94 L378.15,33.00" fill="none" stroke="#6a6a6a" stroke-width="0.55"/><path d="M377.65,33.00 L378.63,31.47 L379.60,33.00" fill="none" stroke="#6a6a6a" stroke-width="0.55"/><path d="M378.87,33.00 L379.97,31.98 L381.08,33.00" fill="none" stroke="#6a6a6a" stroke-width="0.55"/><path d="M380.78,33.00 L382.24,30.94 L383.69,33.00" fill="none" stroke="#6a6a6a" stroke-width="0.55"/><path d="M382.74,33.00 L383.70,31.24 L384.67,33.00" fill="none" stroke="#6a6a6a" stroke-width="0.55"/><path d="M383.74,33.00 L384.60,31.35 L385.46,33.00" fill="none" stroke="#6a6a6a" stroke-width="0.55"/><path d="M384.73,33.00 L385.23,30.79 L385.73,33.00" fill="none" stroke="#6a6a6a" stroke-width="0.55"/><path d="M385.38,33.00 L386.35,30.56 L387.32,33.00" fill="none" stroke="#6a6a6a" stroke-width="0.55"/><path d="M386.82,33.00 L387.54,30.43 L388.26,33.00" fill="none" stroke="#6a6a6a" stroke-width="0.55"/><path d="M387.76,33.00 L388.18,31.03 L388.60,33.00" fill="none" stroke="#6a6a6a" stroke-width="0.55"/><path d="M388.21,33.00 L388.95,30.72 L389.68,33.00" fill="none" stroke="#6a6a6a" stroke-width="0.55"/><path d="M389.34,33.00 L389.76,31.50 L390.18,33.00" fill="none" stroke="#6a6a6a" stroke-width="0.55"/><path d="M389.90,33.00 L390.83,31.98 L391.77,33.00" fill="none" stroke="#6a6a6a" stroke-width="0.55"/><path d="M391.27,33.00 L391.75,31.83 L392.24,33.00" fill="none" stroke="#6a6a6a" stroke-width="0.55"/><path d="M391.90,33.00 L393.33,32.25 L394.76,33.00" fill="none" stroke="#6a6a6a" stroke-width="0.55"/><path d="M394.19,33.00 L394.80,31.26 L395.41,33.00" fill="none" stroke="#6a6a6a" stroke-width="0.55"/><path d="M394.99,33.00 L395.90,30.89 L396.81,33.00" fill="none" stroke="#6a6a6a" stroke-width="0.55"/><path d="M396.19,33.00 L396.72,32.16 L397.26,33.00" fill="none" stroke="#6a6a6a" stroke-width="0.55"/><path d="M396.76,33.00 L398.09,31.12 L399.43,33.00" fill="none" stroke="#6a6a6a" stroke-width="0.55"/><path d="M399.12,33.00 L400.28,32.35 L401.44,33.00" fill="none" stroke="#6a6a6a" stroke-width="0.55"/><path d="M400.89,33.00 L402.15,30.95 L403.40,33.00" fill="none" stroke="#6a6a6a" stroke-width="0.55"/><path d="M402.65,33.00 L403.44,31.49 L404.23,33.00" fill="none" stroke="#6a6a6a" stroke-width="0.55"/><path d="M403.95,33.00 L404.64,31.35 L405.34,33.00" fill="none" stroke="#6a6a6a" stroke-width="0.55"/><path d="M404.91,33.00 L406.36,30.79 L407.81,33.00" fill="none" stroke="#6a6a6a" stroke-width="0.55"/><path d="M407.44,33.00 L408.76,31.81 L410.08,33.00" fill="none" stroke="#6a6a6a" stroke-width="0.55"/><path d="M409.01,33.00 L409.94,31.88 L410.88,33.00" fill="none" stroke="#6a6a6a" stroke-width="0.55"/><path d="M410.26,33.00 L411.41,30.56 L412.56,33.00" fill="none" stroke="#6a6a6a" stroke-width="0.55"/><path d="M411.95,33.00 L413.25,32.21 L414.55,33.00" fill="none" stroke="#6a6a6a" stroke-width="0.55"/><path d="M413.62,33.00 L415.12,32.11 L416.61,33.00" fill="none" stroke="#6a6a6a" stroke-width="0.55"/><path d="M415.62,33.00 L416.09,32.23 L416.56,33.00" fill="none" stroke="#6a6a6a" stroke-width="0.55"/><path d="M416.43,33.00 L417.92,31.10 L419.40,33.00" fill="none" stroke="#6a6a6a" stroke-width="0.55"/><path d="M418.07,33.00 L418.79,31.94 L419.52,33.00" fill="none" stroke="#6a6a6a" stroke-width="0.55"/><path d="M419.18,33.00 L420.33,31.52 L421.48,33.00" fill="none" stroke="#6a6a6a" stroke-width="0.55"/><path d="M420.82,33.00 L421.34,31.32 L421.86,33.00" fill="none" stroke="#6a6a6a" stroke-width="0.55"/><path d="M421.74,33.00 L422.97,32.21 L424.20,33.00" fill="none" stroke="#6a6a6a" stroke-width="0.55"/><path d="M423.48,33.00 L424.66,31.89 L425.85,33.00" fill="none" stroke="#6a6a6a" stroke-width="0.55"/><path d="M425.51,33.00 L426.42,30.99 L427.33,33.00" fill="none" stroke="#6a6a6a" stroke-width="0.55"/><path d="M426.71,33.00 L428.21,30.83 L429.70,33.00" fill="none" stroke="#6a6a6a" stroke-width="0.55"/><path d="M428.89,33.00 L429.45,31.52 L430.01,33.00" fill="none" stroke="#6a6a6a" stroke-width="0.55"/><path d="M429.47,33.00 L430.52,30.64 L431.58,33.00" fill="none" stroke="#6a6a6a" stroke-width="0.55"/><path d="M430.67,33.00 L431.63,31.44 L432.60,33.00" fill="none" stroke="#6a6a6a" stroke-width="0.55"/><path d="M431.95,33.00 L433.13,30.53 L434.31,33.00" fill="none" stroke="#6a6a6a" stroke-width="0.55"/><path d="M433.79,33.00 L434.71,30.48 L435.63,33.00" fill="none" stroke="#6a6a6a" stroke-width="0.55"/><path d="M434.96,33.00 L436.18,31.08 L437.40,33.00" fill="none" stroke="#6a6a6a" stroke-width="0.55"/><path d="M436.92,33.00 L438.26,31.95 L439.59,33.00" fill="none" stroke="#6a6a6a" stroke-width="0.55"/><path d="M438.92,33.00 L439.77,31.07 L440.61,33.00" fill="none" stroke="#6a6a6a" stroke-width="0.55"/><path d="M440.42,33.00 L441.52,32.38 L442.62,33.00" fill="none" stroke="#6a6a6a" stroke-width="0.55"/><path d="M441.93,33.00 L443.11,30.63 L444.30,33.00" fill="none" stroke="#6a6a6a" stroke-width="0.55"/><path d="M443.73,33.00 L445.03,32.37 L446.32,33.00" fill="none" stroke="#6a6a6a" stroke-width="0.55"/><path d="M446.01,33.00 L447.21,31.19 L448.41,33.00" fill="none" stroke="#6a6a6a" stroke-width="0.55"/><path d="M448.08,33.00 L449.45,32.20 L450.83,33.00" fill="none" stroke="#6a6a6a" stroke-width="0.55"/><path d="M450.35,33.00 L451.59,32.00 L452.84,33.00" fill="none" stroke="#6a6a6a" stroke-width="0.55"/><path d="M452.33,33.00 L453.38,32.02 L454.42,33.00" fill="none" stroke="#6a6a6a" stroke-width="0.55"/><path d="M454.05,33.00 L454.60,31.18 L455.15,33.00" fill="none" stroke="#6a6a6a" stroke-width="0.55"/><path d="M454.79,33.00 L455.47,31.27 L456.15,33.00" fill="none" stroke="#6a6a6a" stroke-width="0.55"/><path d="M455.73,33.00 L456.35,30.47 L456.98,33.00" fill="none" stroke="#6a6a6a" stroke-width="0.55"/><path d="M456.39,33.00 L456.79,31.43 L457.19,33.00" fill="none" stroke="#6a6a6a" stroke-width="0.55"/><path d="M457.06,33.00 L458.19,30.89 L459.31,33.00" fill="none" stroke="#6a6a6a" stroke-width="0.55"/><path d="M458.62,33.00 L459.76,31.73 L460.91,33.00" fill="none" stroke="#6a6a6a" stroke-width="0.55"/><path d="M460.01,33.00 L460.96,32.34 L461.91,33.00" fill="none" stroke="#6a6a6a" stroke-width="0.55"/><path d="M461.02,33.00 L462.25,32.05 L463.48,33.00" fill="none" stroke="#6a6a6a" stroke-width="0.55"/><path d="M462.99,33.00 L464.25,31.59 L465.51,33.00" fill="none" stroke="#6a6a6a" stroke-width="0.55"/><path d="M464.93,33.00 L466.20,30.67 L467.47,33.00" fill="none" stroke="#6a6a6a" stroke-width="0.55"/><path d="M466.34,33.00 L466.92,31.64 L467.49,33.00" fill="none" stroke="#6a6a6a" stroke-width="0.55"/><path d="M467.13,33.00 L467.85,32.38 L468.58,33.00" fill="none" stroke="#6a6a6a" stroke-width="0.55"/><path d="M468.18,33.00 L469.64,31.67 L471.10,33.00" fill="none" stroke="#6a6a6a" stroke-width="0.55"/><path d="M470.27,33.00 L471.09,31.51 L471.91,33.00" fill="none" stroke="#6a6a6a" stroke-width="0.55"/><path d="M471.66,33.00 L472.40,31.10 L473.14,33.00" fill="none" stroke="#6a6a6a" stroke-width="0.55"/><path d="M472.69,33.00 L473.68,30.57 L474.67,33.00" fill="none" stroke="#6a6a6a" stroke-width="0.55"/><path d="M473.74,33.00 L474.27,31.79 L474.80,33.00" fill="none" stroke="#6a6a6a" stroke-width="0.55"/><text x="198.30" y="35.60" font-size="5.0" text-anchor="start" fill="#1a1a1a" stroke="#1a1a1a" stroke-width="0.15" textLength="14" lengthAdjust="spacingAndGlyphs" >Status</text><text x="198.30" y="56.80" font-size="6.8" text-anchor="start" fill="#1a1a1a" stroke="#1a1a1a" stroke-width="0.15" textLength="18.8" lengthAdjust="spacingAndGlyphs" >CCND1</text><text x="198.30" y="95.00" font-size="6.8" text-anchor="start" fill="#1a1a1a" stroke="#1a1a1a" stroke-width="0.15" textLength="29.6" lengthAdjust="spacingAndGlyphs" >ratio BCL2/</text><text x="198.30" y="101.70" font-size="6.8" text-anchor="start" fill="#1a1a1a" stroke="#1a1a1a" stroke-width="0.15" textLength="19.4" lengthAdjust="spacingAndGlyphs" >BCL2L1</text><text x="198.30" y="130.60" font-size="6.8" text-anchor="start" fill="#1a1a1a" stroke="#1a1a1a" stroke-width="0.15" textLength="12.4" lengthAdjust="spacingAndGlyphs" >ratio</text><text x="198.30" y="138.50" font-size="6.8" text-anchor="start" fill="#1a1a1a" stroke="#1a1a1a" stroke-width="0.15" textLength="30.5" lengthAdjust="spacingAndGlyphs" >BCL2/MCL1</text><text x="477.80" y="35.80" font-size="5.0" text-anchor="start" fill="#1a1a1a" stroke="#1a1a1a" stroke-width="0.15" textLength="14" lengthAdjust="spacingAndGlyphs" >Status</text><text x="477.80" y="57.30" font-size="6.8" text-anchor="start" fill="#1a1a1a" stroke="#1a1a1a" stroke-width="0.15" textLength="18.8" lengthAdjust="spacingAndGlyphs" >CCND1</text><text x="477.80" y="95.20" font-size="6.8" text-anchor="start" fill="#1a1a1a" stroke="#1a1a1a" stroke-width="0.15" textLength="29.6" lengthAdjust="spacingAndGlyphs" >ratio BCL2/</text><text x="477.80" y="102.90" font-size="6.8" text-anchor="start" fill="#1a1a1a" stroke="#1a1a1a" stroke-width="0.15" textLength="19.4" lengthAdjust="spacingAndGlyphs" >BCL2L1</text><text x="477.80" y="132.40" font-size="6.8" text-anchor="start" fill="#1a1a1a" stroke="#1a1a1a" stroke-width="0.15" textLength="12.4" lengthAdjust="spacingAndGlyphs" >ratio</text><text x="477.80" y="140.80" font-size="6.8" text-anchor="start" fill="#1a1a1a" stroke="#1a1a1a" stroke-width="0.15" textLength="30.5" lengthAdjust="spacingAndGlyphs" >BCL2/MCL1</text><defs><linearGradient id="cb" x1="0" y1="0" x2="0" y2="1"><stop offset="0" stop-color="#b01c1e"/><stop offset="0.17" stop-color="#e45a38"/><stop offset="0.33" stop-color="#f8ae5c"/><stop offset="0.5" stop-color="#fff6b0"/><stop offset="0.62" stop-color="#e8f4f2"/><stop offset="0.75" stop-color="#a8cce0"/><stop offset="0.88" stop-color="#5c8cc4"/><stop offset="1" stop-color="#2a4898"/></linearGradient></defs><rect x="230.90" y="32.60" width="2.20" height="33.60" fill="url(#cb)"/><text x="236.00" y="34.55" font-size="5.0" text-anchor="start" fill="#1a1a1a" stroke="#1a1a1a" stroke-width="0.15" textLength="2.4" lengthAdjust="spacingAndGlyphs" >3</text><text x="236.00" y="40.80" font-size="5.0" text-anchor="start" fill="#1a1a1a" stroke="#1a1a1a" stroke-width="0.15" textLength="2.4" lengthAdjust="spacingAndGlyphs" >2</text><text x="236.00" y="45.90" font-size="5.0" text-anchor="start" fill="#1a1a1a" stroke="#1a1a1a" stroke-width="0.15" textLength="2.4" lengthAdjust="spacingAndGlyphs" >1</text><text x="236.00" y="51.80" font-size="5.0" text-anchor="start" fill="#1a1a1a" stroke="#1a1a1a" stroke-width="0.15" textLength="2.4" lengthAdjust="spacingAndGlyphs" >0</text><text x="236.00" y="57.50" font-size="5.0" text-anchor="start" fill="#1a1a1a" stroke="#1a1a1a" stroke-width="0.15" textLength="5.0" lengthAdjust="spacingAndGlyphs" >−1</text><text x="236.00" y="62.60" font-size="5.0" text-anchor="start" fill="#1a1a1a" stroke="#1a1a1a" stroke-width="0.15" textLength="5.0" lengthAdjust="spacingAndGlyphs" >−2</text><text x="236.00" y="68.20" font-size="5.0" text-anchor="start" fill="#1a1a1a" stroke="#1a1a1a" stroke-width="0.15" textLength="5.0" lengthAdjust="spacingAndGlyphs" >−3</text><text x="249.00" y="32.60" font-size="5.0" text-anchor="start" fill="#1a1a1a" stroke="#1a1a1a" stroke-width="0.15" textLength="14" lengthAdjust="spacingAndGlyphs" >Status</text><rect x="249.00" y="36.60" width="6.00" height="5.70" fill="#2a9a9a"/><rect x="249.00" y="42.30" width="6.00" height="5.70" fill="#e08878"/><text x="258.00" y="43.00" font-size="5.0" text-anchor="start" fill="#1a1a1a" stroke="#1a1a1a" stroke-width="0.15" textLength="25" lengthAdjust="spacingAndGlyphs" >non_t11.14</text><text x="258.00" y="50.40" font-size="5.0" text-anchor="start" fill="#1a1a1a" stroke="#1a1a1a" stroke-width="0.15" textLength="15" lengthAdjust="spacingAndGlyphs" >t11.14</text><text transform="translate(9.0 16.7) scale(0.85 1)" font-size="11" fill="#111" stroke="#111" stroke-width="0.25">A</text><text transform="translate(286.4 16.8) scale(1.0 1)" font-size="11" fill="#111" stroke="#111" stroke-width="0.25">D</text><text transform="translate(7.7 175) scale(0.97 1)" font-size="11" fill="#111" stroke="#111" stroke-width="0.25">B</text><text transform="translate(287.2 174.8) scale(0.72 1)" font-size="11" fill="#111" stroke="#111" stroke-width="0.25">E</text><text transform="translate(8.0 385.8) scale(0.93 1)" font-size="11" fill="#111" stroke="#111" stroke-width="0.25">C</text><text transform="translate(287.1 386.2) scale(0.78 1)" font-size="11" fill="#111" stroke="#111" stroke-width="0.25">F</text><circle cx="42.90" cy="201.90" r="0.95" fill="#de6e5a"/><circle cx="42.90" cy="208.30" r="0.95" fill="#de6e5a"/><circle cx="54.50" cy="208.00" r="0.95" fill="#de6e5a"/><circle cx="59.40" cy="210.00" r="0.95" fill="#de6e5a"/><circle cx="80.20" cy="211.40" r="0.95" fill="#de6e5a"/><circle cx="47.30" cy="217.50" r="0.95" fill="#de6e5a"/><circle cx="58.60" cy="219.20" r="0.95" fill="#de6e5a"/><circle cx="65.80" cy="221.00" r="0.95" fill="#de6e5a"/><circle cx="79.00" cy="222.50" r="0.95" fill="#de6e5a"/><circle cx="38.30" cy="223.30" r="0.95" fill="#de6e5a"/><circle cx="41.50" cy="223.80" r="0.95" fill="#de6e5a"/><circle cx="44.80" cy="224.80" r="0.95" fill="#de6e5a"/><circle cx="49.00" cy="225.20" r="0.95" fill="#de6e5a"/><circle cx="39.20" cy="226.10" r="0.95" fill="#de6e5a"/><circle cx="40.40" cy="227.90" r="0.95" fill="#de6e5a"/><circle cx="59.00" cy="228.40" r="0.95" fill="#de6e5a"/><circle cx="79.00" cy="227.90" r="0.95" fill="#de6e5a"/><circle cx="36.90" cy="229.60" r="0.95" fill="#de6e5a"/><circle cx="47.90" cy="232.50" r="0.95" fill="#de6e5a"/><circle cx="45.60" cy="234.20" r="0.95" fill="#de6e5a"/><circle cx="54.20" cy="232.50" r="0.95" fill="#de6e5a"/><circle cx="56.00" cy="233.00" r="0.95" fill="#de6e5a"/><circle cx="57.70" cy="233.60" r="0.95" fill="#de6e5a"/><circle cx="68.00" cy="234.40" r="0.95" fill="#de6e5a"/><circle cx="73.80" cy="235.10" r="0.95" fill="#de6e5a"/><circle cx="60.20" cy="237.70" r="0.95" fill="#de6e5a"/><circle cx="64.40" cy="238.00" r="0.95" fill="#de6e5a"/><circle cx="68.00" cy="238.60" r="0.95" fill="#de6e5a"/><circle cx="63.70" cy="240.90" r="0.95" fill="#de6e5a"/><circle cx="53.60" cy="240.60" r="0.95" fill="#de6e5a"/><circle cx="52.50" cy="241.70" r="0.95" fill="#de6e5a"/><circle cx="48.20" cy="242.50" r="0.95" fill="#de6e5a"/><circle cx="42.90" cy="244.00" r="0.95" fill="#de6e5a"/><circle cx="44.80" cy="245.70" r="0.95" fill="#de6e5a"/><circle cx="51.70" cy="244.60" r="0.95" fill="#de6e5a"/><circle cx="46.10" cy="249.20" r="0.95" fill="#de6e5a"/><circle cx="63.40" cy="248.00" r="0.95" fill="#de6e5a"/><circle cx="81.30" cy="246.30" r="0.95" fill="#de6e5a"/><line x1="36.70" y1="230.20" x2="81.70" y2="230.20" stroke="#1a1a1a" stroke-width="1.5"/><circle cx="212.03" cy="205.04" r="0.95" fill="#189696"/><circle cx="191.67" cy="222.65" r="0.95" fill="#189696"/><circle cx="179.20" cy="203.88" r="0.95" fill="#189696"/><circle cx="193.73" cy="217.78" r="0.95" fill="#189696"/><circle cx="175.18" cy="205.13" r="0.95" fill="#189696"/><circle cx="184.47" cy="204.28" r="0.95" fill="#189696"/><circle cx="201.79" cy="235.37" r="0.95" fill="#189696"/><circle cx="172.86" cy="229.31" r="0.95" fill="#189696"/><circle cx="200.03" cy="215.32" r="0.95" fill="#189696"/><circle cx="171.67" cy="213.68" r="0.95" fill="#189696"/><circle cx="194.46" cy="214.22" r="0.95" fill="#189696"/><circle cx="181.74" cy="225.15" r="0.95" fill="#189696"/><circle cx="172.34" cy="221.11" r="0.95" fill="#189696"/><circle cx="208.40" cy="206.95" r="0.95" fill="#189696"/><circle cx="194.05" cy="221.16" r="0.95" fill="#189696"/><circle cx="200.41" cy="210.27" r="0.95" fill="#189696"/><circle cx="191.31" cy="208.51" r="0.95" fill="#189696"/><circle cx="215.21" cy="211.76" r="0.95" fill="#189696"/><circle cx="185.00" cy="227.77" r="0.95" fill="#189696"/><circle cx="181.20" cy="203.94" r="0.95" fill="#189696"/><circle cx="205.02" cy="217.48" r="0.95" fill="#189696"/><circle cx="188.78" cy="222.57" r="0.95" fill="#189696"/><circle cx="213.54" cy="224.70" r="0.95" fill="#189696"/><circle cx="208.62" cy="209.57" r="0.95" fill="#189696"/><circle cx="211.42" cy="226.05" r="0.95" fill="#189696"/><circle cx="191.87" cy="218.53" r="0.95" fill="#189696"/><circle cx="174.24" cy="229.49" r="0.95" fill="#189696"/><circle cx="198.95" cy="217.14" r="0.95" fill="#189696"/><circle cx="174.87" cy="220.05" r="0.95" fill="#189696"/><circle cx="185.77" cy="209.92" r="0.95" fill="#189696"/><circle cx="176.24" cy="236.56" r="0.95" fill="#189696"/><circle cx="181.94" cy="214.35" r="0.95" fill="#189696"/><circle cx="206.39" cy="221.61" r="0.95" fill="#189696"/><circle cx="178.89" cy="220.79" r="0.95" fill="#189696"/><circle cx="179.47" cy="207.34" r="0.95" fill="#189696"/><circle cx="203.50" cy="214.14" r="0.95" fill="#189696"/><circle cx="176.17" cy="229.25" r="0.95" fill="#189696"/><circle cx="189.68" cy="230.09" r="0.95" fill="#189696"/><circle cx="214.11" cy="220.52" r="0.95" fill="#189696"/><circle cx="206.67" cy="226.99" r="0.95" fill="#189696"/><circle cx="180.36" cy="210.87" r="0.95" fill="#189696"/><circle cx="188.51" cy="240.06" r="0.95" fill="#189696"/><circle cx="175.45" cy="228.11" r="0.95" fill="#189696"/><circle cx="214.92" cy="206.01" r="0.95" fill="#189696"/><circle cx="205.31" cy="220.45" r="0.95" fill="#189696"/><circle cx="185.61" cy="226.78" r="0.95" fill="#189696"/><circle cx="175.00" cy="217.27" r="0.95" fill="#189696"/><circle cx="196.87" cy="222.61" r="0.95" fill="#189696"/><circle cx="187.50" cy="219.15" r="0.95" fill="#189696"/><circle cx="191.12" cy="233.40" r="0.95" fill="#189696"/><circle cx="196.51" cy="230.73" r="0.95" fill="#189696"/><circle cx="209.47" cy="215.29" r="0.95" fill="#189696"/><circle cx="211.33" cy="221.11" r="0.95" fill="#189696"/><circle cx="207.31" cy="224.31" r="0.95" fill="#189696"/><circle cx="203.83" cy="218.52" r="0.95" fill="#189696"/><circle cx="212.75" cy="225.64" r="0.95" fill="#189696"/><circle cx="210.17" cy="227.37" r="0.95" fill="#189696"/><circle cx="197.80" cy="243.93" r="0.95" fill="#189696"/><circle cx="172.72" cy="213.96" r="0.95" fill="#189696"/><circle cx="213.74" cy="220.94" r="0.95" fill="#189696"/><circle cx="182.41" cy="219.75" r="0.95" fill="#189696"/><circle cx="207.57" cy="235.63" r="0.95" fill="#189696"/><circle cx="178.79" cy="210.96" r="0.95" fill="#189696"/><circle cx="202.98" cy="213.28" r="0.95" fill="#189696"/><circle cx="195.84" cy="225.69" r="0.95" fill="#189696"/><circle cx="208.85" cy="221.82" r="0.95" fill="#189696"/><circle cx="211.73" cy="211.78" r="0.95" fill="#189696"/><circle cx="180.06" cy="212.63" r="0.95" fill="#189696"/><circle cx="190.79" cy="227.16" r="0.95" fill="#189696"/><circle cx="173.68" cy="219.41" r="0.95" fill="#189696"/><circle cx="196.40" cy="223.22" r="0.95" fill="#189696"/><circle cx="176.84" cy="227.94" r="0.95" fill="#189696"/><circle cx="214.53" cy="203.50" r="0.95" fill="#189696"/><circle cx="200.17" cy="236.14" r="0.95" fill="#189696"/><circle cx="177.23" cy="213.24" r="0.95" fill="#189696"/><circle cx="172.56" cy="204.91" r="0.95" fill="#189696"/><circle cx="202.12" cy="242.50" r="0.95" fill="#189696"/><circle cx="213.75" cy="221.21" r="0.95" fill="#189696"/><circle cx="192.41" cy="234.00" r="0.95" fill="#189696"/><circle cx="203.43" cy="220.58" r="0.95" fill="#189696"/><circle cx="174.34" cy="200.81" r="0.95" fill="#189696"/><circle cx="210.97" cy="201.27" r="0.95" fill="#189696"/><circle cx="203.73" cy="213.37" r="0.95" fill="#189696"/><circle cx="211.63" cy="212.90" r="0.95" fill="#189696"/><circle cx="186.62" cy="199.79" r="0.95" fill="#189696"/><circle cx="209.68" cy="209.13" r="0.95" fill="#189696"/><circle cx="189.52" cy="196.79" r="0.95" fill="#189696"/><circle cx="196.43" cy="224.03" r="0.95" fill="#189696"/><circle cx="198.75" cy="197.26" r="0.95" fill="#189696"/><circle cx="198.03" cy="207.75" r="0.95" fill="#189696"/><circle cx="174.56" cy="228.30" r="0.95" fill="#189696"/><circle cx="210.06" cy="196.21" r="0.95" fill="#189696"/><circle cx="203.64" cy="217.01" r="0.95" fill="#189696"/><circle cx="196.79" cy="207.69" r="0.95" fill="#189696"/><circle cx="174.72" cy="198.95" r="0.95" fill="#189696"/><circle cx="204.31" cy="226.17" r="0.95" fill="#189696"/><circle cx="192.35" cy="233.16" r="0.95" fill="#189696"/><circle cx="181.22" cy="221.28" r="0.95" fill="#189696"/><circle cx="198.28" cy="214.39" r="0.95" fill="#189696"/><circle cx="211.87" cy="206.27" r="0.95" fill="#189696"/><circle cx="184.37" cy="218.44" r="0.95" fill="#189696"/><circle cx="201.11" cy="220.16" r="0.95" fill="#189696"/><circle cx="211.21" cy="220.47" r="0.95" fill="#189696"/><circle cx="200.30" cy="224.91" r="0.95" fill="#189696"/><circle cx="185.52" cy="196.83" r="0.95" fill="#189696"/><circle cx="200.57" cy="226.78" r="0.95" fill="#189696"/><circle cx="206.79" cy="222.21" r="0.95" fill="#189696"/><circle cx="211.59" cy="229.57" r="0.95" fill="#189696"/><circle cx="196.89" cy="226.41" r="0.95" fill="#189696"/><circle cx="185.05" cy="211.10" r="0.95" fill="#189696"/><line x1="170.90" y1="218.50" x2="215.50" y2="218.50" stroke="#0a0a0a" stroke-width="1.5"/><rect x="29.6" y="190.7" width="192.5" height="61.20000000000002" fill="none" stroke="#111" stroke-width="1.3"/><line x1="26.60" y1="198.75" x2="29.60" y2="198.75" stroke="#111" stroke-width="1.1"/><text x="23.40" y="201.45" font-size="6.3" text-anchor="end" fill="#222" stroke="#222" stroke-width="0.12" >8</text><line x1="26.60" y1="212.50" x2="29.60" y2="212.50" stroke="#111" stroke-width="1.1"/><text x="23.40" y="215.20" font-size="6.3" text-anchor="end" fill="#222" stroke="#222" stroke-width="0.12" >7</text><line x1="26.60" y1="226.25" x2="29.60" y2="226.25" stroke="#111" stroke-width="1.1"/><text x="23.40" y="228.95" font-size="6.3" text-anchor="end" fill="#222" stroke="#222" stroke-width="0.12" >6</text><line x1="26.60" y1="240.00" x2="29.60" y2="240.00" stroke="#111" stroke-width="1.1"/><text x="23.40" y="242.70" font-size="6.3" text-anchor="end" fill="#222" stroke="#222" stroke-width="0.12" >5</text><line x1="59.20" y1="251.90" x2="59.20" y2="254.70" stroke="#111" stroke-width="1.1"/><line x1="193.20" y1="251.90" x2="193.20" y2="254.70" stroke="#111" stroke-width="1.1"/><text x="14.50" y="221.40" font-size="8.8" text-anchor="middle" fill="#1a1a1a" stroke="#1a1a1a" stroke-width="0.18" textLength="26.6" lengthAdjust="spacingAndGlyphs" transform="rotate(-90 14.50 221.40)" >BCL2L1</text><text x="126.00" y="185.10" font-size="9.0" text-anchor="middle" fill="#111" stroke="#111" stroke-width="0.16" textLength="94.80000000000001" lengthAdjust="spacingAndGlyphs" >log normalized expression</text><text x="109.30" y="198.00" font-size="4.6" text-anchor="start" fill="#222" stroke="#222" stroke-width="0.08" textLength="32.4" lengthAdjust="spacingAndGlyphs" >p−val: 2.2e−07</text><text x="59.20" y="262.80" font-size="6.0" text-anchor="middle" fill="#1a1a1a" stroke="#1a1a1a" stroke-width="0.15" textLength="17.0" lengthAdjust="spacingAndGlyphs" >t11.14</text><text x="193.20" y="262.80" font-size="6.0" text-anchor="middle" fill="#1a1a1a" stroke="#1a1a1a" stroke-width="0.15" textLength="29.2" lengthAdjust="spacingAndGlyphs" >non t11.14</text><circle cx="72.70" cy="293.30" r="0.95" fill="#de6e5a"/><circle cx="62.10" cy="301.20" r="0.95" fill="#de6e5a"/><circle cx="36.70" cy="304.30" r="0.95" fill="#de6e5a"/><circle cx="54.80" cy="308.70" r="0.95" fill="#de6e5a"/><circle cx="68.60" cy="308.10" r="0.95" fill="#de6e5a"/><circle cx="73.60" cy="310.10" r="0.95" fill="#de6e5a"/><circle cx="58.30" cy="312.60" r="0.95" fill="#de6e5a"/><circle cx="48.70" cy="315.30" r="0.95" fill="#de6e5a"/><circle cx="72.10" cy="315.30" r="0.95" fill="#de6e5a"/><circle cx="47.60" cy="318.40" r="0.95" fill="#de6e5a"/><circle cx="36.70" cy="320.20" r="0.95" fill="#de6e5a"/><circle cx="41.00" cy="320.10" r="0.95" fill="#de6e5a"/><circle cx="52.30" cy="320.10" r="0.95" fill="#de6e5a"/><circle cx="57.90" cy="321.30" r="0.95" fill="#de6e5a"/><circle cx="62.90" cy="321.40" r="0.95" fill="#de6e5a"/><circle cx="69.20" cy="321.40" r="0.95" fill="#de6e5a"/><circle cx="71.80" cy="321.10" r="0.95" fill="#de6e5a"/><circle cx="48.80" cy="322.50" r="0.95" fill="#de6e5a"/><circle cx="41.30" cy="324.30" r="0.95" fill="#de6e5a"/><circle cx="48.50" cy="325.10" r="0.95" fill="#de6e5a"/><circle cx="56.90" cy="323.70" r="0.95" fill="#de6e5a"/><circle cx="66.90" cy="323.70" r="0.95" fill="#de6e5a"/><circle cx="68.60" cy="324.50" r="0.95" fill="#de6e5a"/><circle cx="50.50" cy="326.40" r="0.95" fill="#de6e5a"/><circle cx="58.30" cy="326.40" r="0.95" fill="#de6e5a"/><circle cx="65.20" cy="326.80" r="0.95" fill="#de6e5a"/><circle cx="76.70" cy="327.10" r="0.95" fill="#de6e5a"/><circle cx="80.50" cy="326.20" r="0.95" fill="#de6e5a"/><circle cx="46.70" cy="328.00" r="0.95" fill="#de6e5a"/><circle cx="59.40" cy="328.50" r="0.95" fill="#de6e5a"/><circle cx="63.20" cy="328.00" r="0.95" fill="#de6e5a"/><circle cx="64.40" cy="329.10" r="0.95" fill="#de6e5a"/><circle cx="63.80" cy="329.90" r="0.95" fill="#de6e5a"/><circle cx="39.50" cy="332.20" r="0.95" fill="#de6e5a"/><circle cx="56.30" cy="331.10" r="0.95" fill="#de6e5a"/><circle cx="41.00" cy="335.80" r="0.95" fill="#de6e5a"/><circle cx="53.60" cy="336.40" r="0.95" fill="#de6e5a"/><circle cx="58.60" cy="336.40" r="0.95" fill="#de6e5a"/><circle cx="74.20" cy="336.40" r="0.95" fill="#de6e5a"/><circle cx="57.30" cy="339.50" r="0.95" fill="#de6e5a"/><circle cx="41.00" cy="343.50" r="0.95" fill="#de6e5a"/><circle cx="47.10" cy="345.80" r="0.95" fill="#de6e5a"/><circle cx="75.90" cy="343.50" r="0.95" fill="#de6e5a"/><line x1="36.30" y1="324.10" x2="80.70" y2="324.10" stroke="#5a5a5a" stroke-width="1.7"/><circle cx="201.37" cy="315.45" r="0.95" fill="#189696"/><circle cx="208.71" cy="330.06" r="0.95" fill="#189696"/><circle cx="177.53" cy="318.96" r="0.95" fill="#189696"/><circle cx="181.00" cy="322.39" r="0.95" fill="#189696"/><circle cx="194.59" cy="315.82" r="0.95" fill="#189696"/><circle cx="180.50" cy="310.62" r="0.95" fill="#189696"/><circle cx="208.19" cy="313.16" r="0.95" fill="#189696"/><circle cx="198.01" cy="325.59" r="0.95" fill="#189696"/><circle cx="177.51" cy="323.60" r="0.95" fill="#189696"/><circle cx="209.69" cy="317.05" r="0.95" fill="#189696"/><circle cx="207.69" cy="322.38" r="0.95" fill="#189696"/><circle cx="204.07" cy="297.86" r="0.95" fill="#189696"/><circle cx="182.40" cy="331.59" r="0.95" fill="#189696"/><circle cx="208.74" cy="310.28" r="0.95" fill="#189696"/><circle cx="196.05" cy="298.01" r="0.95" fill="#189696"/><circle cx="190.07" cy="317.65" r="0.95" fill="#189696"/><circle cx="184.93" cy="308.73" r="0.95" fill="#189696"/><circle cx="176.21" cy="323.59" r="0.95" fill="#189696"/><circle cx="214.76" cy="323.22" r="0.95" fill="#189696"/><circle cx="201.68" cy="298.57" r="0.95" fill="#189696"/><circle cx="176.99" cy="299.18" r="0.95" fill="#189696"/><circle cx="201.05" cy="310.29" r="0.95" fill="#189696"/><circle cx="180.00" cy="309.97" r="0.95" fill="#189696"/><circle cx="194.21" cy="318.35" r="0.95" fill="#189696"/><circle cx="197.88" cy="316.15" r="0.95" fill="#189696"/><circle cx="188.57" cy="326.38" r="0.95" fill="#189696"/><circle cx="181.45" cy="323.52" r="0.95" fill="#189696"/><circle cx="181.46" cy="324.06" r="0.95" fill="#189696"/><circle cx="174.25" cy="319.34" r="0.95" fill="#189696"/><circle cx="199.91" cy="324.48" r="0.95" fill="#189696"/><circle cx="202.92" cy="324.97" r="0.95" fill="#189696"/><circle cx="212.42" cy="313.26" r="0.95" fill="#189696"/><circle cx="206.79" cy="321.19" r="0.95" fill="#189696"/><circle cx="208.21" cy="317.73" r="0.95" fill="#189696"/><circle cx="189.36" cy="312.23" r="0.95" fill="#189696"/><circle cx="209.55" cy="311.42" r="0.95" fill="#189696"/><circle cx="180.02" cy="328.65" r="0.95" fill="#189696"/><circle cx="208.90" cy="303.40" r="0.95" fill="#189696"/><circle cx="177.08" cy="304.07" r="0.95" fill="#189696"/><circle cx="214.13" cy="326.52" r="0.95" fill="#189696"/><circle cx="180.40" cy="302.38" r="0.95" fill="#189696"/><circle cx="198.41" cy="305.73" r="0.95" fill="#189696"/><circle cx="186.96" cy="303.55" r="0.95" fill="#189696"/><circle cx="203.31" cy="309.24" r="0.95" fill="#189696"/><circle cx="178.30" cy="311.40" r="0.95" fill="#189696"/><circle cx="201.37" cy="322.72" r="0.95" fill="#189696"/><circle cx="174.07" cy="321.30" r="0.95" fill="#189696"/><circle cx="199.57" cy="320.57" r="0.95" fill="#189696"/><circle cx="172.72" cy="303.48" r="0.95" fill="#189696"/><circle cx="190.52" cy="311.64" r="0.95" fill="#189696"/><circle cx="171.13" cy="313.72" r="0.95" fill="#189696"/><circle cx="215.31" cy="319.71" r="0.95" fill="#189696"/><circle cx="182.94" cy="321.91" r="0.95" fill="#189696"/><circle cx="197.52" cy="321.67" r="0.95" fill="#189696"/><circle cx="187.28" cy="325.36" r="0.95" fill="#189696"/><circle cx="208.05" cy="321.14" r="0.95" fill="#189696"/><circle cx="193.05" cy="324.52" r="0.95" fill="#189696"/><circle cx="214.06" cy="316.69" r="0.95" fill="#189696"/><circle cx="200.73" cy="304.00" r="0.95" fill="#189696"/><circle cx="184.17" cy="315.09" r="0.95" fill="#189696"/><circle cx="211.42" cy="326.81" r="0.95" fill="#189696"/><circle cx="203.78" cy="318.50" r="0.95" fill="#189696"/><circle cx="208.70" cy="315.53" r="0.95" fill="#189696"/><circle cx="182.48" cy="330.04" r="0.95" fill="#189696"/><circle cx="181.85" cy="307.63" r="0.95" fill="#189696"/><circle cx="183.76" cy="310.98" r="0.95" fill="#189696"/><circle cx="172.69" cy="318.79" r="0.95" fill="#189696"/><circle cx="188.65" cy="324.42" r="0.95" fill="#189696"/><circle cx="197.63" cy="329.37" r="0.95" fill="#189696"/><circle cx="171.18" cy="324.26" r="0.95" fill="#189696"/><circle cx="192.34" cy="317.27" r="0.95" fill="#189696"/><circle cx="195.63" cy="309.33" r="0.95" fill="#189696"/><circle cx="190.31" cy="311.88" r="0.95" fill="#189696"/><circle cx="177.08" cy="322.85" r="0.95" fill="#189696"/><circle cx="207.56" cy="319.27" r="0.95" fill="#189696"/><circle cx="180.69" cy="312.35" r="0.95" fill="#189696"/><circle cx="172.48" cy="312.81" r="0.95" fill="#189696"/><circle cx="176.70" cy="324.83" r="0.95" fill="#189696"/><circle cx="209.91" cy="308.77" r="0.95" fill="#189696"/><circle cx="214.95" cy="323.85" r="0.95" fill="#189696"/><circle cx="176.74" cy="327.12" r="0.95" fill="#189696"/><circle cx="206.68" cy="319.41" r="0.95" fill="#189696"/><circle cx="195.22" cy="306.14" r="0.95" fill="#189696"/><circle cx="176.58" cy="333.47" r="0.95" fill="#189696"/><circle cx="209.54" cy="323.19" r="0.95" fill="#189696"/><circle cx="177.65" cy="316.61" r="0.95" fill="#189696"/><circle cx="186.32" cy="305.89" r="0.95" fill="#189696"/><circle cx="206.60" cy="317.55" r="0.95" fill="#189696"/><circle cx="200.60" cy="319.63" r="0.95" fill="#189696"/><circle cx="212.53" cy="330.36" r="0.95" fill="#189696"/><circle cx="190.56" cy="291.84" r="0.95" fill="#189696"/><circle cx="196.45" cy="313.31" r="0.95" fill="#189696"/><circle cx="210.85" cy="301.11" r="0.95" fill="#189696"/><circle cx="176.12" cy="301.93" r="0.95" fill="#189696"/><circle cx="207.07" cy="323.64" r="0.95" fill="#189696"/><circle cx="194.69" cy="324.84" r="0.95" fill="#189696"/><circle cx="184.22" cy="307.79" r="0.95" fill="#189696"/><circle cx="174.86" cy="338.30" r="0.95" fill="#189696"/><circle cx="203.28" cy="318.52" r="0.95" fill="#189696"/><circle cx="175.76" cy="317.12" r="0.95" fill="#189696"/><circle cx="215.38" cy="311.74" r="0.95" fill="#189696"/><circle cx="206.92" cy="294.83" r="0.95" fill="#189696"/><circle cx="207.99" cy="302.75" r="0.95" fill="#189696"/><circle cx="202.79" cy="322.15" r="0.95" fill="#189696"/><circle cx="175.86" cy="311.72" r="0.95" fill="#189696"/><circle cx="184.70" cy="331.16" r="0.95" fill="#189696"/><circle cx="182.89" cy="326.56" r="0.95" fill="#189696"/><circle cx="205.85" cy="316.10" r="0.95" fill="#189696"/><circle cx="172.30" cy="315.50" r="0.95" fill="#189696"/><circle cx="182.50" cy="316.64" r="0.95" fill="#189696"/><line x1="170.90" y1="316.40" x2="215.50" y2="316.40" stroke="#0a0a0a" stroke-width="1.5"/><rect x="29.6" y="286.75" width="192.5" height="61.25" fill="none" stroke="#111" stroke-width="1.3"/><line x1="26.60" y1="296.00" x2="29.60" y2="296.00" stroke="#111" stroke-width="1.1"/><text x="23.40" y="298.70" font-size="6.3" text-anchor="end" fill="#222" stroke="#222" stroke-width="0.12" >7</text><line x1="26.60" y1="310.75" x2="29.60" y2="310.75" stroke="#111" stroke-width="1.1"/><text x="23.40" y="313.45" font-size="6.3" text-anchor="end" fill="#222" stroke="#222" stroke-width="0.12" >6</text><line x1="26.60" y1="325.50" x2="29.60" y2="325.50" stroke="#111" stroke-width="1.1"/><text x="23.40" y="328.20" font-size="6.3" text-anchor="end" fill="#222" stroke="#222" stroke-width="0.12" >5</text><line x1="26.60" y1="340.25" x2="29.60" y2="340.25" stroke="#111" stroke-width="1.1"/><text x="23.40" y="342.95" font-size="6.3" text-anchor="end" fill="#222" stroke="#222" stroke-width="0.12" >4</text><line x1="58.50" y1="348.00" x2="58.50" y2="350.80" stroke="#111" stroke-width="1.1"/><line x1="193.20" y1="348.00" x2="193.20" y2="350.80" stroke="#111" stroke-width="1.1"/><text x="14.50" y="317.50" font-size="8.8" text-anchor="middle" fill="#1a1a1a" stroke="#1a1a1a" stroke-width="0.18" textLength="17" lengthAdjust="spacingAndGlyphs" transform="rotate(-90 14.50 317.50)" >BAK1</text><text x="126.05" y="281.70" font-size="9.0" text-anchor="middle" fill="#111" stroke="#111" stroke-width="0.16" textLength="113.50000000000001" lengthAdjust="spacingAndGlyphs" >log normalized expression ratio</text><text x="109.30" y="294.50" font-size="4.6" text-anchor="start" fill="#222" stroke="#222" stroke-width="0.08" textLength="31" lengthAdjust="spacingAndGlyphs" >p−val: 0.00025</text><text x="58.50" y="359.30" font-size="6.0" text-anchor="middle" fill="#1a1a1a" stroke="#1a1a1a" stroke-width="0.15" textLength="17.0" lengthAdjust="spacingAndGlyphs" >t11.14</text><text x="193.20" y="359.30" font-size="6.0" text-anchor="middle" fill="#1a1a1a" stroke="#1a1a1a" stroke-width="0.15" textLength="29.2" lengthAdjust="spacingAndGlyphs" >non t11.14</text><circle cx="74.60" cy="408.40" r="0.95" fill="#de6e5a"/><circle cx="69.70" cy="421.30" r="0.95" fill="#de6e5a"/><circle cx="60.90" cy="432.70" r="0.95" fill="#de6e5a"/><circle cx="61.50" cy="436.50" r="0.95" fill="#de6e5a"/><circle cx="73.50" cy="438.30" r="0.95" fill="#de6e5a"/><circle cx="43.90" cy="446.50" r="0.95" fill="#de6e5a"/><circle cx="71.10" cy="445.00" r="0.95" fill="#de6e5a"/><circle cx="76.40" cy="445.30" r="0.95" fill="#de6e5a"/><circle cx="58.80" cy="448.80" r="0.95" fill="#de6e5a"/><circle cx="76.70" cy="451.80" r="0.95" fill="#de6e5a"/><circle cx="41.90" cy="460.00" r="0.95" fill="#de6e5a"/><circle cx="84.30" cy="462.90" r="0.95" fill="#de6e5a"/><circle cx="85.80" cy="465.80" r="0.95" fill="#de6e5a"/><circle cx="83.40" cy="469.90" r="0.95" fill="#de6e5a"/><circle cx="79.90" cy="471.10" r="0.95" fill="#de6e5a"/><circle cx="61.80" cy="469.90" r="0.95" fill="#de6e5a"/><circle cx="61.80" cy="477.50" r="0.95" fill="#de6e5a"/><circle cx="70.50" cy="476.90" r="0.95" fill="#de6e5a"/><circle cx="75.80" cy="476.90" r="0.95" fill="#de6e5a"/><circle cx="77.30" cy="478.10" r="0.95" fill="#de6e5a"/><circle cx="85.80" cy="484.00" r="0.95" fill="#de6e5a"/><circle cx="51.80" cy="485.40" r="0.95" fill="#de6e5a"/><circle cx="58.80" cy="485.70" r="0.95" fill="#de6e5a"/><circle cx="66.70" cy="491.00" r="0.95" fill="#de6e5a"/><circle cx="81.70" cy="495.10" r="0.95" fill="#de6e5a"/><circle cx="84.90" cy="495.70" r="0.95" fill="#de6e5a"/><circle cx="68.20" cy="498.00" r="0.95" fill="#de6e5a"/><circle cx="47.10" cy="499.50" r="0.95" fill="#de6e5a"/><circle cx="46.20" cy="500.30" r="0.95" fill="#de6e5a"/><circle cx="51.80" cy="501.50" r="0.95" fill="#de6e5a"/><circle cx="67.60" cy="503.00" r="0.95" fill="#de6e5a"/><circle cx="71.70" cy="503.30" r="0.95" fill="#de6e5a"/><circle cx="82.00" cy="503.80" r="0.95" fill="#de6e5a"/><circle cx="86.30" cy="512.00" r="0.95" fill="#de6e5a"/><circle cx="84.30" cy="513.80" r="0.95" fill="#de6e5a"/><circle cx="85.80" cy="517.00" r="0.95" fill="#de6e5a"/><circle cx="72.90" cy="520.80" r="0.95" fill="#de6e5a"/><circle cx="79.00" cy="529.60" r="0.95" fill="#de6e5a"/><circle cx="74.60" cy="531.60" r="0.95" fill="#de6e5a"/><circle cx="64.10" cy="538.70" r="0.95" fill="#de6e5a"/><circle cx="69.40" cy="546.60" r="0.95" fill="#de6e5a"/><circle cx="46.20" cy="548.30" r="0.95" fill="#de6e5a"/><line x1="41.90" y1="482.90" x2="86.60" y2="482.90" stroke="#5a5a5a" stroke-width="1.7"/><circle cx="208.82" cy="512.84" r="0.95" fill="#189696"/><circle cx="182.93" cy="507.80" r="0.95" fill="#189696"/><circle cx="215.25" cy="513.76" r="0.95" fill="#189696"/><circle cx="206.37" cy="508.33" r="0.95" fill="#189696"/><circle cx="207.58" cy="510.38" r="0.95" fill="#189696"/><circle cx="188.42" cy="533.28" r="0.95" fill="#189696"/><circle cx="214.28" cy="506.99" r="0.95" fill="#189696"/><circle cx="215.03" cy="528.19" r="0.95" fill="#189696"/><circle cx="217.28" cy="514.46" r="0.95" fill="#189696"/><circle cx="198.76" cy="488.42" r="0.95" fill="#189696"/><circle cx="194.66" cy="512.27" r="0.95" fill="#189696"/><circle cx="179.39" cy="538.37" r="0.95" fill="#189696"/><circle cx="201.37" cy="482.77" r="0.95" fill="#189696"/><circle cx="217.52" cy="497.59" r="0.95" fill="#189696"/><circle cx="214.54" cy="490.15" r="0.95" fill="#189696"/><circle cx="220.43" cy="484.57" r="0.95" fill="#189696"/><circle cx="176.69" cy="512.78" r="0.95" fill="#189696"/><circle cx="217.88" cy="519.36" r="0.95" fill="#189696"/><circle cx="206.78" cy="521.61" r="0.95" fill="#189696"/><circle cx="198.03" cy="504.04" r="0.95" fill="#189696"/><circle cx="215.59" cy="484.61" r="0.95" fill="#189696"/><circle cx="177.97" cy="519.66" r="0.95" fill="#189696"/><circle cx="196.85" cy="516.68" r="0.95" fill="#189696"/><circle cx="193.84" cy="527.30" r="0.95" fill="#189696"/><circle cx="198.34" cy="476.63" r="0.95" fill="#189696"/><circle cx="191.70" cy="537.06" r="0.95" fill="#189696"/><circle cx="186.39" cy="568.09" r="0.95" fill="#189696"/><circle cx="190.11" cy="487.78" r="0.95" fill="#189696"/><circle cx="216.39" cy="555.52" r="0.95" fill="#189696"/><circle cx="179.17" cy="492.11" r="0.95" fill="#189696"/><circle cx="216.50" cy="533.78" r="0.95" fill="#189696"/><circle cx="181.02" cy="517.56" r="0.95" fill="#189696"/><circle cx="197.91" cy="476.19" r="0.95" fill="#189696"/><circle cx="217.42" cy="467.90" r="0.95" fill="#189696"/><circle cx="209.05" cy="545.09" r="0.95" fill="#189696"/><circle cx="215.90" cy="506.78" r="0.95" fill="#189696"/><circle cx="218.16" cy="516.44" r="0.95" fill="#189696"/><circle cx="197.40" cy="526.11" r="0.95" fill="#189696"/><circle cx="219.59" cy="535.46" r="0.95" fill="#189696"/><circle cx="213.65" cy="518.09" r="0.95" fill="#189696"/><circle cx="201.37" cy="511.37" r="0.95" fill="#189696"/><circle cx="202.43" cy="458.22" r="0.95" fill="#189696"/><circle cx="206.87" cy="519.79" r="0.95" fill="#189696"/><circle cx="176.25" cy="508.35" r="0.95" fill="#189696"/><circle cx="190.77" cy="520.17" r="0.95" fill="#189696"/><circle cx="191.41" cy="491.34" r="0.95" fill="#189696"/><circle cx="203.56" cy="485.24" r="0.95" fill="#189696"/><circle cx="189.82" cy="497.59" r="0.95" fill="#189696"/><circle cx="212.66" cy="470.03" r="0.95" fill="#189696"/><circle cx="215.84" cy="526.70" r="0.95" fill="#189696"/><circle cx="176.52" cy="448.50" r="0.95" fill="#189696"/><circle cx="193.25" cy="495.30" r="0.95" fill="#189696"/><circle cx="199.06" cy="484.55" r="0.95" fill="#189696"/><circle cx="220.03" cy="521.45" r="0.95" fill="#189696"/><circle cx="190.68" cy="524.87" r="0.95" fill="#189696"/><circle cx="189.95" cy="543.83" r="0.95" fill="#189696"/><circle cx="190.13" cy="485.12" r="0.95" fill="#189696"/><circle cx="191.08" cy="471.89" r="0.95" fill="#189696"/><circle cx="178.50" cy="480.22" r="0.95" fill="#189696"/><circle cx="208.50" cy="533.97" r="0.95" fill="#189696"/><circle cx="180.70" cy="556.13" r="0.95" fill="#189696"/><circle cx="190.85" cy="526.82" r="0.95" fill="#189696"/><circle cx="215.90" cy="474.99" r="0.95" fill="#189696"/><circle cx="191.24" cy="517.27" r="0.95" fill="#189696"/><circle cx="208.90" cy="517.68" r="0.95" fill="#189696"/><circle cx="216.47" cy="475.82" r="0.95" fill="#189696"/><circle cx="193.50" cy="498.60" r="0.95" fill="#189696"/><circle cx="210.93" cy="509.41" r="0.95" fill="#189696"/><circle cx="182.82" cy="506.01" r="0.95" fill="#189696"/><circle cx="205.23" cy="476.80" r="0.95" fill="#189696"/><circle cx="201.78" cy="461.28" r="0.95" fill="#189696"/><circle cx="192.37" cy="461.20" r="0.95" fill="#189696"/><circle cx="186.31" cy="493.33" r="0.95" fill="#189696"/><circle cx="181.06" cy="474.75" r="0.95" fill="#189696"/><circle cx="199.60" cy="496.03" r="0.95" fill="#189696"/><circle cx="207.55" cy="491.68" r="0.95" fill="#189696"/><circle cx="210.73" cy="512.05" r="0.95" fill="#189696"/><circle cx="220.08" cy="477.00" r="0.95" fill="#189696"/><circle cx="205.52" cy="554.68" r="0.95" fill="#189696"/><circle cx="181.67" cy="488.78" r="0.95" fill="#189696"/><circle cx="188.08" cy="520.58" r="0.95" fill="#189696"/><circle cx="216.90" cy="518.33" r="0.95" fill="#189696"/><circle cx="207.08" cy="508.72" r="0.95" fill="#189696"/><circle cx="204.80" cy="511.41" r="0.95" fill="#189696"/><circle cx="185.04" cy="495.39" r="0.95" fill="#189696"/><circle cx="208.17" cy="485.17" r="0.95" fill="#189696"/><circle cx="199.83" cy="460.98" r="0.95" fill="#189696"/><circle cx="182.89" cy="523.39" r="0.95" fill="#189696"/><circle cx="214.62" cy="494.44" r="0.95" fill="#189696"/><circle cx="194.66" cy="535.19" r="0.95" fill="#189696"/><circle cx="215.15" cy="518.43" r="0.95" fill="#189696"/><circle cx="198.31" cy="481.74" r="0.95" fill="#189696"/><circle cx="197.30" cy="534.00" r="0.95" fill="#189696"/><circle cx="202.57" cy="475.56" r="0.95" fill="#189696"/><circle cx="195.22" cy="513.87" r="0.95" fill="#189696"/><circle cx="219.59" cy="448.37" r="0.95" fill="#189696"/><circle cx="186.92" cy="537.35" r="0.95" fill="#189696"/><circle cx="190.75" cy="514.41" r="0.95" fill="#189696"/><circle cx="216.13" cy="506.66" r="0.95" fill="#189696"/><circle cx="220.39" cy="528.35" r="0.95" fill="#189696"/><circle cx="203.27" cy="543.87" r="0.95" fill="#189696"/><circle cx="196.06" cy="501.57" r="0.95" fill="#189696"/><circle cx="196.63" cy="510.49" r="0.95" fill="#189696"/><circle cx="211.95" cy="515.28" r="0.95" fill="#189696"/><circle cx="194.00" cy="479.84" r="0.95" fill="#189696"/><circle cx="183.29" cy="475.42" r="0.95" fill="#189696"/><circle cx="218.57" cy="470.78" r="0.95" fill="#189696"/><circle cx="219.42" cy="476.19" r="0.95" fill="#189696"/><circle cx="201.44" cy="518.31" r="0.95" fill="#189696"/><circle cx="185.71" cy="488.16" r="0.95" fill="#189696"/><circle cx="209.92" cy="506.21" r="0.95" fill="#189696"/><circle cx="207.00" cy="464.84" r="0.95" fill="#189696"/><circle cx="206.42" cy="507.16" r="0.95" fill="#189696"/><circle cx="196.00" cy="482.19" r="0.95" fill="#189696"/><circle cx="183.73" cy="557.01" r="0.95" fill="#189696"/><circle cx="181.25" cy="547.84" r="0.95" fill="#189696"/><circle cx="215.51" cy="460.96" r="0.95" fill="#189696"/><circle cx="201.62" cy="499.81" r="0.95" fill="#189696"/><circle cx="217.16" cy="486.77" r="0.95" fill="#189696"/><circle cx="186.62" cy="531.74" r="0.95" fill="#189696"/><circle cx="182.54" cy="541.16" r="0.95" fill="#189696"/><circle cx="205.20" cy="478.76" r="0.95" fill="#189696"/><circle cx="195.04" cy="515.92" r="0.95" fill="#189696"/><circle cx="203.40" cy="479.78" r="0.95" fill="#189696"/><circle cx="196.89" cy="525.18" r="0.95" fill="#189696"/><line x1="176.00" y1="508.60" x2="220.90" y2="508.60" stroke="#5a5a5a" stroke-width="1.7"/><rect x="35.2" y="402.5" width="192.3" height="174.79999999999995" fill="none" stroke="#111" stroke-width="1.3"/><line x1="32.20" y1="407.00" x2="35.20" y2="407.00" stroke="#111" stroke-width="1.1"/><text x="29.00" y="409.70" font-size="6.3" text-anchor="end" fill="#222" stroke="#222" stroke-width="0.12" >2.0</text><line x1="32.20" y1="432.00" x2="35.20" y2="432.00" stroke="#111" stroke-width="1.1"/><text x="29.00" y="434.70" font-size="6.3" text-anchor="end" fill="#222" stroke="#222" stroke-width="0.12" >1.8</text><line x1="32.20" y1="456.75" x2="35.20" y2="456.75" stroke="#111" stroke-width="1.1"/><text x="29.00" y="459.45" font-size="6.3" text-anchor="end" fill="#222" stroke="#222" stroke-width="0.12" >1.6</text><line x1="32.20" y1="481.25" x2="35.20" y2="481.25" stroke="#111" stroke-width="1.1"/><text x="29.00" y="483.95" font-size="6.3" text-anchor="end" fill="#222" stroke="#222" stroke-width="0.12" >1.4</text><line x1="32.20" y1="506.25" x2="35.20" y2="506.25" stroke="#111" stroke-width="1.1"/><text x="29.00" y="508.95" font-size="6.3" text-anchor="end" fill="#222" stroke="#222" stroke-width="0.12" >1.2</text><line x1="32.20" y1="530.75" x2="35.20" y2="530.75" stroke="#111" stroke-width="1.1"/><text x="29.00" y="533.45" font-size="6.3" text-anchor="end" fill="#222" stroke="#222" stroke-width="0.12" >1.0</text><line x1="32.20" y1="555.75" x2="35.20" y2="555.75" stroke="#111" stroke-width="1.1"/><text x="29.00" y="558.45" font-size="6.3" text-anchor="end" fill="#222" stroke="#222" stroke-width="0.12" >0.8</text><line x1="64.25" y1="577.30" x2="64.25" y2="580.10" stroke="#111" stroke-width="1.1"/><line x1="198.45" y1="577.30" x2="198.45" y2="580.10" stroke="#111" stroke-width="1.1"/><text x="15.60" y="490.00" font-size="8.8" text-anchor="middle" fill="#1a1a1a" stroke="#1a1a1a" stroke-width="0.18" textLength="67.5" lengthAdjust="spacingAndGlyphs" transform="rotate(-90 15.60 490.00)" >Ratio BCL2/BCL2L1</text><text x="131.30" y="397.20" font-size="9.0" text-anchor="middle" fill="#111" stroke="#111" stroke-width="0.16" textLength="113.00000000000001" lengthAdjust="spacingAndGlyphs" >log normalized expression ratio</text><text x="114.00" y="411.50" font-size="4.6" text-anchor="start" fill="#222" stroke="#222" stroke-width="0.08" textLength="31.5" lengthAdjust="spacingAndGlyphs" >p−val: 2e−05</text><text x="64.25" y="588.60" font-size="6.0" text-anchor="middle" fill="#1a1a1a" stroke="#1a1a1a" stroke-width="0.15" textLength="17.0" lengthAdjust="spacingAndGlyphs" >t11.14</text><text x="198.45" y="588.60" font-size="6.0" text-anchor="middle" fill="#1a1a1a" stroke="#1a1a1a" stroke-width="0.15" textLength="29.2" lengthAdjust="spacingAndGlyphs" >non t11.14</text><circle cx="337.51" cy="225.60" r="0.95" fill="#de6e5a"/><circle cx="338.84" cy="235.65" r="0.95" fill="#de6e5a"/><circle cx="330.49" cy="222.38" r="0.95" fill="#de6e5a"/><circle cx="347.19" cy="235.13" r="0.95" fill="#de6e5a"/><circle cx="333.88" cy="235.48" r="0.95" fill="#de6e5a"/><circle cx="325.30" cy="230.72" r="0.95" fill="#de6e5a"/><circle cx="354.04" cy="230.17" r="0.95" fill="#de6e5a"/><circle cx="361.46" cy="224.80" r="0.95" fill="#de6e5a"/><circle cx="354.86" cy="230.10" r="0.95" fill="#de6e5a"/><circle cx="339.28" cy="229.64" r="0.95" fill="#de6e5a"/><circle cx="346.83" cy="229.07" r="0.95" fill="#de6e5a"/><circle cx="332.75" cy="229.07" r="0.95" fill="#de6e5a"/><circle cx="330.47" cy="234.50" r="0.95" fill="#de6e5a"/><circle cx="337.79" cy="231.71" r="0.95" fill="#de6e5a"/><circle cx="347.55" cy="224.56" r="0.95" fill="#de6e5a"/><circle cx="320.95" cy="235.14" r="0.95" fill="#de6e5a"/><circle cx="362.24" cy="228.68" r="0.95" fill="#de6e5a"/><circle cx="342.24" cy="235.66" r="0.95" fill="#de6e5a"/><circle cx="329.43" cy="220.42" r="0.95" fill="#de6e5a"/><circle cx="339.46" cy="233.29" r="0.95" fill="#de6e5a"/><circle cx="321.92" cy="234.62" r="0.95" fill="#de6e5a"/><circle cx="319.58" cy="227.11" r="0.95" fill="#de6e5a"/><circle cx="356.40" cy="220.44" r="0.95" fill="#de6e5a"/><circle cx="340.09" cy="231.11" r="0.95" fill="#de6e5a"/><circle cx="346.22" cy="232.27" r="0.95" fill="#de6e5a"/><circle cx="341.17" cy="223.54" r="0.95" fill="#de6e5a"/><circle cx="329.31" cy="233.71" r="0.95" fill="#de6e5a"/><circle cx="337.04" cy="230.88" r="0.95" fill="#de6e5a"/><circle cx="348.28" cy="224.89" r="0.95" fill="#de6e5a"/><circle cx="336.76" cy="235.87" r="0.95" fill="#de6e5a"/><circle cx="361.30" cy="227.12" r="0.95" fill="#de6e5a"/><circle cx="353.76" cy="236.91" r="0.95" fill="#de6e5a"/><circle cx="329.11" cy="223.69" r="0.95" fill="#de6e5a"/><circle cx="323.48" cy="220.48" r="0.95" fill="#de6e5a"/><circle cx="319.41" cy="232.95" r="0.95" fill="#de6e5a"/><circle cx="346.78" cy="232.09" r="0.95" fill="#de6e5a"/><circle cx="349.49" cy="232.97" r="0.95" fill="#de6e5a"/><circle cx="360.76" cy="228.84" r="0.95" fill="#de6e5a"/><circle cx="347.34" cy="230.73" r="0.95" fill="#de6e5a"/><circle cx="330.34" cy="226.67" r="0.95" fill="#de6e5a"/><circle cx="342.33" cy="230.79" r="0.95" fill="#de6e5a"/><circle cx="359.80" cy="231.21" r="0.95" fill="#de6e5a"/><circle cx="336.24" cy="233.09" r="0.95" fill="#de6e5a"/><circle cx="320.71" cy="232.46" r="0.95" fill="#de6e5a"/><circle cx="339.46" cy="220.14" r="0.95" fill="#de6e5a"/><circle cx="320.73" cy="232.55" r="0.95" fill="#de6e5a"/><circle cx="348.62" cy="234.32" r="0.95" fill="#de6e5a"/><circle cx="360.07" cy="231.16" r="0.95" fill="#de6e5a"/><circle cx="328.59" cy="227.37" r="0.95" fill="#de6e5a"/><circle cx="337.47" cy="230.35" r="0.95" fill="#de6e5a"/><circle cx="338.27" cy="232.72" r="0.95" fill="#de6e5a"/><circle cx="356.32" cy="232.27" r="0.95" fill="#de6e5a"/><circle cx="357.90" cy="231.37" r="0.95" fill="#de6e5a"/><circle cx="327.20" cy="226.17" r="0.95" fill="#de6e5a"/><circle cx="348.63" cy="232.15" r="0.95" fill="#de6e5a"/><circle cx="328.27" cy="235.85" r="0.95" fill="#de6e5a"/><circle cx="337.94" cy="218.93" r="0.95" fill="#de6e5a"/><circle cx="332.10" cy="235.47" r="0.95" fill="#de6e5a"/><circle cx="324.49" cy="231.10" r="0.95" fill="#de6e5a"/><circle cx="332.54" cy="239.14" r="0.95" fill="#de6e5a"/><circle cx="339.97" cy="222.36" r="0.95" fill="#de6e5a"/><circle cx="345.17" cy="230.45" r="0.95" fill="#de6e5a"/><circle cx="322.53" cy="222.85" r="0.95" fill="#de6e5a"/><circle cx="347.08" cy="230.28" r="0.95" fill="#de6e5a"/><circle cx="332.91" cy="225.30" r="0.95" fill="#de6e5a"/><circle cx="339.53" cy="221.30" r="0.95" fill="#de6e5a"/><circle cx="321.33" cy="233.75" r="0.95" fill="#de6e5a"/><circle cx="333.87" cy="220.56" r="0.95" fill="#de6e5a"/><circle cx="336.87" cy="234.88" r="0.95" fill="#de6e5a"/><circle cx="336.37" cy="238.73" r="0.95" fill="#de6e5a"/><circle cx="350.90" cy="231.52" r="0.95" fill="#de6e5a"/><circle cx="347.02" cy="236.91" r="0.95" fill="#de6e5a"/><circle cx="346.67" cy="231.47" r="0.95" fill="#de6e5a"/><circle cx="321.46" cy="236.32" r="0.95" fill="#de6e5a"/><circle cx="346.75" cy="231.46" r="0.95" fill="#de6e5a"/><circle cx="325.54" cy="229.59" r="0.95" fill="#de6e5a"/><circle cx="328.88" cy="239.26" r="0.95" fill="#de6e5a"/><circle cx="341.36" cy="227.70" r="0.95" fill="#de6e5a"/><circle cx="348.43" cy="237.04" r="0.95" fill="#de6e5a"/><circle cx="347.35" cy="219.87" r="0.95" fill="#de6e5a"/><circle cx="341.81" cy="229.71" r="0.95" fill="#de6e5a"/><circle cx="341.67" cy="221.69" r="0.95" fill="#de6e5a"/><circle cx="328.71" cy="222.70" r="0.95" fill="#de6e5a"/><circle cx="350.71" cy="225.13" r="0.95" fill="#de6e5a"/><circle cx="352.21" cy="227.48" r="0.95" fill="#de6e5a"/><circle cx="320.00" cy="232.80" r="0.95" fill="#de6e5a"/><circle cx="360.35" cy="228.67" r="0.95" fill="#de6e5a"/><circle cx="355.13" cy="227.65" r="0.95" fill="#de6e5a"/><circle cx="327.25" cy="233.74" r="0.95" fill="#de6e5a"/><circle cx="346.21" cy="229.31" r="0.95" fill="#de6e5a"/><circle cx="361.10" cy="230.55" r="0.95" fill="#de6e5a"/><circle cx="329.21" cy="227.15" r="0.95" fill="#de6e5a"/><circle cx="327.08" cy="232.25" r="0.95" fill="#de6e5a"/><circle cx="322.99" cy="236.55" r="0.95" fill="#de6e5a"/><circle cx="325.69" cy="231.76" r="0.95" fill="#de6e5a"/><circle cx="349.16" cy="231.13" r="0.95" fill="#de6e5a"/><circle cx="337.54" cy="232.33" r="0.95" fill="#de6e5a"/><circle cx="352.43" cy="219.41" r="0.95" fill="#de6e5a"/><circle cx="337.20" cy="239.40" r="0.95" fill="#de6e5a"/><circle cx="324.45" cy="238.35" r="0.95" fill="#de6e5a"/><circle cx="351.99" cy="227.23" r="0.95" fill="#de6e5a"/><circle cx="335.62" cy="233.03" r="0.95" fill="#de6e5a"/><circle cx="322.56" cy="234.30" r="0.95" fill="#de6e5a"/><circle cx="361.25" cy="230.82" r="0.95" fill="#de6e5a"/><circle cx="345.35" cy="220.76" r="0.95" fill="#de6e5a"/><circle cx="337.31" cy="235.96" r="0.95" fill="#de6e5a"/><circle cx="320.93" cy="229.48" r="0.95" fill="#de6e5a"/><circle cx="363.14" cy="222.20" r="0.95" fill="#de6e5a"/><circle cx="332.80" cy="192.30" r="0.95" fill="#de6e5a"/><circle cx="349.10" cy="210.80" r="0.95" fill="#de6e5a"/><circle cx="336.00" cy="249.40" r="0.95" fill="#de6e5a"/><line x1="319.00" y1="230.40" x2="363.40" y2="230.40" stroke="#0a0a0a" stroke-width="1.5"/><circle cx="496.20" cy="208.93" r="0.95" fill="#189696"/><circle cx="465.68" cy="219.75" r="0.95" fill="#189696"/><circle cx="482.59" cy="222.45" r="0.95" fill="#189696"/><circle cx="457.51" cy="210.63" r="0.95" fill="#189696"/><circle cx="486.46" cy="227.32" r="0.95" fill="#189696"/><circle cx="463.98" cy="222.50" r="0.95" fill="#189696"/><circle cx="491.01" cy="215.38" r="0.95" fill="#189696"/><circle cx="495.51" cy="221.44" r="0.95" fill="#189696"/><circle cx="492.33" cy="231.65" r="0.95" fill="#189696"/><circle cx="459.37" cy="225.68" r="0.95" fill="#189696"/><circle cx="495.96" cy="219.03" r="0.95" fill="#189696"/><circle cx="462.06" cy="212.89" r="0.95" fill="#189696"/><circle cx="481.56" cy="207.47" r="0.95" fill="#189696"/><circle cx="466.57" cy="217.90" r="0.95" fill="#189696"/><circle cx="474.07" cy="233.88" r="0.95" fill="#189696"/><circle cx="497.83" cy="228.50" r="0.95" fill="#189696"/><circle cx="489.51" cy="228.41" r="0.95" fill="#189696"/><circle cx="494.36" cy="230.03" r="0.95" fill="#189696"/><circle cx="454.85" cy="227.25" r="0.95" fill="#189696"/><circle cx="486.72" cy="222.15" r="0.95" fill="#189696"/><circle cx="469.55" cy="210.67" r="0.95" fill="#189696"/><circle cx="487.73" cy="233.53" r="0.95" fill="#189696"/><circle cx="477.84" cy="224.49" r="0.95" fill="#189696"/><circle cx="496.06" cy="217.68" r="0.95" fill="#189696"/><circle cx="464.66" cy="214.98" r="0.95" fill="#189696"/><circle cx="488.28" cy="220.39" r="0.95" fill="#189696"/><circle cx="477.78" cy="224.37" r="0.95" fill="#189696"/><circle cx="477.68" cy="229.14" r="0.95" fill="#189696"/><circle cx="494.20" cy="227.54" r="0.95" fill="#189696"/><circle cx="467.01" cy="227.89" r="0.95" fill="#189696"/><circle cx="478.81" cy="213.94" r="0.95" fill="#189696"/><circle cx="464.90" cy="232.93" r="0.95" fill="#189696"/><circle cx="468.33" cy="231.52" r="0.95" fill="#189696"/><circle cx="473.76" cy="222.12" r="0.95" fill="#189696"/><circle cx="485.67" cy="220.10" r="0.95" fill="#189696"/><circle cx="466.60" cy="229.91" r="0.95" fill="#189696"/><circle cx="493.91" cy="229.52" r="0.95" fill="#189696"/><circle cx="483.71" cy="229.17" r="0.95" fill="#189696"/><circle cx="470.84" cy="222.50" r="0.95" fill="#189696"/><circle cx="479.35" cy="219.46" r="0.95" fill="#189696"/><circle cx="470.32" cy="203.87" r="0.95" fill="#189696"/><circle cx="459.36" cy="223.03" r="0.95" fill="#189696"/><circle cx="457.52" cy="225.80" r="0.95" fill="#189696"/><circle cx="476.93" cy="224.20" r="0.95" fill="#189696"/><circle cx="489.12" cy="232.71" r="0.95" fill="#189696"/><circle cx="454.75" cy="231.10" r="0.95" fill="#189696"/><circle cx="494.63" cy="215.36" r="0.95" fill="#189696"/><circle cx="490.67" cy="230.10" r="0.95" fill="#189696"/><circle cx="482.41" cy="227.17" r="0.95" fill="#189696"/><circle cx="456.37" cy="219.23" r="0.95" fill="#189696"/><circle cx="481.46" cy="222.85" r="0.95" fill="#189696"/><circle cx="464.57" cy="221.89" r="0.95" fill="#189696"/><circle cx="459.94" cy="228.89" r="0.95" fill="#189696"/><circle cx="474.65" cy="218.35" r="0.95" fill="#189696"/><circle cx="470.37" cy="230.75" r="0.95" fill="#189696"/><circle cx="475.96" cy="212.64" r="0.95" fill="#189696"/><circle cx="472.75" cy="222.15" r="0.95" fill="#189696"/><circle cx="462.92" cy="231.31" r="0.95" fill="#189696"/><circle cx="466.98" cy="219.12" r="0.95" fill="#189696"/><circle cx="453.79" cy="223.64" r="0.95" fill="#189696"/><circle cx="486.37" cy="226.79" r="0.95" fill="#189696"/><circle cx="493.15" cy="214.82" r="0.95" fill="#189696"/><circle cx="467.46" cy="218.46" r="0.95" fill="#189696"/><circle cx="477.79" cy="207.29" r="0.95" fill="#189696"/><circle cx="480.39" cy="213.85" r="0.95" fill="#189696"/><circle cx="486.84" cy="204.77" r="0.95" fill="#189696"/><circle cx="479.41" cy="219.34" r="0.95" fill="#189696"/><circle cx="476.10" cy="226.81" r="0.95" fill="#189696"/><circle cx="478.69" cy="216.98" r="0.95" fill="#189696"/><circle cx="484.53" cy="220.83" r="0.95" fill="#189696"/><circle cx="472.77" cy="222.12" r="0.95" fill="#189696"/><circle cx="475.44" cy="213.89" r="0.95" fill="#189696"/><circle cx="453.05" cy="213.76" r="0.95" fill="#189696"/><circle cx="464.49" cy="219.71" r="0.95" fill="#189696"/><circle cx="473.77" cy="232.69" r="0.95" fill="#189696"/><circle cx="486.71" cy="220.50" r="0.95" fill="#189696"/><circle cx="476.05" cy="222.64" r="0.95" fill="#189696"/><circle cx="484.32" cy="226.09" r="0.95" fill="#189696"/><circle cx="493.73" cy="228.18" r="0.95" fill="#189696"/><circle cx="480.36" cy="222.67" r="0.95" fill="#189696"/><circle cx="493.84" cy="224.23" r="0.95" fill="#189696"/><circle cx="490.60" cy="221.36" r="0.95" fill="#189696"/><circle cx="487.05" cy="228.84" r="0.95" fill="#189696"/><circle cx="462.60" cy="222.72" r="0.95" fill="#189696"/><circle cx="488.62" cy="213.43" r="0.95" fill="#189696"/><circle cx="471.98" cy="210.49" r="0.95" fill="#189696"/><circle cx="461.06" cy="228.47" r="0.95" fill="#189696"/><circle cx="477.01" cy="224.18" r="0.95" fill="#189696"/><circle cx="477.24" cy="220.71" r="0.95" fill="#189696"/><circle cx="489.79" cy="227.00" r="0.95" fill="#189696"/><circle cx="452.84" cy="227.55" r="0.95" fill="#189696"/><circle cx="486.63" cy="220.40" r="0.95" fill="#189696"/><circle cx="490.29" cy="215.23" r="0.95" fill="#189696"/><circle cx="454.03" cy="230.05" r="0.95" fill="#189696"/><circle cx="467.13" cy="220.81" r="0.95" fill="#189696"/><circle cx="467.71" cy="215.81" r="0.95" fill="#189696"/><circle cx="475.00" cy="216.42" r="0.95" fill="#189696"/><circle cx="465.39" cy="220.25" r="0.95" fill="#189696"/><circle cx="483.48" cy="224.73" r="0.95" fill="#189696"/><circle cx="466.63" cy="224.71" r="0.95" fill="#189696"/><circle cx="462.22" cy="223.26" r="0.95" fill="#189696"/><circle cx="497.29" cy="226.95" r="0.95" fill="#189696"/><circle cx="465.87" cy="222.30" r="0.95" fill="#189696"/><circle cx="472.33" cy="217.59" r="0.95" fill="#189696"/><circle cx="476.31" cy="214.67" r="0.95" fill="#189696"/><circle cx="487.09" cy="220.28" r="0.95" fill="#189696"/><circle cx="459.98" cy="225.85" r="0.95" fill="#189696"/><circle cx="476.83" cy="227.83" r="0.95" fill="#189696"/><circle cx="492.59" cy="216.34" r="0.95" fill="#189696"/><circle cx="496.03" cy="231.37" r="0.95" fill="#189696"/><circle cx="460.17" cy="213.41" r="0.95" fill="#189696"/><circle cx="484.88" cy="226.08" r="0.95" fill="#189696"/><circle cx="467.14" cy="222.61" r="0.95" fill="#189696"/><circle cx="486.99" cy="214.23" r="0.95" fill="#189696"/><circle cx="465.63" cy="221.52" r="0.95" fill="#189696"/><circle cx="463.54" cy="208.95" r="0.95" fill="#189696"/><circle cx="452.82" cy="221.48" r="0.95" fill="#189696"/><circle cx="458.07" cy="225.41" r="0.95" fill="#189696"/><circle cx="492.98" cy="214.08" r="0.95" fill="#189696"/><circle cx="469.71" cy="221.79" r="0.95" fill="#189696"/><circle cx="455.81" cy="228.16" r="0.95" fill="#189696"/><circle cx="467.96" cy="233.67" r="0.95" fill="#189696"/><circle cx="496.36" cy="221.95" r="0.95" fill="#189696"/><circle cx="486.33" cy="215.36" r="0.95" fill="#189696"/><circle cx="494.44" cy="216.50" r="0.95" fill="#189696"/><circle cx="475.89" cy="232.68" r="0.95" fill="#189696"/><circle cx="489.72" cy="223.24" r="0.95" fill="#189696"/><circle cx="492.90" cy="223.71" r="0.95" fill="#189696"/><circle cx="488.61" cy="214.65" r="0.95" fill="#189696"/><circle cx="463.29" cy="211.57" r="0.95" fill="#189696"/><circle cx="490.69" cy="224.26" r="0.95" fill="#189696"/><circle cx="472.35" cy="233.25" r="0.95" fill="#189696"/><circle cx="470.90" cy="221.14" r="0.95" fill="#189696"/><circle cx="493.86" cy="223.91" r="0.95" fill="#189696"/><circle cx="454.10" cy="223.01" r="0.95" fill="#189696"/><circle cx="478.38" cy="226.51" r="0.95" fill="#189696"/><circle cx="474.89" cy="229.86" r="0.95" fill="#189696"/><circle cx="471.75" cy="224.82" r="0.95" fill="#189696"/><circle cx="493.13" cy="221.15" r="0.95" fill="#189696"/><circle cx="495.30" cy="226.59" r="0.95" fill="#189696"/><circle cx="461.97" cy="221.55" r="0.95" fill="#189696"/><circle cx="469.01" cy="216.66" r="0.95" fill="#189696"/><circle cx="462.96" cy="231.70" r="0.95" fill="#189696"/><circle cx="481.32" cy="209.72" r="0.95" fill="#189696"/><circle cx="461.49" cy="215.88" r="0.95" fill="#189696"/><circle cx="485.33" cy="226.04" r="0.95" fill="#189696"/><circle cx="474.53" cy="224.34" r="0.95" fill="#189696"/><circle cx="472.60" cy="205.26" r="0.95" fill="#189696"/><circle cx="492.47" cy="219.25" r="0.95" fill="#189696"/><circle cx="487.44" cy="218.55" r="0.95" fill="#189696"/><circle cx="474.61" cy="222.35" r="0.95" fill="#189696"/><circle cx="491.26" cy="227.52" r="0.95" fill="#189696"/><circle cx="495.78" cy="219.68" r="0.95" fill="#189696"/><circle cx="494.81" cy="216.66" r="0.95" fill="#189696"/><circle cx="474.03" cy="225.88" r="0.95" fill="#189696"/><circle cx="471.00" cy="215.15" r="0.95" fill="#189696"/><circle cx="496.16" cy="228.31" r="0.95" fill="#189696"/><circle cx="460.87" cy="220.38" r="0.95" fill="#189696"/><circle cx="461.54" cy="228.16" r="0.95" fill="#189696"/><circle cx="464.17" cy="222.78" r="0.95" fill="#189696"/><circle cx="472.57" cy="224.51" r="0.95" fill="#189696"/><circle cx="456.48" cy="222.19" r="0.95" fill="#189696"/><circle cx="464.33" cy="218.73" r="0.95" fill="#189696"/><circle cx="466.67" cy="229.41" r="0.95" fill="#189696"/><circle cx="478.13" cy="217.55" r="0.95" fill="#189696"/><circle cx="487.85" cy="224.74" r="0.95" fill="#189696"/><circle cx="476.83" cy="228.80" r="0.95" fill="#189696"/><circle cx="494.28" cy="222.95" r="0.95" fill="#189696"/><circle cx="480.53" cy="219.90" r="0.95" fill="#189696"/><circle cx="493.48" cy="216.12" r="0.95" fill="#189696"/><circle cx="457.39" cy="231.28" r="0.95" fill="#189696"/><circle cx="469.42" cy="217.91" r="0.95" fill="#189696"/><circle cx="487.02" cy="215.30" r="0.95" fill="#189696"/><circle cx="474.93" cy="222.22" r="0.95" fill="#189696"/><circle cx="489.26" cy="222.25" r="0.95" fill="#189696"/><circle cx="457.67" cy="221.38" r="0.95" fill="#189696"/><circle cx="469.89" cy="217.55" r="0.95" fill="#189696"/><circle cx="480.31" cy="221.04" r="0.95" fill="#189696"/><circle cx="470.32" cy="223.18" r="0.95" fill="#189696"/><circle cx="457.48" cy="220.98" r="0.95" fill="#189696"/><circle cx="461.46" cy="221.33" r="0.95" fill="#189696"/><circle cx="489.30" cy="217.61" r="0.95" fill="#189696"/><circle cx="464.70" cy="233.44" r="0.95" fill="#189696"/><circle cx="497.82" cy="225.14" r="0.95" fill="#189696"/><circle cx="474.16" cy="223.62" r="0.95" fill="#189696"/><circle cx="466.56" cy="223.17" r="0.95" fill="#189696"/><circle cx="467.55" cy="217.83" r="0.95" fill="#189696"/><circle cx="453.26" cy="216.82" r="0.95" fill="#189696"/><circle cx="473.49" cy="221.90" r="0.95" fill="#189696"/><circle cx="492.36" cy="221.75" r="0.95" fill="#189696"/><circle cx="473.39" cy="215.48" r="0.95" fill="#189696"/><circle cx="487.34" cy="220.08" r="0.95" fill="#189696"/><circle cx="481.91" cy="223.32" r="0.95" fill="#189696"/><circle cx="466.01" cy="219.25" r="0.95" fill="#189696"/><circle cx="479.35" cy="230.20" r="0.95" fill="#189696"/><circle cx="482.81" cy="216.65" r="0.95" fill="#189696"/><circle cx="467.16" cy="221.67" r="0.95" fill="#189696"/><circle cx="454.28" cy="218.82" r="0.95" fill="#189696"/><circle cx="478.53" cy="229.29" r="0.95" fill="#189696"/><circle cx="461.62" cy="232.83" r="0.95" fill="#189696"/><circle cx="456.38" cy="219.46" r="0.95" fill="#189696"/><circle cx="489.58" cy="227.51" r="0.95" fill="#189696"/><circle cx="475.92" cy="219.75" r="0.95" fill="#189696"/><circle cx="471.33" cy="222.89" r="0.95" fill="#189696"/><circle cx="463.35" cy="221.88" r="0.95" fill="#189696"/><circle cx="475.32" cy="216.04" r="0.95" fill="#189696"/><circle cx="485.96" cy="218.46" r="0.95" fill="#189696"/><circle cx="491.91" cy="223.28" r="0.95" fill="#189696"/><circle cx="473.93" cy="225.79" r="0.95" fill="#189696"/><circle cx="488.46" cy="212.55" r="0.95" fill="#189696"/><circle cx="461.83" cy="222.16" r="0.95" fill="#189696"/><circle cx="476.64" cy="224.16" r="0.95" fill="#189696"/><circle cx="489.47" cy="223.17" r="0.95" fill="#189696"/><circle cx="480.60" cy="227.70" r="0.95" fill="#189696"/><circle cx="452.76" cy="222.46" r="0.95" fill="#189696"/><circle cx="454.83" cy="224.40" r="0.95" fill="#189696"/><circle cx="490.24" cy="220.70" r="0.95" fill="#189696"/><circle cx="470.08" cy="230.94" r="0.95" fill="#189696"/><circle cx="495.65" cy="228.87" r="0.95" fill="#189696"/><circle cx="453.19" cy="223.68" r="0.95" fill="#189696"/><circle cx="467.23" cy="204.40" r="0.95" fill="#189696"/><circle cx="479.43" cy="203.54" r="0.95" fill="#189696"/><circle cx="460.36" cy="224.83" r="0.95" fill="#189696"/><circle cx="488.28" cy="211.89" r="0.95" fill="#189696"/><circle cx="479.75" cy="212.68" r="0.95" fill="#189696"/><circle cx="490.07" cy="216.21" r="0.95" fill="#189696"/><circle cx="457.53" cy="207.22" r="0.95" fill="#189696"/><circle cx="453.59" cy="214.62" r="0.95" fill="#189696"/><circle cx="485.20" cy="226.13" r="0.95" fill="#189696"/><circle cx="494.25" cy="226.93" r="0.95" fill="#189696"/><circle cx="469.91" cy="222.25" r="0.95" fill="#189696"/><circle cx="482.41" cy="221.53" r="0.95" fill="#189696"/><circle cx="461.72" cy="216.93" r="0.95" fill="#189696"/><circle cx="484.93" cy="224.38" r="0.95" fill="#189696"/><circle cx="467.38" cy="207.94" r="0.95" fill="#189696"/><circle cx="474.16" cy="210.77" r="0.95" fill="#189696"/><circle cx="464.39" cy="230.55" r="0.95" fill="#189696"/><circle cx="485.66" cy="218.94" r="0.95" fill="#189696"/><circle cx="457.29" cy="218.63" r="0.95" fill="#189696"/><circle cx="475.17" cy="222.35" r="0.95" fill="#189696"/><circle cx="485.41" cy="219.46" r="0.95" fill="#189696"/><circle cx="464.23" cy="225.81" r="0.95" fill="#189696"/><circle cx="452.86" cy="213.55" r="0.95" fill="#189696"/><circle cx="489.09" cy="223.67" r="0.95" fill="#189696"/><circle cx="475.91" cy="221.04" r="0.95" fill="#189696"/><circle cx="462.20" cy="225.04" r="0.95" fill="#189696"/><circle cx="454.33" cy="224.39" r="0.95" fill="#189696"/><circle cx="468.62" cy="222.09" r="0.95" fill="#189696"/><circle cx="460.46" cy="219.28" r="0.95" fill="#189696"/><circle cx="490.95" cy="225.15" r="0.95" fill="#189696"/><circle cx="452.94" cy="213.00" r="0.95" fill="#189696"/><circle cx="494.51" cy="217.12" r="0.95" fill="#189696"/><circle cx="482.24" cy="231.49" r="0.95" fill="#189696"/><circle cx="471.20" cy="223.56" r="0.95" fill="#189696"/><circle cx="478.95" cy="217.04" r="0.95" fill="#189696"/><circle cx="490.85" cy="227.94" r="0.95" fill="#189696"/><circle cx="480.92" cy="223.93" r="0.95" fill="#189696"/><circle cx="465.43" cy="222.40" r="0.95" fill="#189696"/><circle cx="454.05" cy="215.47" r="0.95" fill="#189696"/><circle cx="489.98" cy="218.19" r="0.95" fill="#189696"/><circle cx="486.33" cy="223.59" r="0.95" fill="#189696"/><circle cx="494.09" cy="226.49" r="0.95" fill="#189696"/><circle cx="467.04" cy="230.07" r="0.95" fill="#189696"/><circle cx="463.13" cy="208.85" r="0.95" fill="#189696"/><circle cx="482.04" cy="208.81" r="0.95" fill="#189696"/><circle cx="480.94" cy="224.39" r="0.95" fill="#189696"/><circle cx="478.29" cy="220.17" r="0.95" fill="#189696"/><circle cx="471.95" cy="216.80" r="0.95" fill="#189696"/><circle cx="477.27" cy="225.28" r="0.95" fill="#189696"/><circle cx="481.28" cy="217.39" r="0.95" fill="#189696"/><circle cx="486.52" cy="218.12" r="0.95" fill="#189696"/><circle cx="458.56" cy="209.66" r="0.95" fill="#189696"/><circle cx="485.78" cy="223.12" r="0.95" fill="#189696"/><circle cx="466.32" cy="221.08" r="0.95" fill="#189696"/><circle cx="457.69" cy="226.09" r="0.95" fill="#189696"/><circle cx="462.11" cy="224.86" r="0.95" fill="#189696"/><circle cx="469.34" cy="232.23" r="0.95" fill="#189696"/><circle cx="474.98" cy="218.86" r="0.95" fill="#189696"/><circle cx="458.63" cy="216.52" r="0.95" fill="#189696"/><circle cx="472.58" cy="217.95" r="0.95" fill="#189696"/><circle cx="480.16" cy="230.11" r="0.95" fill="#189696"/><circle cx="488.97" cy="206.82" r="0.95" fill="#189696"/><circle cx="489.35" cy="210.79" r="0.95" fill="#189696"/><circle cx="493.57" cy="226.65" r="0.95" fill="#189696"/><circle cx="455.86" cy="224.05" r="0.95" fill="#189696"/><circle cx="478.96" cy="228.36" r="0.95" fill="#189696"/><circle cx="476.71" cy="212.28" r="0.95" fill="#189696"/><circle cx="468.11" cy="222.87" r="0.95" fill="#189696"/><circle cx="488.00" cy="224.85" r="0.95" fill="#189696"/><circle cx="465.06" cy="225.58" r="0.95" fill="#189696"/><circle cx="464.50" cy="232.70" r="0.95" fill="#189696"/><circle cx="473.09" cy="218.63" r="0.95" fill="#189696"/><circle cx="487.53" cy="221.74" r="0.95" fill="#189696"/><circle cx="471.01" cy="220.60" r="0.95" fill="#189696"/><circle cx="482.04" cy="221.07" r="0.95" fill="#189696"/><circle cx="455.10" cy="220.67" r="0.95" fill="#189696"/><circle cx="481.34" cy="219.44" r="0.95" fill="#189696"/><circle cx="468.96" cy="229.59" r="0.95" fill="#189696"/><circle cx="466.23" cy="221.17" r="0.95" fill="#189696"/><circle cx="462.86" cy="227.21" r="0.95" fill="#189696"/><circle cx="486.72" cy="221.62" r="0.95" fill="#189696"/><circle cx="489.92" cy="228.53" r="0.95" fill="#189696"/><circle cx="468.29" cy="208.26" r="0.95" fill="#189696"/><circle cx="490.48" cy="230.42" r="0.95" fill="#189696"/><circle cx="493.90" cy="225.43" r="0.95" fill="#189696"/><circle cx="479.98" cy="210.73" r="0.95" fill="#189696"/><circle cx="475.54" cy="225.02" r="0.95" fill="#189696"/><circle cx="478.39" cy="217.70" r="0.95" fill="#189696"/><circle cx="464.21" cy="219.09" r="0.95" fill="#189696"/><circle cx="481.24" cy="220.99" r="0.95" fill="#189696"/><circle cx="485.87" cy="214.19" r="0.95" fill="#189696"/><circle cx="477.66" cy="228.42" r="0.95" fill="#189696"/><circle cx="494.47" cy="225.89" r="0.95" fill="#189696"/><circle cx="466.82" cy="226.33" r="0.95" fill="#189696"/><circle cx="469.21" cy="230.17" r="0.95" fill="#189696"/><circle cx="461.57" cy="226.99" r="0.95" fill="#189696"/><circle cx="478.07" cy="206.02" r="0.95" fill="#189696"/><circle cx="462.13" cy="220.23" r="0.95" fill="#189696"/><circle cx="464.48" cy="227.77" r="0.95" fill="#189696"/><circle cx="496.33" cy="221.84" r="0.95" fill="#189696"/><circle cx="494.06" cy="233.77" r="0.95" fill="#189696"/><circle cx="465.25" cy="208.61" r="0.95" fill="#189696"/><circle cx="476.72" cy="215.65" r="0.95" fill="#189696"/><circle cx="477.13" cy="214.83" r="0.95" fill="#189696"/><circle cx="455.00" cy="222.21" r="0.95" fill="#189696"/><circle cx="483.89" cy="224.91" r="0.95" fill="#189696"/><circle cx="482.01" cy="227.49" r="0.95" fill="#189696"/><circle cx="466.44" cy="231.89" r="0.95" fill="#189696"/><circle cx="461.72" cy="223.58" r="0.95" fill="#189696"/><circle cx="488.65" cy="219.61" r="0.95" fill="#189696"/><circle cx="474.90" cy="211.02" r="0.95" fill="#189696"/><circle cx="452.50" cy="231.02" r="0.95" fill="#189696"/><circle cx="473.07" cy="212.66" r="0.95" fill="#189696"/><circle cx="457.12" cy="219.17" r="0.95" fill="#189696"/><circle cx="486.88" cy="211.15" r="0.95" fill="#189696"/><circle cx="452.71" cy="210.74" r="0.95" fill="#189696"/><circle cx="471.10" cy="221.97" r="0.95" fill="#189696"/><circle cx="453.85" cy="225.97" r="0.95" fill="#189696"/><circle cx="489.68" cy="226.75" r="0.95" fill="#189696"/><circle cx="461.29" cy="222.34" r="0.95" fill="#189696"/><circle cx="479.60" cy="216.42" r="0.95" fill="#189696"/><circle cx="470.09" cy="210.27" r="0.95" fill="#189696"/><circle cx="464.68" cy="221.39" r="0.95" fill="#189696"/><circle cx="491.84" cy="217.98" r="0.95" fill="#189696"/><circle cx="458.70" cy="222.51" r="0.95" fill="#189696"/><circle cx="476.78" cy="226.02" r="0.95" fill="#189696"/><circle cx="475.87" cy="224.52" r="0.95" fill="#189696"/><circle cx="493.16" cy="219.79" r="0.95" fill="#189696"/><circle cx="466.15" cy="227.39" r="0.95" fill="#189696"/><circle cx="477.54" cy="225.09" r="0.95" fill="#189696"/><circle cx="467.61" cy="215.63" r="0.95" fill="#189696"/><circle cx="495.41" cy="223.64" r="0.95" fill="#189696"/><circle cx="463.49" cy="228.38" r="0.95" fill="#189696"/><circle cx="495.19" cy="220.53" r="0.95" fill="#189696"/><circle cx="466.01" cy="227.38" r="0.95" fill="#189696"/><circle cx="477.19" cy="223.62" r="0.95" fill="#189696"/><circle cx="462.63" cy="227.20" r="0.95" fill="#189696"/><circle cx="476.53" cy="222.10" r="0.95" fill="#189696"/><circle cx="468.77" cy="216.94" r="0.95" fill="#189696"/><circle cx="473.65" cy="233.66" r="0.95" fill="#189696"/><circle cx="470.68" cy="208.77" r="0.95" fill="#189696"/><circle cx="459.83" cy="213.38" r="0.95" fill="#189696"/><circle cx="454.27" cy="226.25" r="0.95" fill="#189696"/><circle cx="468.16" cy="220.64" r="0.95" fill="#189696"/><circle cx="459.92" cy="229.25" r="0.95" fill="#189696"/><circle cx="495.42" cy="204.56" r="0.95" fill="#189696"/><circle cx="463.72" cy="215.90" r="0.95" fill="#189696"/><circle cx="491.61" cy="224.69" r="0.95" fill="#189696"/><circle cx="458.09" cy="230.02" r="0.95" fill="#189696"/><circle cx="496.33" cy="215.45" r="0.95" fill="#189696"/><circle cx="495.57" cy="220.89" r="0.95" fill="#189696"/><circle cx="459.05" cy="221.96" r="0.95" fill="#189696"/><circle cx="468.18" cy="221.44" r="0.95" fill="#189696"/><circle cx="481.17" cy="229.06" r="0.95" fill="#189696"/><circle cx="494.34" cy="218.91" r="0.95" fill="#189696"/><circle cx="471.64" cy="220.85" r="0.95" fill="#189696"/><circle cx="468.45" cy="215.34" r="0.95" fill="#189696"/><circle cx="484.51" cy="221.88" r="0.95" fill="#189696"/><circle cx="472.13" cy="226.78" r="0.95" fill="#189696"/><circle cx="482.75" cy="231.83" r="0.95" fill="#189696"/><circle cx="494.22" cy="225.25" r="0.95" fill="#189696"/><circle cx="488.79" cy="215.80" r="0.95" fill="#189696"/><circle cx="484.36" cy="218.60" r="0.95" fill="#189696"/><circle cx="469.29" cy="213.14" r="0.95" fill="#189696"/><circle cx="465.19" cy="216.97" r="0.95" fill="#189696"/><circle cx="475.70" cy="227.77" r="0.95" fill="#189696"/><circle cx="460.42" cy="222.83" r="0.95" fill="#189696"/><circle cx="467.27" cy="233.63" r="0.95" fill="#189696"/><circle cx="458.57" cy="215.12" r="0.95" fill="#189696"/><circle cx="487.11" cy="228.95" r="0.95" fill="#189696"/><circle cx="472.04" cy="225.54" r="0.95" fill="#189696"/><circle cx="467.43" cy="222.48" r="0.95" fill="#189696"/><circle cx="462.81" cy="216.34" r="0.95" fill="#189696"/><circle cx="492.87" cy="222.21" r="0.95" fill="#189696"/><circle cx="459.00" cy="221.60" r="0.95" fill="#189696"/><circle cx="467.42" cy="228.82" r="0.95" fill="#189696"/><circle cx="477.07" cy="226.16" r="0.95" fill="#189696"/><circle cx="474.34" cy="223.55" r="0.95" fill="#189696"/><circle cx="495.90" cy="221.90" r="0.95" fill="#189696"/><circle cx="487.60" cy="223.03" r="0.95" fill="#189696"/><circle cx="486.79" cy="224.47" r="0.95" fill="#189696"/><circle cx="467.79" cy="210.24" r="0.95" fill="#189696"/><circle cx="462.89" cy="220.56" r="0.95" fill="#189696"/><circle cx="478.53" cy="218.92" r="0.95" fill="#189696"/><circle cx="486.70" cy="225.82" r="0.95" fill="#189696"/><circle cx="461.17" cy="224.69" r="0.95" fill="#189696"/><circle cx="484.82" cy="211.88" r="0.95" fill="#189696"/><circle cx="471.86" cy="221.56" r="0.95" fill="#189696"/><circle cx="497.73" cy="224.74" r="0.95" fill="#189696"/><circle cx="487.94" cy="212.75" r="0.95" fill="#189696"/><circle cx="481.43" cy="226.56" r="0.95" fill="#189696"/><circle cx="483.44" cy="225.65" r="0.95" fill="#189696"/><circle cx="464.85" cy="229.19" r="0.95" fill="#189696"/><circle cx="484.16" cy="223.00" r="0.95" fill="#189696"/><circle cx="494.20" cy="222.92" r="0.95" fill="#189696"/><circle cx="488.57" cy="227.62" r="0.95" fill="#189696"/><circle cx="491.37" cy="222.21" r="0.95" fill="#189696"/><circle cx="468.50" cy="221.90" r="0.95" fill="#189696"/><circle cx="455.05" cy="217.41" r="0.95" fill="#189696"/><circle cx="464.39" cy="212.73" r="0.95" fill="#189696"/><circle cx="496.75" cy="227.96" r="0.95" fill="#189696"/><circle cx="477.31" cy="220.95" r="0.95" fill="#189696"/><circle cx="476.20" cy="228.47" r="0.95" fill="#189696"/><circle cx="489.24" cy="219.59" r="0.95" fill="#189696"/><circle cx="478.92" cy="213.38" r="0.95" fill="#189696"/><circle cx="492.95" cy="232.56" r="0.95" fill="#189696"/><circle cx="495.36" cy="217.91" r="0.95" fill="#189696"/><circle cx="460.68" cy="217.30" r="0.95" fill="#189696"/><circle cx="463.64" cy="215.48" r="0.95" fill="#189696"/><circle cx="474.31" cy="209.69" r="0.95" fill="#189696"/><circle cx="454.88" cy="221.73" r="0.95" fill="#189696"/><circle cx="460.55" cy="219.45" r="0.95" fill="#189696"/><circle cx="492.92" cy="228.83" r="0.95" fill="#189696"/><circle cx="494.11" cy="220.31" r="0.95" fill="#189696"/><circle cx="473.44" cy="224.25" r="0.95" fill="#189696"/><circle cx="476.39" cy="222.18" r="0.95" fill="#189696"/><circle cx="495.15" cy="224.06" r="0.95" fill="#189696"/><circle cx="491.71" cy="218.85" r="0.95" fill="#189696"/><circle cx="481.91" cy="226.72" r="0.95" fill="#189696"/><circle cx="491.64" cy="221.56" r="0.95" fill="#189696"/><circle cx="497.49" cy="221.03" r="0.95" fill="#189696"/><circle cx="458.16" cy="211.97" r="0.95" fill="#189696"/><circle cx="463.96" cy="228.76" r="0.95" fill="#189696"/><circle cx="469.78" cy="225.23" r="0.95" fill="#189696"/><circle cx="466.96" cy="219.12" r="0.95" fill="#189696"/><circle cx="456.31" cy="229.30" r="0.95" fill="#189696"/><circle cx="495.78" cy="231.89" r="0.95" fill="#189696"/><circle cx="467.97" cy="216.04" r="0.95" fill="#189696"/><circle cx="465.83" cy="229.00" r="0.95" fill="#189696"/><circle cx="481.36" cy="208.32" r="0.95" fill="#189696"/><circle cx="461.98" cy="212.08" r="0.95" fill="#189696"/><circle cx="497.21" cy="213.68" r="0.95" fill="#189696"/><circle cx="470.30" cy="214.44" r="0.95" fill="#189696"/><circle cx="497.59" cy="227.05" r="0.95" fill="#189696"/><circle cx="477.66" cy="217.18" r="0.95" fill="#189696"/><circle cx="494.36" cy="219.72" r="0.95" fill="#189696"/><circle cx="459.16" cy="230.90" r="0.95" fill="#189696"/><circle cx="494.39" cy="215.75" r="0.95" fill="#189696"/><circle cx="494.02" cy="226.22" r="0.95" fill="#189696"/><circle cx="482.10" cy="221.58" r="0.95" fill="#189696"/><circle cx="478.45" cy="230.13" r="0.95" fill="#189696"/><circle cx="493.85" cy="227.41" r="0.95" fill="#189696"/><circle cx="464.87" cy="223.55" r="0.95" fill="#189696"/><circle cx="470.58" cy="231.05" r="0.95" fill="#189696"/><circle cx="462.99" cy="217.17" r="0.95" fill="#189696"/><circle cx="480.51" cy="224.82" r="0.95" fill="#189696"/><circle cx="490.12" cy="233.20" r="0.95" fill="#189696"/><circle cx="467.35" cy="212.74" r="0.95" fill="#189696"/><circle cx="459.83" cy="225.63" r="0.95" fill="#189696"/><circle cx="474.11" cy="216.93" r="0.95" fill="#189696"/><circle cx="468.40" cy="222.51" r="0.95" fill="#189696"/><circle cx="493.19" cy="223.88" r="0.95" fill="#189696"/><circle cx="492.43" cy="226.04" r="0.95" fill="#189696"/><circle cx="473.39" cy="224.34" r="0.95" fill="#189696"/><circle cx="482.96" cy="217.87" r="0.95" fill="#189696"/><circle cx="487.44" cy="224.32" r="0.95" fill="#189696"/><circle cx="495.99" cy="226.76" r="0.95" fill="#189696"/><circle cx="475.06" cy="225.77" r="0.95" fill="#189696"/><circle cx="472.31" cy="227.20" r="0.95" fill="#189696"/><circle cx="489.80" cy="222.26" r="0.95" fill="#189696"/><circle cx="457.00" cy="236.50" r="0.95" fill="#189696"/><circle cx="471.00" cy="237.50" r="0.95" fill="#189696"/><circle cx="492.00" cy="240.50" r="0.95" fill="#189696"/><circle cx="482.00" cy="236.00" r="0.95" fill="#189696"/><line x1="452.50" y1="221.50" x2="498.00" y2="221.50" stroke="#0a0a0a" stroke-width="1.5"/><rect x="311.85" y="190.5" width="192.64999999999998" height="61.25" fill="none" stroke="#111" stroke-width="1.3"/><line x1="308.85" y1="190.75" x2="311.85" y2="190.75" stroke="#111" stroke-width="1.1"/><text x="305.65" y="193.45" font-size="6.3" text-anchor="end" fill="#222" stroke="#222" stroke-width="0.12" >10</text><line x1="308.85" y1="206.00" x2="311.85" y2="206.00" stroke="#111" stroke-width="1.1"/><text x="305.65" y="208.70" font-size="6.3" text-anchor="end" fill="#222" stroke="#222" stroke-width="0.12" >8</text><line x1="308.85" y1="221.25" x2="311.85" y2="221.25" stroke="#111" stroke-width="1.1"/><text x="305.65" y="223.95" font-size="6.3" text-anchor="end" fill="#222" stroke="#222" stroke-width="0.12" >6</text><line x1="308.85" y1="236.50" x2="311.85" y2="236.50" stroke="#111" stroke-width="1.1"/><text x="305.65" y="239.20" font-size="6.3" text-anchor="end" fill="#222" stroke="#222" stroke-width="0.12" >4</text><line x1="308.85" y1="251.75" x2="311.85" y2="251.75" stroke="#111" stroke-width="1.1"/><text x="305.65" y="254.45" font-size="6.3" text-anchor="end" fill="#222" stroke="#222" stroke-width="0.12" >2</text><line x1="341.20" y1="251.75" x2="341.20" y2="254.55" stroke="#111" stroke-width="1.1"/><line x1="475.25" y1="251.75" x2="475.25" y2="254.55" stroke="#111" stroke-width="1.1"/><text x="293.60" y="221.00" font-size="8.8" text-anchor="middle" fill="#1a1a1a" stroke="#1a1a1a" stroke-width="0.18" textLength="27" lengthAdjust="spacingAndGlyphs" transform="rotate(-90 293.60 221.00)" >BCL2L1</text><text x="408.05" y="185.60" font-size="9.0" text-anchor="middle" fill="#111" stroke="#111" stroke-width="0.16" textLength="94.69999999999999" lengthAdjust="spacingAndGlyphs" >log normalized expression</text><text x="392.00" y="198.50" font-size="4.6" text-anchor="start" fill="#222" stroke="#222" stroke-width="0.08" textLength="33" lengthAdjust="spacingAndGlyphs" >p−val: &lt;10e−8</text><text x="341.20" y="262.80" font-size="6.0" text-anchor="middle" fill="#1a1a1a" stroke="#1a1a1a" stroke-width="0.15" textLength="17.0" lengthAdjust="spacingAndGlyphs" >t11.14</text><text x="475.25" y="262.80" font-size="6.0" text-anchor="middle" fill="#1a1a1a" stroke="#1a1a1a" stroke-width="0.15" textLength="29.2" lengthAdjust="spacingAndGlyphs" >non t11.14</text><circle cx="333.85" cy="334.10" r="0.95" fill="#de6e5a"/><circle cx="327.79" cy="338.42" r="0.95" fill="#de6e5a"/><circle cx="340.30" cy="319.92" r="0.95" fill="#de6e5a"/><circle cx="339.35" cy="330.86" r="0.95" fill="#de6e5a"/><circle cx="349.72" cy="329.77" r="0.95" fill="#de6e5a"/><circle cx="333.41" cy="334.97" r="0.95" fill="#de6e5a"/><circle cx="357.45" cy="323.20" r="0.95" fill="#de6e5a"/><circle cx="360.91" cy="316.30" r="0.95" fill="#de6e5a"/><circle cx="351.63" cy="330.83" r="0.95" fill="#de6e5a"/><circle cx="344.55" cy="334.80" r="0.95" fill="#de6e5a"/><circle cx="357.77" cy="333.09" r="0.95" fill="#de6e5a"/><circle cx="356.11" cy="339.02" r="0.95" fill="#de6e5a"/><circle cx="319.30" cy="331.47" r="0.95" fill="#de6e5a"/><circle cx="362.32" cy="335.34" r="0.95" fill="#de6e5a"/><circle cx="342.88" cy="332.19" r="0.95" fill="#de6e5a"/><circle cx="345.35" cy="339.90" r="0.95" fill="#de6e5a"/><circle cx="345.64" cy="313.82" r="0.95" fill="#de6e5a"/><circle cx="332.46" cy="327.59" r="0.95" fill="#de6e5a"/><circle cx="359.98" cy="335.53" r="0.95" fill="#de6e5a"/><circle cx="325.45" cy="334.91" r="0.95" fill="#de6e5a"/><circle cx="326.12" cy="325.27" r="0.95" fill="#de6e5a"/><circle cx="328.18" cy="318.77" r="0.95" fill="#de6e5a"/><circle cx="337.07" cy="326.64" r="0.95" fill="#de6e5a"/><circle cx="340.33" cy="321.52" r="0.95" fill="#de6e5a"/><circle cx="345.12" cy="337.94" r="0.95" fill="#de6e5a"/><circle cx="342.72" cy="335.97" r="0.95" fill="#de6e5a"/><circle cx="355.58" cy="321.62" r="0.95" fill="#de6e5a"/><circle cx="343.19" cy="339.67" r="0.95" fill="#de6e5a"/><circle cx="325.76" cy="333.28" r="0.95" fill="#de6e5a"/><circle cx="322.50" cy="332.20" r="0.95" fill="#de6e5a"/><circle cx="328.05" cy="323.68" r="0.95" fill="#de6e5a"/><circle cx="359.42" cy="321.35" r="0.95" fill="#de6e5a"/><circle cx="355.32" cy="319.46" r="0.95" fill="#de6e5a"/><circle cx="349.26" cy="318.79" r="0.95" fill="#de6e5a"/><circle cx="324.90" cy="326.04" r="0.95" fill="#de6e5a"/><circle cx="340.24" cy="323.44" r="0.95" fill="#de6e5a"/><circle cx="355.28" cy="313.05" r="0.95" fill="#de6e5a"/><circle cx="331.03" cy="333.00" r="0.95" fill="#de6e5a"/><circle cx="336.62" cy="336.06" r="0.95" fill="#de6e5a"/><circle cx="334.03" cy="328.91" r="0.95" fill="#de6e5a"/><circle cx="356.57" cy="325.62" r="0.95" fill="#de6e5a"/><circle cx="363.15" cy="328.92" r="0.95" fill="#de6e5a"/><circle cx="343.03" cy="333.35" r="0.95" fill="#de6e5a"/><circle cx="325.48" cy="338.16" r="0.95" fill="#de6e5a"/><circle cx="326.23" cy="331.29" r="0.95" fill="#de6e5a"/><circle cx="337.93" cy="329.48" r="0.95" fill="#de6e5a"/><circle cx="341.84" cy="317.35" r="0.95" fill="#de6e5a"/><circle cx="323.49" cy="321.09" r="0.95" fill="#de6e5a"/><circle cx="353.13" cy="326.81" r="0.95" fill="#de6e5a"/><circle cx="336.93" cy="331.20" r="0.95" fill="#de6e5a"/><circle cx="346.10" cy="321.05" r="0.95" fill="#de6e5a"/><circle cx="357.90" cy="321.22" r="0.95" fill="#de6e5a"/><circle cx="359.18" cy="331.49" r="0.95" fill="#de6e5a"/><circle cx="353.83" cy="332.55" r="0.95" fill="#de6e5a"/><circle cx="361.52" cy="333.40" r="0.95" fill="#de6e5a"/><circle cx="321.60" cy="329.47" r="0.95" fill="#de6e5a"/><circle cx="355.73" cy="322.90" r="0.95" fill="#de6e5a"/><circle cx="351.68" cy="339.56" r="0.95" fill="#de6e5a"/><circle cx="362.19" cy="323.95" r="0.95" fill="#de6e5a"/><circle cx="330.64" cy="327.32" r="0.95" fill="#de6e5a"/><circle cx="350.02" cy="340.58" r="0.95" fill="#de6e5a"/><circle cx="354.36" cy="335.70" r="0.95" fill="#de6e5a"/><circle cx="345.07" cy="333.86" r="0.95" fill="#de6e5a"/><circle cx="321.87" cy="334.10" r="0.95" fill="#de6e5a"/><circle cx="360.60" cy="324.61" r="0.95" fill="#de6e5a"/><circle cx="350.94" cy="337.58" r="0.95" fill="#de6e5a"/><circle cx="341.77" cy="323.06" r="0.95" fill="#de6e5a"/><circle cx="351.92" cy="334.12" r="0.95" fill="#de6e5a"/><circle cx="360.09" cy="331.29" r="0.95" fill="#de6e5a"/><circle cx="354.64" cy="330.36" r="0.95" fill="#de6e5a"/><circle cx="331.14" cy="334.83" r="0.95" fill="#de6e5a"/><circle cx="328.57" cy="331.71" r="0.95" fill="#de6e5a"/><circle cx="349.01" cy="332.10" r="0.95" fill="#de6e5a"/><circle cx="338.44" cy="333.17" r="0.95" fill="#de6e5a"/><circle cx="356.08" cy="339.44" r="0.95" fill="#de6e5a"/><circle cx="330.55" cy="337.60" r="0.95" fill="#de6e5a"/><circle cx="342.54" cy="335.38" r="0.95" fill="#de6e5a"/><circle cx="322.90" cy="316.75" r="0.95" fill="#de6e5a"/><circle cx="358.38" cy="325.73" r="0.95" fill="#de6e5a"/><circle cx="362.33" cy="333.80" r="0.95" fill="#de6e5a"/><circle cx="323.15" cy="328.74" r="0.95" fill="#de6e5a"/><circle cx="347.37" cy="323.06" r="0.95" fill="#de6e5a"/><circle cx="342.52" cy="336.04" r="0.95" fill="#de6e5a"/><circle cx="357.14" cy="339.04" r="0.95" fill="#de6e5a"/><circle cx="349.05" cy="321.84" r="0.95" fill="#de6e5a"/><circle cx="347.73" cy="328.63" r="0.95" fill="#de6e5a"/><circle cx="360.54" cy="330.74" r="0.95" fill="#de6e5a"/><circle cx="319.78" cy="337.75" r="0.95" fill="#de6e5a"/><circle cx="350.68" cy="318.42" r="0.95" fill="#de6e5a"/><circle cx="344.63" cy="336.43" r="0.95" fill="#de6e5a"/><circle cx="325.22" cy="329.11" r="0.95" fill="#de6e5a"/><circle cx="347.64" cy="334.83" r="0.95" fill="#de6e5a"/><circle cx="350.83" cy="333.54" r="0.95" fill="#de6e5a"/><circle cx="338.82" cy="330.76" r="0.95" fill="#de6e5a"/><circle cx="360.06" cy="336.67" r="0.95" fill="#de6e5a"/><circle cx="341.72" cy="331.08" r="0.95" fill="#de6e5a"/><circle cx="341.17" cy="329.83" r="0.95" fill="#de6e5a"/><circle cx="329.76" cy="333.63" r="0.95" fill="#de6e5a"/><circle cx="345.92" cy="329.90" r="0.95" fill="#de6e5a"/><circle cx="354.23" cy="332.50" r="0.95" fill="#de6e5a"/><circle cx="350.60" cy="304.50" r="0.95" fill="#de6e5a"/><circle cx="346.50" cy="307.00" r="0.95" fill="#de6e5a"/><circle cx="337.00" cy="312.20" r="0.95" fill="#de6e5a"/><circle cx="342.80" cy="317.00" r="0.95" fill="#de6e5a"/><circle cx="326.50" cy="316.70" r="0.95" fill="#de6e5a"/><circle cx="353.00" cy="317.30" r="0.95" fill="#de6e5a"/><circle cx="360.00" cy="321.50" r="0.95" fill="#de6e5a"/><circle cx="318.00" cy="321.00" r="0.95" fill="#de6e5a"/><line x1="319.00" y1="330.40" x2="363.40" y2="330.40" stroke="#0a0a0a" stroke-width="1.5"/><circle cx="476.18" cy="309.78" r="0.95" fill="#189696"/><circle cx="475.77" cy="301.00" r="0.95" fill="#189696"/><circle cx="465.67" cy="339.33" r="0.95" fill="#189696"/><circle cx="464.35" cy="322.94" r="0.95" fill="#189696"/><circle cx="467.40" cy="324.54" r="0.95" fill="#189696"/><circle cx="467.31" cy="317.71" r="0.95" fill="#189696"/><circle cx="466.65" cy="323.04" r="0.95" fill="#189696"/><circle cx="455.72" cy="311.61" r="0.95" fill="#189696"/><circle cx="461.72" cy="315.19" r="0.95" fill="#189696"/><circle cx="485.87" cy="307.77" r="0.95" fill="#189696"/><circle cx="489.04" cy="315.42" r="0.95" fill="#189696"/><circle cx="485.62" cy="313.98" r="0.95" fill="#189696"/><circle cx="486.88" cy="320.64" r="0.95" fill="#189696"/><circle cx="466.11" cy="305.50" r="0.95" fill="#189696"/><circle cx="494.13" cy="327.20" r="0.95" fill="#189696"/><circle cx="495.90" cy="327.21" r="0.95" fill="#189696"/><circle cx="463.09" cy="301.45" r="0.95" fill="#189696"/><circle cx="488.97" cy="301.18" r="0.95" fill="#189696"/><circle cx="470.26" cy="313.30" r="0.95" fill="#189696"/><circle cx="457.26" cy="327.34" r="0.95" fill="#189696"/><circle cx="484.59" cy="329.03" r="0.95" fill="#189696"/><circle cx="474.33" cy="329.30" r="0.95" fill="#189696"/><circle cx="457.95" cy="318.78" r="0.95" fill="#189696"/><circle cx="469.29" cy="305.45" r="0.95" fill="#189696"/><circle cx="493.28" cy="319.76" r="0.95" fill="#189696"/><circle cx="463.64" cy="332.32" r="0.95" fill="#189696"/><circle cx="453.68" cy="301.05" r="0.95" fill="#189696"/><circle cx="484.59" cy="314.44" r="0.95" fill="#189696"/><circle cx="464.46" cy="321.74" r="0.95" fill="#189696"/><circle cx="470.86" cy="323.95" r="0.95" fill="#189696"/><circle cx="485.96" cy="324.20" r="0.95" fill="#189696"/><circle cx="483.32" cy="309.27" r="0.95" fill="#189696"/><circle cx="454.56" cy="320.35" r="0.95" fill="#189696"/><circle cx="486.72" cy="322.17" r="0.95" fill="#189696"/><circle cx="457.11" cy="333.05" r="0.95" fill="#189696"/><circle cx="482.37" cy="329.15" r="0.95" fill="#189696"/><circle cx="453.23" cy="323.12" r="0.95" fill="#189696"/><circle cx="456.37" cy="310.17" r="0.95" fill="#189696"/><circle cx="460.29" cy="321.40" r="0.95" fill="#189696"/><circle cx="457.61" cy="315.54" r="0.95" fill="#189696"/><circle cx="480.73" cy="329.24" r="0.95" fill="#189696"/><circle cx="455.59" cy="329.28" r="0.95" fill="#189696"/><circle cx="482.01" cy="306.78" r="0.95" fill="#189696"/><circle cx="470.00" cy="317.33" r="0.95" fill="#189696"/><circle cx="482.19" cy="317.21" r="0.95" fill="#189696"/><circle cx="478.41" cy="340.18" r="0.95" fill="#189696"/><circle cx="479.29" cy="310.50" r="0.95" fill="#189696"/><circle cx="475.67" cy="324.94" r="0.95" fill="#189696"/><circle cx="455.30" cy="316.35" r="0.95" fill="#189696"/><circle cx="462.08" cy="320.54" r="0.95" fill="#189696"/><circle cx="461.47" cy="302.47" r="0.95" fill="#189696"/><circle cx="458.68" cy="300.14" r="0.95" fill="#189696"/><circle cx="467.21" cy="315.57" r="0.95" fill="#189696"/><circle cx="492.74" cy="309.77" r="0.95" fill="#189696"/><circle cx="485.49" cy="317.61" r="0.95" fill="#189696"/><circle cx="483.50" cy="332.06" r="0.95" fill="#189696"/><circle cx="465.49" cy="313.95" r="0.95" fill="#189696"/><circle cx="474.27" cy="306.66" r="0.95" fill="#189696"/><circle cx="455.34" cy="317.96" r="0.95" fill="#189696"/><circle cx="473.35" cy="321.69" r="0.95" fill="#189696"/><circle cx="494.82" cy="313.14" r="0.95" fill="#189696"/><circle cx="464.35" cy="296.22" r="0.95" fill="#189696"/><circle cx="473.74" cy="316.50" r="0.95" fill="#189696"/><circle cx="469.31" cy="311.23" r="0.95" fill="#189696"/><circle cx="472.76" cy="324.39" r="0.95" fill="#189696"/><circle cx="456.80" cy="332.80" r="0.95" fill="#189696"/><circle cx="482.88" cy="293.77" r="0.95" fill="#189696"/><circle cx="454.35" cy="307.13" r="0.95" fill="#189696"/><circle cx="468.96" cy="316.25" r="0.95" fill="#189696"/><circle cx="479.50" cy="314.00" r="0.95" fill="#189696"/><circle cx="469.20" cy="327.03" r="0.95" fill="#189696"/><circle cx="496.97" cy="315.80" r="0.95" fill="#189696"/><circle cx="470.33" cy="325.98" r="0.95" fill="#189696"/><circle cx="482.71" cy="324.23" r="0.95" fill="#189696"/><circle cx="477.73" cy="317.18" r="0.95" fill="#189696"/><circle cx="492.26" cy="315.00" r="0.95" fill="#189696"/><circle cx="479.23" cy="305.50" r="0.95" fill="#189696"/><circle cx="480.40" cy="332.80" r="0.95" fill="#189696"/><circle cx="463.66" cy="322.68" r="0.95" fill="#189696"/><circle cx="465.11" cy="315.76" r="0.95" fill="#189696"/><circle cx="459.25" cy="297.55" r="0.95" fill="#189696"/><circle cx="472.71" cy="314.73" r="0.95" fill="#189696"/><circle cx="455.78" cy="331.24" r="0.95" fill="#189696"/><circle cx="478.83" cy="305.14" r="0.95" fill="#189696"/><circle cx="468.60" cy="322.22" r="0.95" fill="#189696"/><circle cx="464.26" cy="321.60" r="0.95" fill="#189696"/><circle cx="468.26" cy="302.17" r="0.95" fill="#189696"/><circle cx="472.86" cy="324.60" r="0.95" fill="#189696"/><circle cx="466.33" cy="314.78" r="0.95" fill="#189696"/><circle cx="458.12" cy="301.33" r="0.95" fill="#189696"/><circle cx="461.16" cy="308.51" r="0.95" fill="#189696"/><circle cx="476.19" cy="323.08" r="0.95" fill="#189696"/><circle cx="474.74" cy="320.32" r="0.95" fill="#189696"/><circle cx="476.41" cy="328.65" r="0.95" fill="#189696"/><circle cx="453.70" cy="314.24" r="0.95" fill="#189696"/><circle cx="463.59" cy="319.62" r="0.95" fill="#189696"/><circle cx="488.36" cy="326.80" r="0.95" fill="#189696"/><circle cx="476.80" cy="313.14" r="0.95" fill="#189696"/><circle cx="459.61" cy="321.00" r="0.95" fill="#189696"/><circle cx="456.41" cy="323.65" r="0.95" fill="#189696"/><circle cx="486.93" cy="330.90" r="0.95" fill="#189696"/><circle cx="483.17" cy="314.58" r="0.95" fill="#189696"/><circle cx="496.25" cy="319.67" r="0.95" fill="#189696"/><circle cx="495.23" cy="316.78" r="0.95" fill="#189696"/><circle cx="464.85" cy="297.25" r="0.95" fill="#189696"/><circle cx="470.56" cy="300.28" r="0.95" fill="#189696"/><circle cx="496.49" cy="319.71" r="0.95" fill="#189696"/><circle cx="456.83" cy="316.26" r="0.95" fill="#189696"/><circle cx="471.93" cy="319.27" r="0.95" fill="#189696"/><circle cx="497.75" cy="331.92" r="0.95" fill="#189696"/><circle cx="494.95" cy="319.93" r="0.95" fill="#189696"/><circle cx="460.70" cy="325.84" r="0.95" fill="#189696"/><circle cx="455.71" cy="317.61" r="0.95" fill="#189696"/><circle cx="455.80" cy="320.38" r="0.95" fill="#189696"/><circle cx="482.86" cy="317.24" r="0.95" fill="#189696"/><circle cx="455.37" cy="330.00" r="0.95" fill="#189696"/><circle cx="454.10" cy="313.92" r="0.95" fill="#189696"/><circle cx="466.62" cy="324.76" r="0.95" fill="#189696"/><circle cx="497.28" cy="303.08" r="0.95" fill="#189696"/><circle cx="496.47" cy="317.08" r="0.95" fill="#189696"/><circle cx="455.03" cy="323.86" r="0.95" fill="#189696"/><circle cx="481.61" cy="313.79" r="0.95" fill="#189696"/><circle cx="474.74" cy="323.08" r="0.95" fill="#189696"/><circle cx="457.36" cy="318.10" r="0.95" fill="#189696"/><circle cx="497.24" cy="332.36" r="0.95" fill="#189696"/><circle cx="479.62" cy="319.73" r="0.95" fill="#189696"/><circle cx="464.85" cy="310.94" r="0.95" fill="#189696"/><circle cx="462.06" cy="309.77" r="0.95" fill="#189696"/><circle cx="474.83" cy="313.96" r="0.95" fill="#189696"/><circle cx="488.35" cy="331.98" r="0.95" fill="#189696"/><circle cx="460.55" cy="320.21" r="0.95" fill="#189696"/><circle cx="460.09" cy="331.68" r="0.95" fill="#189696"/><circle cx="455.65" cy="305.33" r="0.95" fill="#189696"/><circle cx="495.10" cy="328.92" r="0.95" fill="#189696"/><circle cx="474.69" cy="318.25" r="0.95" fill="#189696"/><circle cx="493.68" cy="324.29" r="0.95" fill="#189696"/><circle cx="497.40" cy="306.53" r="0.95" fill="#189696"/><circle cx="476.49" cy="324.57" r="0.95" fill="#189696"/><circle cx="476.23" cy="314.22" r="0.95" fill="#189696"/><circle cx="481.22" cy="323.61" r="0.95" fill="#189696"/><circle cx="453.06" cy="312.26" r="0.95" fill="#189696"/><circle cx="496.43" cy="314.35" r="0.95" fill="#189696"/><circle cx="490.79" cy="310.35" r="0.95" fill="#189696"/><circle cx="471.87" cy="298.61" r="0.95" fill="#189696"/><circle cx="493.29" cy="328.27" r="0.95" fill="#189696"/><circle cx="475.27" cy="331.21" r="0.95" fill="#189696"/><circle cx="453.60" cy="323.97" r="0.95" fill="#189696"/><circle cx="472.82" cy="303.82" r="0.95" fill="#189696"/><circle cx="464.11" cy="311.62" r="0.95" fill="#189696"/><circle cx="465.18" cy="329.58" r="0.95" fill="#189696"/><circle cx="487.90" cy="307.55" r="0.95" fill="#189696"/><circle cx="478.59" cy="326.65" r="0.95" fill="#189696"/><circle cx="456.78" cy="312.43" r="0.95" fill="#189696"/><circle cx="495.95" cy="331.42" r="0.95" fill="#189696"/><circle cx="494.88" cy="332.71" r="0.95" fill="#189696"/><circle cx="470.35" cy="327.53" r="0.95" fill="#189696"/><circle cx="462.29" cy="330.82" r="0.95" fill="#189696"/><circle cx="456.20" cy="321.82" r="0.95" fill="#189696"/><circle cx="468.40" cy="315.25" r="0.95" fill="#189696"/><circle cx="481.22" cy="324.41" r="0.95" fill="#189696"/><circle cx="475.95" cy="326.29" r="0.95" fill="#189696"/><circle cx="459.09" cy="328.40" r="0.95" fill="#189696"/><circle cx="477.46" cy="312.29" r="0.95" fill="#189696"/><circle cx="459.73" cy="332.83" r="0.95" fill="#189696"/><circle cx="474.67" cy="320.44" r="0.95" fill="#189696"/><circle cx="458.31" cy="294.83" r="0.95" fill="#189696"/><circle cx="465.35" cy="327.02" r="0.95" fill="#189696"/><circle cx="470.08" cy="311.98" r="0.95" fill="#189696"/><circle cx="497.16" cy="328.96" r="0.95" fill="#189696"/><circle cx="482.97" cy="339.77" r="0.95" fill="#189696"/><circle cx="488.71" cy="306.51" r="0.95" fill="#189696"/><circle cx="460.07" cy="311.28" r="0.95" fill="#189696"/><circle cx="461.12" cy="315.98" r="0.95" fill="#189696"/><circle cx="454.06" cy="319.91" r="0.95" fill="#189696"/><circle cx="465.79" cy="302.03" r="0.95" fill="#189696"/><circle cx="468.04" cy="329.19" r="0.95" fill="#189696"/><circle cx="474.46" cy="323.78" r="0.95" fill="#189696"/><circle cx="473.15" cy="310.65" r="0.95" fill="#189696"/><circle cx="488.30" cy="325.71" r="0.95" fill="#189696"/><circle cx="479.13" cy="333.60" r="0.95" fill="#189696"/><circle cx="488.52" cy="325.34" r="0.95" fill="#189696"/><circle cx="493.78" cy="322.88" r="0.95" fill="#189696"/><circle cx="496.13" cy="325.15" r="0.95" fill="#189696"/><circle cx="467.82" cy="316.75" r="0.95" fill="#189696"/><circle cx="467.43" cy="327.91" r="0.95" fill="#189696"/><circle cx="471.86" cy="329.48" r="0.95" fill="#189696"/><circle cx="493.61" cy="314.14" r="0.95" fill="#189696"/><circle cx="482.06" cy="301.17" r="0.95" fill="#189696"/><circle cx="472.62" cy="298.85" r="0.95" fill="#189696"/><circle cx="476.23" cy="328.62" r="0.95" fill="#189696"/><circle cx="480.60" cy="323.86" r="0.95" fill="#189696"/><circle cx="477.51" cy="323.77" r="0.95" fill="#189696"/><circle cx="490.01" cy="309.70" r="0.95" fill="#189696"/><circle cx="464.49" cy="336.01" r="0.95" fill="#189696"/><circle cx="489.99" cy="311.92" r="0.95" fill="#189696"/><circle cx="477.68" cy="313.87" r="0.95" fill="#189696"/><circle cx="488.61" cy="309.81" r="0.95" fill="#189696"/><circle cx="474.72" cy="320.95" r="0.95" fill="#189696"/><circle cx="482.69" cy="310.61" r="0.95" fill="#189696"/><circle cx="488.44" cy="326.34" r="0.95" fill="#189696"/><circle cx="478.98" cy="333.27" r="0.95" fill="#189696"/><circle cx="465.20" cy="326.68" r="0.95" fill="#189696"/><circle cx="496.71" cy="315.65" r="0.95" fill="#189696"/><circle cx="472.22" cy="317.36" r="0.95" fill="#189696"/><circle cx="466.93" cy="317.47" r="0.95" fill="#189696"/><circle cx="458.72" cy="330.89" r="0.95" fill="#189696"/><circle cx="457.73" cy="308.85" r="0.95" fill="#189696"/><circle cx="472.62" cy="298.84" r="0.95" fill="#189696"/><circle cx="479.01" cy="327.45" r="0.95" fill="#189696"/><circle cx="484.74" cy="320.24" r="0.95" fill="#189696"/><circle cx="477.69" cy="315.86" r="0.95" fill="#189696"/><circle cx="469.09" cy="332.79" r="0.95" fill="#189696"/><circle cx="488.40" cy="298.53" r="0.95" fill="#189696"/><circle cx="471.54" cy="317.59" r="0.95" fill="#189696"/><circle cx="474.02" cy="321.18" r="0.95" fill="#189696"/><circle cx="462.82" cy="306.89" r="0.95" fill="#189696"/><circle cx="490.99" cy="314.53" r="0.95" fill="#189696"/><circle cx="469.33" cy="318.32" r="0.95" fill="#189696"/><circle cx="483.70" cy="304.54" r="0.95" fill="#189696"/><circle cx="473.20" cy="333.52" r="0.95" fill="#189696"/><circle cx="491.66" cy="327.07" r="0.95" fill="#189696"/><circle cx="464.46" cy="307.02" r="0.95" fill="#189696"/><circle cx="470.73" cy="323.59" r="0.95" fill="#189696"/><circle cx="479.39" cy="320.04" r="0.95" fill="#189696"/><circle cx="457.69" cy="318.50" r="0.95" fill="#189696"/><circle cx="489.99" cy="312.98" r="0.95" fill="#189696"/><circle cx="488.57" cy="319.02" r="0.95" fill="#189696"/><circle cx="459.03" cy="311.98" r="0.95" fill="#189696"/><circle cx="476.69" cy="332.00" r="0.95" fill="#189696"/><circle cx="466.08" cy="297.90" r="0.95" fill="#189696"/><circle cx="459.60" cy="319.68" r="0.95" fill="#189696"/><circle cx="473.97" cy="296.25" r="0.95" fill="#189696"/><circle cx="453.17" cy="307.25" r="0.95" fill="#189696"/><circle cx="489.06" cy="303.29" r="0.95" fill="#189696"/><circle cx="458.37" cy="303.79" r="0.95" fill="#189696"/><circle cx="471.33" cy="303.86" r="0.95" fill="#189696"/><circle cx="471.33" cy="301.75" r="0.95" fill="#189696"/><circle cx="495.26" cy="301.64" r="0.95" fill="#189696"/><circle cx="496.94" cy="294.27" r="0.95" fill="#189696"/><circle cx="456.12" cy="313.66" r="0.95" fill="#189696"/><circle cx="476.79" cy="320.71" r="0.95" fill="#189696"/><circle cx="484.95" cy="326.66" r="0.95" fill="#189696"/><circle cx="460.53" cy="309.87" r="0.95" fill="#189696"/><circle cx="472.22" cy="312.70" r="0.95" fill="#189696"/><circle cx="460.60" cy="324.85" r="0.95" fill="#189696"/><circle cx="477.04" cy="317.93" r="0.95" fill="#189696"/><circle cx="474.23" cy="326.02" r="0.95" fill="#189696"/><circle cx="456.01" cy="334.34" r="0.95" fill="#189696"/><circle cx="479.03" cy="301.48" r="0.95" fill="#189696"/><circle cx="462.80" cy="320.96" r="0.95" fill="#189696"/><circle cx="453.70" cy="322.75" r="0.95" fill="#189696"/><circle cx="463.59" cy="316.35" r="0.95" fill="#189696"/><circle cx="482.40" cy="327.36" r="0.95" fill="#189696"/><circle cx="469.27" cy="309.29" r="0.95" fill="#189696"/><circle cx="461.02" cy="310.84" r="0.95" fill="#189696"/><circle cx="479.54" cy="326.66" r="0.95" fill="#189696"/><circle cx="487.93" cy="307.95" r="0.95" fill="#189696"/><circle cx="461.10" cy="340.95" r="0.95" fill="#189696"/><circle cx="494.62" cy="322.99" r="0.95" fill="#189696"/><circle cx="472.81" cy="316.03" r="0.95" fill="#189696"/><circle cx="471.90" cy="324.34" r="0.95" fill="#189696"/><circle cx="468.80" cy="306.61" r="0.95" fill="#189696"/><circle cx="458.06" cy="305.87" r="0.95" fill="#189696"/><circle cx="474.32" cy="312.98" r="0.95" fill="#189696"/><circle cx="460.05" cy="297.39" r="0.95" fill="#189696"/><circle cx="461.29" cy="320.53" r="0.95" fill="#189696"/><circle cx="471.50" cy="326.86" r="0.95" fill="#189696"/><circle cx="468.81" cy="323.39" r="0.95" fill="#189696"/><circle cx="454.93" cy="337.71" r="0.95" fill="#189696"/><circle cx="483.55" cy="330.07" r="0.95" fill="#189696"/><circle cx="470.65" cy="320.51" r="0.95" fill="#189696"/><circle cx="475.50" cy="329.62" r="0.95" fill="#189696"/><circle cx="456.71" cy="323.89" r="0.95" fill="#189696"/><circle cx="484.52" cy="322.50" r="0.95" fill="#189696"/><circle cx="464.83" cy="333.08" r="0.95" fill="#189696"/><circle cx="457.38" cy="320.49" r="0.95" fill="#189696"/><circle cx="458.90" cy="326.77" r="0.95" fill="#189696"/><circle cx="464.05" cy="302.66" r="0.95" fill="#189696"/><circle cx="486.38" cy="318.23" r="0.95" fill="#189696"/><circle cx="478.07" cy="308.85" r="0.95" fill="#189696"/><circle cx="476.59" cy="309.60" r="0.95" fill="#189696"/><circle cx="492.37" cy="315.40" r="0.95" fill="#189696"/><circle cx="474.78" cy="328.03" r="0.95" fill="#189696"/><circle cx="453.15" cy="324.42" r="0.95" fill="#189696"/><circle cx="483.01" cy="316.81" r="0.95" fill="#189696"/><circle cx="483.53" cy="324.84" r="0.95" fill="#189696"/><circle cx="488.89" cy="310.59" r="0.95" fill="#189696"/><circle cx="490.03" cy="310.01" r="0.95" fill="#189696"/><circle cx="461.13" cy="317.11" r="0.95" fill="#189696"/><circle cx="490.02" cy="314.86" r="0.95" fill="#189696"/><circle cx="494.36" cy="322.02" r="0.95" fill="#189696"/><circle cx="466.54" cy="331.31" r="0.95" fill="#189696"/><circle cx="477.51" cy="308.31" r="0.95" fill="#189696"/><circle cx="468.55" cy="321.57" r="0.95" fill="#189696"/><circle cx="469.73" cy="324.57" r="0.95" fill="#189696"/><circle cx="458.94" cy="328.23" r="0.95" fill="#189696"/><circle cx="462.04" cy="314.22" r="0.95" fill="#189696"/><circle cx="472.43" cy="333.68" r="0.95" fill="#189696"/><circle cx="471.25" cy="325.52" r="0.95" fill="#189696"/><circle cx="478.89" cy="324.55" r="0.95" fill="#189696"/><circle cx="457.85" cy="323.56" r="0.95" fill="#189696"/><circle cx="467.40" cy="324.93" r="0.95" fill="#189696"/><circle cx="458.42" cy="298.80" r="0.95" fill="#189696"/><circle cx="458.21" cy="318.23" r="0.95" fill="#189696"/><circle cx="493.58" cy="325.03" r="0.95" fill="#189696"/><circle cx="497.42" cy="325.66" r="0.95" fill="#189696"/><circle cx="466.63" cy="294.64" r="0.95" fill="#189696"/><circle cx="469.27" cy="322.00" r="0.95" fill="#189696"/><circle cx="462.59" cy="319.50" r="0.95" fill="#189696"/><circle cx="491.24" cy="330.25" r="0.95" fill="#189696"/><circle cx="481.88" cy="321.32" r="0.95" fill="#189696"/><circle cx="467.68" cy="301.43" r="0.95" fill="#189696"/><circle cx="469.28" cy="311.27" r="0.95" fill="#189696"/><circle cx="479.16" cy="331.13" r="0.95" fill="#189696"/><circle cx="491.43" cy="323.04" r="0.95" fill="#189696"/><circle cx="481.92" cy="330.73" r="0.95" fill="#189696"/><circle cx="467.05" cy="315.62" r="0.95" fill="#189696"/><circle cx="467.80" cy="326.34" r="0.95" fill="#189696"/><circle cx="480.03" cy="320.20" r="0.95" fill="#189696"/><circle cx="462.06" cy="313.87" r="0.95" fill="#189696"/><circle cx="472.23" cy="301.36" r="0.95" fill="#189696"/><circle cx="461.90" cy="314.10" r="0.95" fill="#189696"/><circle cx="478.10" cy="310.20" r="0.95" fill="#189696"/><circle cx="485.83" cy="312.92" r="0.95" fill="#189696"/><circle cx="478.73" cy="312.16" r="0.95" fill="#189696"/><circle cx="475.70" cy="329.40" r="0.95" fill="#189696"/><circle cx="491.29" cy="316.04" r="0.95" fill="#189696"/><circle cx="460.12" cy="325.00" r="0.95" fill="#189696"/><circle cx="494.88" cy="318.41" r="0.95" fill="#189696"/><circle cx="463.54" cy="318.42" r="0.95" fill="#189696"/><circle cx="481.34" cy="315.33" r="0.95" fill="#189696"/><circle cx="478.94" cy="308.92" r="0.95" fill="#189696"/><circle cx="493.54" cy="315.63" r="0.95" fill="#189696"/><circle cx="483.38" cy="327.81" r="0.95" fill="#189696"/><circle cx="471.46" cy="331.01" r="0.95" fill="#189696"/><circle cx="452.65" cy="332.60" r="0.95" fill="#189696"/><circle cx="479.75" cy="297.95" r="0.95" fill="#189696"/><circle cx="464.90" cy="313.20" r="0.95" fill="#189696"/><circle cx="456.37" cy="314.06" r="0.95" fill="#189696"/><circle cx="455.25" cy="316.50" r="0.95" fill="#189696"/><circle cx="470.92" cy="305.06" r="0.95" fill="#189696"/><circle cx="480.96" cy="314.83" r="0.95" fill="#189696"/><circle cx="460.48" cy="325.70" r="0.95" fill="#189696"/><circle cx="457.34" cy="305.18" r="0.95" fill="#189696"/><circle cx="497.48" cy="325.69" r="0.95" fill="#189696"/><circle cx="455.51" cy="332.81" r="0.95" fill="#189696"/><circle cx="474.50" cy="325.35" r="0.95" fill="#189696"/><circle cx="462.44" cy="329.46" r="0.95" fill="#189696"/><circle cx="494.63" cy="309.11" r="0.95" fill="#189696"/><circle cx="475.78" cy="321.09" r="0.95" fill="#189696"/><circle cx="481.81" cy="323.92" r="0.95" fill="#189696"/><circle cx="476.94" cy="308.42" r="0.95" fill="#189696"/><circle cx="462.02" cy="326.86" r="0.95" fill="#189696"/><circle cx="493.69" cy="311.16" r="0.95" fill="#189696"/><circle cx="482.06" cy="321.02" r="0.95" fill="#189696"/><circle cx="464.80" cy="325.51" r="0.95" fill="#189696"/><circle cx="484.06" cy="326.46" r="0.95" fill="#189696"/><circle cx="482.83" cy="326.41" r="0.95" fill="#189696"/><circle cx="465.80" cy="318.17" r="0.95" fill="#189696"/><circle cx="474.84" cy="306.25" r="0.95" fill="#189696"/><circle cx="476.24" cy="323.21" r="0.95" fill="#189696"/><circle cx="490.41" cy="304.97" r="0.95" fill="#189696"/><circle cx="493.21" cy="314.28" r="0.95" fill="#189696"/><circle cx="489.36" cy="320.47" r="0.95" fill="#189696"/><circle cx="495.10" cy="330.39" r="0.95" fill="#189696"/><circle cx="484.47" cy="311.67" r="0.95" fill="#189696"/><circle cx="494.68" cy="322.88" r="0.95" fill="#189696"/><circle cx="483.54" cy="321.95" r="0.95" fill="#189696"/><circle cx="458.34" cy="325.80" r="0.95" fill="#189696"/><circle cx="466.26" cy="316.85" r="0.95" fill="#189696"/><circle cx="476.56" cy="327.62" r="0.95" fill="#189696"/><circle cx="485.41" cy="311.72" r="0.95" fill="#189696"/><circle cx="475.75" cy="320.05" r="0.95" fill="#189696"/><circle cx="494.35" cy="318.75" r="0.95" fill="#189696"/><circle cx="472.27" cy="313.73" r="0.95" fill="#189696"/><circle cx="496.29" cy="313.69" r="0.95" fill="#189696"/><circle cx="496.43" cy="305.38" r="0.95" fill="#189696"/><circle cx="452.75" cy="307.38" r="0.95" fill="#189696"/><circle cx="456.43" cy="316.27" r="0.95" fill="#189696"/><circle cx="466.16" cy="326.01" r="0.95" fill="#189696"/><circle cx="458.53" cy="333.99" r="0.95" fill="#189696"/><circle cx="459.23" cy="315.97" r="0.95" fill="#189696"/><circle cx="471.33" cy="313.56" r="0.95" fill="#189696"/><circle cx="476.51" cy="326.78" r="0.95" fill="#189696"/><circle cx="477.06" cy="315.24" r="0.95" fill="#189696"/><circle cx="459.51" cy="326.46" r="0.95" fill="#189696"/><circle cx="463.64" cy="319.05" r="0.95" fill="#189696"/><circle cx="472.91" cy="314.74" r="0.95" fill="#189696"/><circle cx="473.35" cy="328.05" r="0.95" fill="#189696"/><circle cx="453.59" cy="321.14" r="0.95" fill="#189696"/><circle cx="490.72" cy="323.50" r="0.95" fill="#189696"/><circle cx="471.51" cy="310.77" r="0.95" fill="#189696"/><circle cx="453.12" cy="316.95" r="0.95" fill="#189696"/><circle cx="473.30" cy="331.24" r="0.95" fill="#189696"/><circle cx="469.70" cy="302.11" r="0.95" fill="#189696"/><circle cx="459.72" cy="335.42" r="0.95" fill="#189696"/><circle cx="473.23" cy="326.38" r="0.95" fill="#189696"/><circle cx="455.73" cy="335.62" r="0.95" fill="#189696"/><circle cx="466.23" cy="304.14" r="0.95" fill="#189696"/><circle cx="467.76" cy="315.75" r="0.95" fill="#189696"/><circle cx="478.87" cy="300.33" r="0.95" fill="#189696"/><circle cx="493.21" cy="296.32" r="0.95" fill="#189696"/><circle cx="494.50" cy="324.19" r="0.95" fill="#189696"/><circle cx="484.80" cy="314.85" r="0.95" fill="#189696"/><circle cx="459.49" cy="302.66" r="0.95" fill="#189696"/><circle cx="472.92" cy="310.07" r="0.95" fill="#189696"/><circle cx="465.74" cy="308.54" r="0.95" fill="#189696"/><circle cx="492.66" cy="314.38" r="0.95" fill="#189696"/><circle cx="497.89" cy="328.30" r="0.95" fill="#189696"/><circle cx="489.46" cy="305.20" r="0.95" fill="#189696"/><circle cx="467.03" cy="322.17" r="0.95" fill="#189696"/><circle cx="457.88" cy="330.56" r="0.95" fill="#189696"/><circle cx="468.03" cy="318.13" r="0.95" fill="#189696"/><circle cx="467.92" cy="298.38" r="0.95" fill="#189696"/><circle cx="470.52" cy="298.93" r="0.95" fill="#189696"/><circle cx="452.77" cy="312.70" r="0.95" fill="#189696"/><circle cx="489.32" cy="319.69" r="0.95" fill="#189696"/><circle cx="490.45" cy="332.60" r="0.95" fill="#189696"/><circle cx="491.45" cy="326.32" r="0.95" fill="#189696"/><circle cx="453.23" cy="330.19" r="0.95" fill="#189696"/><circle cx="461.00" cy="289.00" r="0.95" fill="#189696"/><line x1="452.50" y1="318.30" x2="498.00" y2="318.30" stroke="#0a0a0a" stroke-width="1.5"/><rect x="311.95" y="286.65" width="192.55" height="61.200000000000045" fill="none" stroke="#111" stroke-width="1.3"/><line x1="308.95" y1="286.75" x2="311.95" y2="286.75" stroke="#111" stroke-width="1.1"/><text x="305.75" y="289.45" font-size="6.3" text-anchor="end" fill="#222" stroke="#222" stroke-width="0.12" >7</text><line x1="308.95" y1="301.75" x2="311.95" y2="301.75" stroke="#111" stroke-width="1.1"/><text x="305.75" y="304.45" font-size="6.3" text-anchor="end" fill="#222" stroke="#222" stroke-width="0.12" >6</text><line x1="308.95" y1="316.75" x2="311.95" y2="316.75" stroke="#111" stroke-width="1.1"/><text x="305.75" y="319.45" font-size="6.3" text-anchor="end" fill="#222" stroke="#222" stroke-width="0.12" >5</text><line x1="308.95" y1="331.75" x2="311.95" y2="331.75" stroke="#111" stroke-width="1.1"/><text x="305.75" y="334.45" font-size="6.3" text-anchor="end" fill="#222" stroke="#222" stroke-width="0.12" >4</text><line x1="308.95" y1="346.75" x2="311.95" y2="346.75" stroke="#111" stroke-width="1.1"/><text x="305.75" y="349.45" font-size="6.3" text-anchor="end" fill="#222" stroke="#222" stroke-width="0.12" >3</text><line x1="341.20" y1="347.85" x2="341.20" y2="350.65" stroke="#111" stroke-width="1.1"/><line x1="475.25" y1="347.85" x2="475.25" y2="350.65" stroke="#111" stroke-width="1.1"/><text x="297.50" y="317.50" font-size="8.8" text-anchor="middle" fill="#1a1a1a" stroke="#1a1a1a" stroke-width="0.18" textLength="17" lengthAdjust="spacingAndGlyphs" transform="rotate(-90 297.50 317.50)" >BAK1</text><text x="407.85" y="281.80" font-size="9.0" text-anchor="middle" fill="#111" stroke="#111" stroke-width="0.16" textLength="112.30000000000001" lengthAdjust="spacingAndGlyphs" >log normalized expression ratio</text><text x="392.00" y="294.80" font-size="4.6" text-anchor="start" fill="#222" stroke="#222" stroke-width="0.08" textLength="33" lengthAdjust="spacingAndGlyphs" >p−val: &lt;10e−5</text><text x="341.20" y="359.30" font-size="6.0" text-anchor="middle" fill="#1a1a1a" stroke="#1a1a1a" stroke-width="0.15" textLength="17.0" lengthAdjust="spacingAndGlyphs" >t11.14</text><text x="475.25" y="359.30" font-size="6.0" text-anchor="middle" fill="#1a1a1a" stroke="#1a1a1a" stroke-width="0.15" textLength="29.2" lengthAdjust="spacingAndGlyphs" >non t11.14</text><circle cx="352.38" cy="538.20" r="0.95" fill="#de6e5a"/><circle cx="358.48" cy="502.69" r="0.95" fill="#de6e5a"/><circle cx="358.50" cy="516.42" r="0.95" fill="#de6e5a"/><circle cx="357.05" cy="540.70" r="0.95" fill="#de6e5a"/><circle cx="336.69" cy="508.17" r="0.95" fill="#de6e5a"/><circle cx="362.43" cy="513.15" r="0.95" fill="#de6e5a"/><circle cx="360.49" cy="529.18" r="0.95" fill="#de6e5a"/><circle cx="338.36" cy="526.48" r="0.95" fill="#de6e5a"/><circle cx="358.66" cy="521.59" r="0.95" fill="#de6e5a"/><circle cx="333.33" cy="531.50" r="0.95" fill="#de6e5a"/><circle cx="354.11" cy="495.29" r="0.95" fill="#de6e5a"/><circle cx="340.25" cy="527.91" r="0.95" fill="#de6e5a"/><circle cx="320.05" cy="536.20" r="0.95" fill="#de6e5a"/><circle cx="322.68" cy="528.23" r="0.95" fill="#de6e5a"/><circle cx="331.03" cy="527.01" r="0.95" fill="#de6e5a"/><circle cx="349.01" cy="540.90" r="0.95" fill="#de6e5a"/><circle cx="319.53" cy="522.15" r="0.95" fill="#de6e5a"/><circle cx="349.70" cy="524.85" r="0.95" fill="#de6e5a"/><circle cx="329.00" cy="525.13" r="0.95" fill="#de6e5a"/><circle cx="319.07" cy="508.19" r="0.95" fill="#de6e5a"/><circle cx="324.55" cy="508.66" r="0.95" fill="#de6e5a"/><circle cx="347.09" cy="505.98" r="0.95" fill="#de6e5a"/><circle cx="325.26" cy="502.12" r="0.95" fill="#de6e5a"/><circle cx="346.73" cy="506.50" r="0.95" fill="#de6e5a"/><circle cx="325.78" cy="499.99" r="0.95" fill="#de6e5a"/><circle cx="359.55" cy="511.43" r="0.95" fill="#de6e5a"/><circle cx="362.52" cy="533.98" r="0.95" fill="#de6e5a"/><circle cx="344.15" cy="497.13" r="0.95" fill="#de6e5a"/><circle cx="345.36" cy="512.98" r="0.95" fill="#de6e5a"/><circle cx="341.46" cy="524.59" r="0.95" fill="#de6e5a"/><circle cx="355.61" cy="537.50" r="0.95" fill="#de6e5a"/><circle cx="318.59" cy="542.95" r="0.95" fill="#de6e5a"/><circle cx="347.29" cy="539.95" r="0.95" fill="#de6e5a"/><circle cx="360.60" cy="506.38" r="0.95" fill="#de6e5a"/><circle cx="341.94" cy="541.73" r="0.95" fill="#de6e5a"/><circle cx="348.00" cy="518.43" r="0.95" fill="#de6e5a"/><circle cx="323.70" cy="512.00" r="0.95" fill="#de6e5a"/><circle cx="321.73" cy="502.42" r="0.95" fill="#de6e5a"/><circle cx="351.53" cy="522.00" r="0.95" fill="#de6e5a"/><circle cx="322.30" cy="528.28" r="0.95" fill="#de6e5a"/><circle cx="347.77" cy="524.83" r="0.95" fill="#de6e5a"/><circle cx="319.70" cy="516.29" r="0.95" fill="#de6e5a"/><circle cx="328.21" cy="522.57" r="0.95" fill="#de6e5a"/><circle cx="319.55" cy="515.19" r="0.95" fill="#de6e5a"/><circle cx="347.96" cy="517.88" r="0.95" fill="#de6e5a"/><circle cx="332.29" cy="508.44" r="0.95" fill="#de6e5a"/><circle cx="324.07" cy="516.34" r="0.95" fill="#de6e5a"/><circle cx="328.14" cy="515.20" r="0.95" fill="#de6e5a"/><circle cx="327.23" cy="533.66" r="0.95" fill="#de6e5a"/><circle cx="343.03" cy="520.00" r="0.95" fill="#de6e5a"/><circle cx="357.67" cy="531.40" r="0.95" fill="#de6e5a"/><circle cx="318.64" cy="506.26" r="0.95" fill="#de6e5a"/><circle cx="326.83" cy="502.26" r="0.95" fill="#de6e5a"/><circle cx="355.94" cy="505.80" r="0.95" fill="#de6e5a"/><circle cx="358.67" cy="504.30" r="0.95" fill="#de6e5a"/><circle cx="331.68" cy="513.07" r="0.95" fill="#de6e5a"/><circle cx="348.40" cy="532.59" r="0.95" fill="#de6e5a"/><circle cx="357.33" cy="528.47" r="0.95" fill="#de6e5a"/><circle cx="335.00" cy="525.48" r="0.95" fill="#de6e5a"/><circle cx="355.49" cy="533.78" r="0.95" fill="#de6e5a"/><circle cx="338.94" cy="514.61" r="0.95" fill="#de6e5a"/><circle cx="327.84" cy="535.04" r="0.95" fill="#de6e5a"/><circle cx="359.07" cy="530.28" r="0.95" fill="#de6e5a"/><circle cx="359.28" cy="511.29" r="0.95" fill="#de6e5a"/><circle cx="342.68" cy="496.95" r="0.95" fill="#de6e5a"/><circle cx="326.41" cy="542.79" r="0.95" fill="#de6e5a"/><circle cx="331.50" cy="512.08" r="0.95" fill="#de6e5a"/><circle cx="361.88" cy="522.16" r="0.95" fill="#de6e5a"/><circle cx="320.32" cy="511.20" r="0.95" fill="#de6e5a"/><circle cx="336.45" cy="517.95" r="0.95" fill="#de6e5a"/><circle cx="345.08" cy="493.02" r="0.95" fill="#de6e5a"/><circle cx="331.01" cy="503.22" r="0.95" fill="#de6e5a"/><circle cx="320.70" cy="509.60" r="0.95" fill="#de6e5a"/><circle cx="335.12" cy="497.15" r="0.95" fill="#de6e5a"/><circle cx="356.42" cy="487.30" r="0.95" fill="#de6e5a"/><circle cx="353.89" cy="506.98" r="0.95" fill="#de6e5a"/><circle cx="359.45" cy="525.37" r="0.95" fill="#de6e5a"/><circle cx="332.61" cy="545.17" r="0.95" fill="#de6e5a"/><circle cx="352.73" cy="535.65" r="0.95" fill="#de6e5a"/><circle cx="333.38" cy="503.40" r="0.95" fill="#de6e5a"/><circle cx="327.63" cy="564.92" r="0.95" fill="#de6e5a"/><circle cx="322.53" cy="526.15" r="0.95" fill="#de6e5a"/><circle cx="354.74" cy="520.78" r="0.95" fill="#de6e5a"/><circle cx="329.09" cy="525.95" r="0.95" fill="#de6e5a"/><circle cx="324.76" cy="519.01" r="0.95" fill="#de6e5a"/><circle cx="348.62" cy="518.30" r="0.95" fill="#de6e5a"/><circle cx="333.97" cy="515.94" r="0.95" fill="#de6e5a"/><circle cx="341.77" cy="524.99" r="0.95" fill="#de6e5a"/><circle cx="329.43" cy="527.21" r="0.95" fill="#de6e5a"/><circle cx="342.19" cy="504.17" r="0.95" fill="#de6e5a"/><circle cx="349.54" cy="528.02" r="0.95" fill="#de6e5a"/><circle cx="350.10" cy="511.77" r="0.95" fill="#de6e5a"/><circle cx="331.61" cy="539.22" r="0.95" fill="#de6e5a"/><circle cx="340.31" cy="518.59" r="0.95" fill="#de6e5a"/><circle cx="334.08" cy="510.53" r="0.95" fill="#de6e5a"/><circle cx="356.15" cy="534.53" r="0.95" fill="#de6e5a"/><circle cx="339.91" cy="534.67" r="0.95" fill="#de6e5a"/><circle cx="362.29" cy="494.36" r="0.95" fill="#de6e5a"/><circle cx="346.28" cy="545.61" r="0.95" fill="#de6e5a"/><circle cx="349.58" cy="494.18" r="0.95" fill="#de6e5a"/><circle cx="348.67" cy="508.35" r="0.95" fill="#de6e5a"/><circle cx="351.50" cy="488.82" r="0.95" fill="#de6e5a"/><circle cx="347.02" cy="510.72" r="0.95" fill="#de6e5a"/><circle cx="327.96" cy="500.97" r="0.95" fill="#de6e5a"/><circle cx="340.94" cy="514.85" r="0.95" fill="#de6e5a"/><circle cx="326.43" cy="510.87" r="0.95" fill="#de6e5a"/><circle cx="358.54" cy="534.91" r="0.95" fill="#de6e5a"/><circle cx="343.55" cy="540.70" r="0.95" fill="#de6e5a"/><circle cx="349.50" cy="408.50" r="0.95" fill="#de6e5a"/><circle cx="323.75" cy="479.50" r="0.95" fill="#de6e5a"/><circle cx="342.50" cy="476.80" r="0.95" fill="#de6e5a"/><line x1="318.20" y1="517.70" x2="362.60" y2="517.70" stroke="#5a5a5a" stroke-width="1.7"/><circle cx="481.39" cy="544.61" r="0.95" fill="#189696"/><circle cx="474.30" cy="549.45" r="0.95" fill="#189696"/><circle cx="489.26" cy="540.98" r="0.95" fill="#189696"/><circle cx="475.82" cy="553.20" r="0.95" fill="#189696"/><circle cx="452.64" cy="528.06" r="0.95" fill="#189696"/><circle cx="469.38" cy="537.30" r="0.95" fill="#189696"/><circle cx="488.62" cy="533.37" r="0.95" fill="#189696"/><circle cx="463.07" cy="535.08" r="0.95" fill="#189696"/><circle cx="497.89" cy="537.89" r="0.95" fill="#189696"/><circle cx="486.11" cy="540.23" r="0.95" fill="#189696"/><circle cx="454.05" cy="546.41" r="0.95" fill="#189696"/><circle cx="467.47" cy="524.89" r="0.95" fill="#189696"/><circle cx="495.81" cy="531.15" r="0.95" fill="#189696"/><circle cx="469.26" cy="537.67" r="0.95" fill="#189696"/><circle cx="458.18" cy="546.95" r="0.95" fill="#189696"/><circle cx="494.72" cy="551.32" r="0.95" fill="#189696"/><circle cx="468.10" cy="521.83" r="0.95" fill="#189696"/><circle cx="474.55" cy="540.91" r="0.95" fill="#189696"/><circle cx="491.90" cy="538.56" r="0.95" fill="#189696"/><circle cx="463.19" cy="539.88" r="0.95" fill="#189696"/><circle cx="496.58" cy="538.76" r="0.95" fill="#189696"/><circle cx="493.18" cy="528.87" r="0.95" fill="#189696"/><circle cx="478.92" cy="538.06" r="0.95" fill="#189696"/><circle cx="485.70" cy="515.56" r="0.95" fill="#189696"/><circle cx="490.13" cy="544.95" r="0.95" fill="#189696"/><circle cx="461.65" cy="544.72" r="0.95" fill="#189696"/><circle cx="471.14" cy="554.27" r="0.95" fill="#189696"/><circle cx="469.12" cy="524.98" r="0.95" fill="#189696"/><circle cx="497.77" cy="525.36" r="0.95" fill="#189696"/><circle cx="470.09" cy="540.28" r="0.95" fill="#189696"/><circle cx="485.17" cy="541.53" r="0.95" fill="#189696"/><circle cx="497.67" cy="538.27" r="0.95" fill="#189696"/><circle cx="477.54" cy="522.48" r="0.95" fill="#189696"/><circle cx="486.54" cy="537.86" r="0.95" fill="#189696"/><circle cx="477.82" cy="539.76" r="0.95" fill="#189696"/><circle cx="480.83" cy="549.74" r="0.95" fill="#189696"/><circle cx="468.34" cy="539.92" r="0.95" fill="#189696"/><circle cx="494.68" cy="542.58" r="0.95" fill="#189696"/><circle cx="466.45" cy="527.60" r="0.95" fill="#189696"/><circle cx="457.20" cy="547.57" r="0.95" fill="#189696"/><circle cx="487.85" cy="552.72" r="0.95" fill="#189696"/><circle cx="469.56" cy="544.21" r="0.95" fill="#189696"/><circle cx="493.39" cy="529.66" r="0.95" fill="#189696"/><circle cx="496.10" cy="519.77" r="0.95" fill="#189696"/><circle cx="496.25" cy="505.00" r="0.95" fill="#189696"/><circle cx="479.37" cy="552.53" r="0.95" fill="#189696"/><circle cx="469.59" cy="545.36" r="0.95" fill="#189696"/><circle cx="463.75" cy="527.48" r="0.95" fill="#189696"/><circle cx="455.65" cy="541.41" r="0.95" fill="#189696"/><circle cx="489.14" cy="532.17" r="0.95" fill="#189696"/><circle cx="490.58" cy="539.15" r="0.95" fill="#189696"/><circle cx="454.87" cy="522.83" r="0.95" fill="#189696"/><circle cx="471.59" cy="537.06" r="0.95" fill="#189696"/><circle cx="460.26" cy="545.04" r="0.95" fill="#189696"/><circle cx="493.41" cy="545.01" r="0.95" fill="#189696"/><circle cx="497.25" cy="541.06" r="0.95" fill="#189696"/><circle cx="463.98" cy="537.21" r="0.95" fill="#189696"/><circle cx="496.13" cy="522.76" r="0.95" fill="#189696"/><circle cx="453.79" cy="516.88" r="0.95" fill="#189696"/><circle cx="462.15" cy="534.23" r="0.95" fill="#189696"/><circle cx="492.61" cy="546.04" r="0.95" fill="#189696"/><circle cx="479.86" cy="517.92" r="0.95" fill="#189696"/><circle cx="491.15" cy="522.27" r="0.95" fill="#189696"/><circle cx="466.51" cy="542.92" r="0.95" fill="#189696"/><circle cx="487.46" cy="527.39" r="0.95" fill="#189696"/><circle cx="452.97" cy="535.36" r="0.95" fill="#189696"/><circle cx="453.57" cy="524.84" r="0.95" fill="#189696"/><circle cx="479.51" cy="507.97" r="0.95" fill="#189696"/><circle cx="479.09" cy="521.89" r="0.95" fill="#189696"/><circle cx="464.20" cy="517.64" r="0.95" fill="#189696"/><circle cx="493.71" cy="510.38" r="0.95" fill="#189696"/><circle cx="458.58" cy="550.30" r="0.95" fill="#189696"/><circle cx="453.65" cy="540.91" r="0.95" fill="#189696"/><circle cx="472.83" cy="539.84" r="0.95" fill="#189696"/><circle cx="482.32" cy="549.06" r="0.95" fill="#189696"/><circle cx="458.26" cy="551.60" r="0.95" fill="#189696"/><circle cx="474.97" cy="526.43" r="0.95" fill="#189696"/><circle cx="462.49" cy="534.83" r="0.95" fill="#189696"/><circle cx="469.69" cy="540.49" r="0.95" fill="#189696"/><circle cx="484.80" cy="542.56" r="0.95" fill="#189696"/><circle cx="484.84" cy="533.80" r="0.95" fill="#189696"/><circle cx="492.26" cy="536.36" r="0.95" fill="#189696"/><circle cx="452.86" cy="540.02" r="0.95" fill="#189696"/><circle cx="473.61" cy="514.87" r="0.95" fill="#189696"/><circle cx="460.48" cy="551.69" r="0.95" fill="#189696"/><circle cx="484.87" cy="543.54" r="0.95" fill="#189696"/><circle cx="466.77" cy="537.23" r="0.95" fill="#189696"/><circle cx="454.41" cy="551.50" r="0.95" fill="#189696"/><circle cx="493.48" cy="529.03" r="0.95" fill="#189696"/><circle cx="465.92" cy="542.58" r="0.95" fill="#189696"/><circle cx="495.64" cy="521.19" r="0.95" fill="#189696"/><circle cx="456.98" cy="537.28" r="0.95" fill="#189696"/><circle cx="485.92" cy="525.14" r="0.95" fill="#189696"/><circle cx="496.50" cy="528.40" r="0.95" fill="#189696"/><circle cx="476.42" cy="530.16" r="0.95" fill="#189696"/><circle cx="478.01" cy="550.57" r="0.95" fill="#189696"/><circle cx="496.95" cy="552.82" r="0.95" fill="#189696"/><circle cx="468.66" cy="544.04" r="0.95" fill="#189696"/><circle cx="457.40" cy="520.55" r="0.95" fill="#189696"/><circle cx="455.96" cy="563.48" r="0.95" fill="#189696"/><circle cx="487.08" cy="552.39" r="0.95" fill="#189696"/><circle cx="472.89" cy="544.94" r="0.95" fill="#189696"/><circle cx="481.83" cy="535.72" r="0.95" fill="#189696"/><circle cx="472.64" cy="535.80" r="0.95" fill="#189696"/><circle cx="470.77" cy="524.76" r="0.95" fill="#189696"/><circle cx="462.76" cy="536.19" r="0.95" fill="#189696"/><circle cx="463.74" cy="546.75" r="0.95" fill="#189696"/><circle cx="484.54" cy="540.50" r="0.95" fill="#189696"/><circle cx="473.25" cy="543.52" r="0.95" fill="#189696"/><circle cx="463.26" cy="518.58" r="0.95" fill="#189696"/><circle cx="481.25" cy="526.31" r="0.95" fill="#189696"/><circle cx="496.32" cy="544.45" r="0.95" fill="#189696"/><circle cx="474.88" cy="546.44" r="0.95" fill="#189696"/><circle cx="485.13" cy="542.86" r="0.95" fill="#189696"/><circle cx="481.02" cy="549.69" r="0.95" fill="#189696"/><circle cx="487.01" cy="523.24" r="0.95" fill="#189696"/><circle cx="484.31" cy="524.93" r="0.95" fill="#189696"/><circle cx="483.58" cy="515.21" r="0.95" fill="#189696"/><circle cx="470.06" cy="538.19" r="0.95" fill="#189696"/><circle cx="480.47" cy="557.66" r="0.95" fill="#189696"/><circle cx="497.51" cy="548.10" r="0.95" fill="#189696"/><circle cx="452.79" cy="507.75" r="0.95" fill="#189696"/><circle cx="470.30" cy="533.29" r="0.95" fill="#189696"/><circle cx="459.12" cy="544.79" r="0.95" fill="#189696"/><circle cx="466.27" cy="532.60" r="0.95" fill="#189696"/><circle cx="495.43" cy="535.86" r="0.95" fill="#189696"/><circle cx="457.42" cy="536.90" r="0.95" fill="#189696"/><circle cx="496.00" cy="523.13" r="0.95" fill="#189696"/><circle cx="467.76" cy="535.08" r="0.95" fill="#189696"/><circle cx="481.69" cy="529.14" r="0.95" fill="#189696"/><circle cx="495.78" cy="533.39" r="0.95" fill="#189696"/><circle cx="467.16" cy="528.41" r="0.95" fill="#189696"/><circle cx="459.48" cy="536.93" r="0.95" fill="#189696"/><circle cx="483.49" cy="554.98" r="0.95" fill="#189696"/><circle cx="465.12" cy="541.36" r="0.95" fill="#189696"/><circle cx="469.74" cy="549.15" r="0.95" fill="#189696"/><circle cx="472.38" cy="547.00" r="0.95" fill="#189696"/><circle cx="480.58" cy="532.29" r="0.95" fill="#189696"/><circle cx="470.00" cy="536.06" r="0.95" fill="#189696"/><circle cx="464.89" cy="543.07" r="0.95" fill="#189696"/><circle cx="454.06" cy="546.24" r="0.95" fill="#189696"/><circle cx="489.37" cy="558.81" r="0.95" fill="#189696"/><circle cx="453.36" cy="550.49" r="0.95" fill="#189696"/><circle cx="475.30" cy="529.51" r="0.95" fill="#189696"/><circle cx="484.37" cy="549.54" r="0.95" fill="#189696"/><circle cx="463.43" cy="540.61" r="0.95" fill="#189696"/><circle cx="456.80" cy="548.87" r="0.95" fill="#189696"/><circle cx="466.56" cy="538.14" r="0.95" fill="#189696"/><circle cx="469.34" cy="511.17" r="0.95" fill="#189696"/><circle cx="458.64" cy="543.03" r="0.95" fill="#189696"/><circle cx="476.59" cy="541.94" r="0.95" fill="#189696"/><circle cx="454.74" cy="514.26" r="0.95" fill="#189696"/><circle cx="477.61" cy="541.09" r="0.95" fill="#189696"/><circle cx="462.74" cy="546.05" r="0.95" fill="#189696"/><circle cx="494.59" cy="543.20" r="0.95" fill="#189696"/><circle cx="492.70" cy="513.91" r="0.95" fill="#189696"/><circle cx="456.16" cy="549.42" r="0.95" fill="#189696"/><circle cx="493.44" cy="538.91" r="0.95" fill="#189696"/><circle cx="461.07" cy="537.18" r="0.95" fill="#189696"/><circle cx="455.21" cy="515.66" r="0.95" fill="#189696"/><circle cx="480.72" cy="542.50" r="0.95" fill="#189696"/><circle cx="473.94" cy="521.31" r="0.95" fill="#189696"/><circle cx="464.77" cy="540.13" r="0.95" fill="#189696"/><circle cx="468.57" cy="526.37" r="0.95" fill="#189696"/><circle cx="493.00" cy="532.18" r="0.95" fill="#189696"/><circle cx="455.73" cy="549.67" r="0.95" fill="#189696"/><circle cx="483.35" cy="547.42" r="0.95" fill="#189696"/><circle cx="461.14" cy="542.04" r="0.95" fill="#189696"/><circle cx="454.19" cy="537.04" r="0.95" fill="#189696"/><circle cx="475.03" cy="540.71" r="0.95" fill="#189696"/><circle cx="459.70" cy="529.63" r="0.95" fill="#189696"/><circle cx="457.24" cy="520.44" r="0.95" fill="#189696"/><circle cx="471.08" cy="547.75" r="0.95" fill="#189696"/><circle cx="483.93" cy="530.80" r="0.95" fill="#189696"/><circle cx="456.06" cy="535.40" r="0.95" fill="#189696"/><circle cx="490.14" cy="521.90" r="0.95" fill="#189696"/><circle cx="468.53" cy="538.18" r="0.95" fill="#189696"/><circle cx="476.73" cy="540.12" r="0.95" fill="#189696"/><circle cx="484.79" cy="532.03" r="0.95" fill="#189696"/><circle cx="474.97" cy="531.80" r="0.95" fill="#189696"/><circle cx="489.21" cy="546.82" r="0.95" fill="#189696"/><circle cx="493.74" cy="552.54" r="0.95" fill="#189696"/><circle cx="487.88" cy="533.70" r="0.95" fill="#189696"/><circle cx="493.58" cy="529.38" r="0.95" fill="#189696"/><circle cx="496.64" cy="509.79" r="0.95" fill="#189696"/><circle cx="470.25" cy="531.70" r="0.95" fill="#189696"/><circle cx="488.62" cy="557.35" r="0.95" fill="#189696"/><circle cx="453.01" cy="526.68" r="0.95" fill="#189696"/><circle cx="480.13" cy="526.89" r="0.95" fill="#189696"/><circle cx="486.88" cy="547.55" r="0.95" fill="#189696"/><circle cx="494.85" cy="532.94" r="0.95" fill="#189696"/><circle cx="476.90" cy="531.45" r="0.95" fill="#189696"/><circle cx="497.91" cy="542.11" r="0.95" fill="#189696"/><circle cx="477.75" cy="531.61" r="0.95" fill="#189696"/><circle cx="492.67" cy="539.96" r="0.95" fill="#189696"/><circle cx="468.99" cy="516.54" r="0.95" fill="#189696"/><circle cx="460.61" cy="545.56" r="0.95" fill="#189696"/><circle cx="477.06" cy="542.16" r="0.95" fill="#189696"/><circle cx="458.46" cy="540.99" r="0.95" fill="#189696"/><circle cx="453.73" cy="526.28" r="0.95" fill="#189696"/><circle cx="453.70" cy="522.44" r="0.95" fill="#189696"/><circle cx="482.78" cy="543.12" r="0.95" fill="#189696"/><circle cx="494.71" cy="538.64" r="0.95" fill="#189696"/><circle cx="476.30" cy="541.75" r="0.95" fill="#189696"/><circle cx="458.09" cy="546.15" r="0.95" fill="#189696"/><circle cx="463.42" cy="528.04" r="0.95" fill="#189696"/><circle cx="487.57" cy="521.06" r="0.95" fill="#189696"/><circle cx="486.69" cy="543.50" r="0.95" fill="#189696"/><circle cx="472.07" cy="531.80" r="0.95" fill="#189696"/><circle cx="469.70" cy="529.54" r="0.95" fill="#189696"/><circle cx="476.97" cy="527.41" r="0.95" fill="#189696"/><circle cx="473.37" cy="538.06" r="0.95" fill="#189696"/><circle cx="479.18" cy="553.93" r="0.95" fill="#189696"/><circle cx="489.03" cy="541.31" r="0.95" fill="#189696"/><circle cx="497.70" cy="535.82" r="0.95" fill="#189696"/><circle cx="469.65" cy="516.61" r="0.95" fill="#189696"/><circle cx="482.73" cy="536.72" r="0.95" fill="#189696"/><circle cx="478.96" cy="538.08" r="0.95" fill="#189696"/><circle cx="461.46" cy="497.49" r="0.95" fill="#189696"/><circle cx="462.84" cy="516.70" r="0.95" fill="#189696"/><circle cx="474.47" cy="535.23" r="0.95" fill="#189696"/><circle cx="455.00" cy="513.94" r="0.95" fill="#189696"/><circle cx="475.24" cy="520.90" r="0.95" fill="#189696"/><circle cx="473.50" cy="549.85" r="0.95" fill="#189696"/><circle cx="479.73" cy="523.54" r="0.95" fill="#189696"/><circle cx="484.03" cy="545.71" r="0.95" fill="#189696"/><circle cx="469.56" cy="547.55" r="0.95" fill="#189696"/><circle cx="463.89" cy="521.36" r="0.95" fill="#189696"/><circle cx="494.73" cy="540.78" r="0.95" fill="#189696"/><circle cx="461.54" cy="514.99" r="0.95" fill="#189696"/><circle cx="456.01" cy="548.51" r="0.95" fill="#189696"/><circle cx="466.51" cy="515.24" r="0.95" fill="#189696"/><circle cx="490.32" cy="532.72" r="0.95" fill="#189696"/><circle cx="464.55" cy="532.16" r="0.95" fill="#189696"/><circle cx="462.43" cy="533.11" r="0.95" fill="#189696"/><circle cx="461.92" cy="527.68" r="0.95" fill="#189696"/><circle cx="462.41" cy="517.06" r="0.95" fill="#189696"/><circle cx="483.73" cy="537.82" r="0.95" fill="#189696"/><circle cx="469.25" cy="528.01" r="0.95" fill="#189696"/><circle cx="461.29" cy="548.81" r="0.95" fill="#189696"/><circle cx="484.18" cy="539.56" r="0.95" fill="#189696"/><circle cx="471.32" cy="540.00" r="0.95" fill="#189696"/><circle cx="482.29" cy="550.86" r="0.95" fill="#189696"/><circle cx="453.46" cy="550.57" r="0.95" fill="#189696"/><circle cx="472.69" cy="534.84" r="0.95" fill="#189696"/><circle cx="475.28" cy="520.35" r="0.95" fill="#189696"/><circle cx="481.45" cy="546.07" r="0.95" fill="#189696"/><circle cx="481.43" cy="534.64" r="0.95" fill="#189696"/><circle cx="486.85" cy="529.63" r="0.95" fill="#189696"/><circle cx="481.43" cy="543.80" r="0.95" fill="#189696"/><circle cx="462.67" cy="522.56" r="0.95" fill="#189696"/><circle cx="488.42" cy="540.49" r="0.95" fill="#189696"/><circle cx="473.20" cy="550.42" r="0.95" fill="#189696"/><circle cx="462.57" cy="539.21" r="0.95" fill="#189696"/><circle cx="456.45" cy="522.90" r="0.95" fill="#189696"/><circle cx="474.80" cy="528.68" r="0.95" fill="#189696"/><circle cx="467.38" cy="545.80" r="0.95" fill="#189696"/><circle cx="467.44" cy="551.48" r="0.95" fill="#189696"/><circle cx="460.99" cy="538.21" r="0.95" fill="#189696"/><circle cx="459.40" cy="540.36" r="0.95" fill="#189696"/><circle cx="462.56" cy="519.69" r="0.95" fill="#189696"/><circle cx="457.58" cy="519.87" r="0.95" fill="#189696"/><circle cx="470.94" cy="531.31" r="0.95" fill="#189696"/><circle cx="487.12" cy="536.22" r="0.95" fill="#189696"/><circle cx="477.01" cy="541.65" r="0.95" fill="#189696"/><circle cx="456.37" cy="550.96" r="0.95" fill="#189696"/><circle cx="456.88" cy="538.17" r="0.95" fill="#189696"/><circle cx="461.77" cy="549.76" r="0.95" fill="#189696"/><circle cx="476.18" cy="516.33" r="0.95" fill="#189696"/><circle cx="482.69" cy="526.47" r="0.95" fill="#189696"/><circle cx="466.98" cy="545.23" r="0.95" fill="#189696"/><circle cx="494.06" cy="538.04" r="0.95" fill="#189696"/><circle cx="454.06" cy="523.35" r="0.95" fill="#189696"/><circle cx="475.18" cy="549.91" r="0.95" fill="#189696"/><circle cx="478.87" cy="549.60" r="0.95" fill="#189696"/><circle cx="460.79" cy="523.52" r="0.95" fill="#189696"/><circle cx="496.39" cy="540.88" r="0.95" fill="#189696"/><circle cx="487.82" cy="535.23" r="0.95" fill="#189696"/><circle cx="459.96" cy="534.57" r="0.95" fill="#189696"/><circle cx="468.01" cy="521.90" r="0.95" fill="#189696"/><circle cx="470.21" cy="527.83" r="0.95" fill="#189696"/><circle cx="488.95" cy="521.32" r="0.95" fill="#189696"/><circle cx="456.62" cy="544.59" r="0.95" fill="#189696"/><circle cx="467.28" cy="540.04" r="0.95" fill="#189696"/><circle cx="459.30" cy="541.61" r="0.95" fill="#189696"/><circle cx="466.53" cy="516.63" r="0.95" fill="#189696"/><circle cx="472.64" cy="547.70" r="0.95" fill="#189696"/><circle cx="463.04" cy="546.18" r="0.95" fill="#189696"/><circle cx="471.84" cy="519.29" r="0.95" fill="#189696"/><circle cx="483.93" cy="550.41" r="0.95" fill="#189696"/><circle cx="477.82" cy="527.36" r="0.95" fill="#189696"/><circle cx="469.05" cy="527.01" r="0.95" fill="#189696"/><circle cx="466.35" cy="540.95" r="0.95" fill="#189696"/><circle cx="467.52" cy="547.56" r="0.95" fill="#189696"/><circle cx="471.86" cy="545.33" r="0.95" fill="#189696"/><circle cx="461.61" cy="555.94" r="0.95" fill="#189696"/><circle cx="492.02" cy="543.73" r="0.95" fill="#189696"/><circle cx="467.83" cy="538.84" r="0.95" fill="#189696"/><circle cx="482.10" cy="532.91" r="0.95" fill="#189696"/><circle cx="472.99" cy="529.44" r="0.95" fill="#189696"/><circle cx="469.58" cy="536.24" r="0.95" fill="#189696"/><circle cx="465.24" cy="521.72" r="0.95" fill="#189696"/><circle cx="483.97" cy="517.23" r="0.95" fill="#189696"/><circle cx="474.35" cy="523.90" r="0.95" fill="#189696"/><circle cx="491.00" cy="524.63" r="0.95" fill="#189696"/><circle cx="459.13" cy="554.30" r="0.95" fill="#189696"/><circle cx="483.25" cy="527.98" r="0.95" fill="#189696"/><circle cx="496.38" cy="517.42" r="0.95" fill="#189696"/><circle cx="497.85" cy="542.50" r="0.95" fill="#189696"/><circle cx="467.41" cy="530.87" r="0.95" fill="#189696"/><circle cx="460.11" cy="511.69" r="0.95" fill="#189696"/><circle cx="470.49" cy="554.48" r="0.95" fill="#189696"/><circle cx="464.65" cy="530.30" r="0.95" fill="#189696"/><circle cx="488.64" cy="530.22" r="0.95" fill="#189696"/><circle cx="488.44" cy="521.29" r="0.95" fill="#189696"/><circle cx="492.18" cy="523.66" r="0.95" fill="#189696"/><circle cx="497.02" cy="550.75" r="0.95" fill="#189696"/><circle cx="475.22" cy="522.59" r="0.95" fill="#189696"/><circle cx="496.60" cy="532.92" r="0.95" fill="#189696"/><circle cx="482.30" cy="522.70" r="0.95" fill="#189696"/><circle cx="465.92" cy="520.20" r="0.95" fill="#189696"/><circle cx="458.39" cy="543.22" r="0.95" fill="#189696"/><circle cx="452.68" cy="532.27" r="0.95" fill="#189696"/><circle cx="456.71" cy="540.80" r="0.95" fill="#189696"/><circle cx="454.71" cy="516.43" r="0.95" fill="#189696"/><circle cx="481.47" cy="541.92" r="0.95" fill="#189696"/><circle cx="465.96" cy="545.83" r="0.95" fill="#189696"/><circle cx="472.79" cy="544.52" r="0.95" fill="#189696"/><circle cx="470.32" cy="534.42" r="0.95" fill="#189696"/><circle cx="485.65" cy="524.55" r="0.95" fill="#189696"/><circle cx="484.43" cy="543.82" r="0.95" fill="#189696"/><circle cx="490.49" cy="543.15" r="0.95" fill="#189696"/><circle cx="480.95" cy="544.48" r="0.95" fill="#189696"/><circle cx="466.72" cy="536.31" r="0.95" fill="#189696"/><circle cx="458.65" cy="530.10" r="0.95" fill="#189696"/><circle cx="468.20" cy="513.59" r="0.95" fill="#189696"/><circle cx="481.26" cy="545.33" r="0.95" fill="#189696"/><circle cx="489.74" cy="532.87" r="0.95" fill="#189696"/><circle cx="452.67" cy="533.52" r="0.95" fill="#189696"/><circle cx="467.99" cy="553.09" r="0.95" fill="#189696"/><circle cx="462.20" cy="541.74" r="0.95" fill="#189696"/><circle cx="453.65" cy="544.79" r="0.95" fill="#189696"/><circle cx="478.58" cy="539.42" r="0.95" fill="#189696"/><circle cx="477.72" cy="530.02" r="0.95" fill="#189696"/><circle cx="480.78" cy="547.80" r="0.95" fill="#189696"/><circle cx="460.19" cy="517.18" r="0.95" fill="#189696"/><circle cx="494.75" cy="537.88" r="0.95" fill="#189696"/><circle cx="466.53" cy="531.73" r="0.95" fill="#189696"/><circle cx="470.52" cy="537.44" r="0.95" fill="#189696"/><circle cx="488.51" cy="543.89" r="0.95" fill="#189696"/><circle cx="485.68" cy="546.73" r="0.95" fill="#189696"/><circle cx="463.61" cy="520.58" r="0.95" fill="#189696"/><circle cx="472.22" cy="532.81" r="0.95" fill="#189696"/><circle cx="492.29" cy="544.51" r="0.95" fill="#189696"/><circle cx="496.39" cy="541.36" r="0.95" fill="#189696"/><circle cx="494.29" cy="537.46" r="0.95" fill="#189696"/><circle cx="488.19" cy="518.23" r="0.95" fill="#189696"/><circle cx="461.00" cy="540.96" r="0.95" fill="#189696"/><circle cx="492.56" cy="510.15" r="0.95" fill="#189696"/><circle cx="493.98" cy="513.14" r="0.95" fill="#189696"/><circle cx="474.64" cy="549.88" r="0.95" fill="#189696"/><circle cx="493.87" cy="544.84" r="0.95" fill="#189696"/><circle cx="457.99" cy="543.26" r="0.95" fill="#189696"/><circle cx="489.10" cy="547.44" r="0.95" fill="#189696"/><circle cx="466.59" cy="537.04" r="0.95" fill="#189696"/><circle cx="458.94" cy="534.38" r="0.95" fill="#189696"/><circle cx="455.35" cy="525.52" r="0.95" fill="#189696"/><circle cx="495.77" cy="523.81" r="0.95" fill="#189696"/><circle cx="478.62" cy="547.07" r="0.95" fill="#189696"/><circle cx="469.04" cy="534.57" r="0.95" fill="#189696"/><circle cx="472.55" cy="527.30" r="0.95" fill="#189696"/><circle cx="486.61" cy="529.49" r="0.95" fill="#189696"/><circle cx="487.25" cy="540.54" r="0.95" fill="#189696"/><circle cx="462.74" cy="544.58" r="0.95" fill="#189696"/><circle cx="459.76" cy="555.60" r="0.95" fill="#189696"/><circle cx="471.20" cy="545.90" r="0.95" fill="#189696"/><circle cx="468.54" cy="533.67" r="0.95" fill="#189696"/><circle cx="476.95" cy="544.06" r="0.95" fill="#189696"/><circle cx="454.82" cy="545.88" r="0.95" fill="#189696"/><circle cx="456.09" cy="545.00" r="0.95" fill="#189696"/><circle cx="468.04" cy="539.58" r="0.95" fill="#189696"/><circle cx="465.75" cy="543.97" r="0.95" fill="#189696"/><circle cx="474.03" cy="544.44" r="0.95" fill="#189696"/><circle cx="487.60" cy="521.32" r="0.95" fill="#189696"/><circle cx="480.52" cy="533.16" r="0.95" fill="#189696"/><circle cx="486.42" cy="527.19" r="0.95" fill="#189696"/><circle cx="481.29" cy="516.38" r="0.95" fill="#189696"/><circle cx="494.72" cy="532.95" r="0.95" fill="#189696"/><circle cx="496.95" cy="535.88" r="0.95" fill="#189696"/><circle cx="476.53" cy="550.98" r="0.95" fill="#189696"/><circle cx="485.42" cy="540.92" r="0.95" fill="#189696"/><circle cx="464.57" cy="534.35" r="0.95" fill="#189696"/><circle cx="476.84" cy="537.62" r="0.95" fill="#189696"/><circle cx="463.81" cy="523.96" r="0.95" fill="#189696"/><circle cx="481.77" cy="536.45" r="0.95" fill="#189696"/><circle cx="481.11" cy="555.61" r="0.95" fill="#189696"/><circle cx="496.55" cy="543.20" r="0.95" fill="#189696"/><circle cx="461.75" cy="542.58" r="0.95" fill="#189696"/><circle cx="475.73" cy="518.09" r="0.95" fill="#189696"/><circle cx="477.72" cy="532.87" r="0.95" fill="#189696"/><circle cx="463.28" cy="553.02" r="0.95" fill="#189696"/><circle cx="472.07" cy="533.38" r="0.95" fill="#189696"/><circle cx="483.21" cy="520.33" r="0.95" fill="#189696"/><circle cx="464.38" cy="544.20" r="0.95" fill="#189696"/><circle cx="453.19" cy="532.71" r="0.95" fill="#189696"/><circle cx="465.78" cy="524.68" r="0.95" fill="#189696"/><circle cx="483.02" cy="531.44" r="0.95" fill="#189696"/><circle cx="497.65" cy="541.76" r="0.95" fill="#189696"/><circle cx="491.50" cy="549.13" r="0.95" fill="#189696"/><circle cx="474.87" cy="529.96" r="0.95" fill="#189696"/><circle cx="455.22" cy="514.05" r="0.95" fill="#189696"/><circle cx="468.99" cy="523.35" r="0.95" fill="#189696"/><circle cx="471.97" cy="529.25" r="0.95" fill="#189696"/><circle cx="455.10" cy="543.45" r="0.95" fill="#189696"/><circle cx="463.16" cy="523.55" r="0.95" fill="#189696"/><circle cx="460.95" cy="508.20" r="0.95" fill="#189696"/><circle cx="462.81" cy="525.83" r="0.95" fill="#189696"/><circle cx="487.58" cy="551.44" r="0.95" fill="#189696"/><circle cx="485.31" cy="543.25" r="0.95" fill="#189696"/><circle cx="483.16" cy="548.30" r="0.95" fill="#189696"/><circle cx="491.08" cy="557.05" r="0.95" fill="#189696"/><circle cx="474.38" cy="549.01" r="0.95" fill="#189696"/><circle cx="460.17" cy="545.34" r="0.95" fill="#189696"/><circle cx="470.56" cy="523.98" r="0.95" fill="#189696"/><circle cx="454.41" cy="541.92" r="0.95" fill="#189696"/><circle cx="460.04" cy="524.50" r="0.95" fill="#189696"/><circle cx="481.79" cy="542.26" r="0.95" fill="#189696"/><circle cx="472.88" cy="548.61" r="0.95" fill="#189696"/><circle cx="468.10" cy="510.16" r="0.95" fill="#189696"/><circle cx="483.08" cy="550.73" r="0.95" fill="#189696"/><circle cx="460.67" cy="540.64" r="0.95" fill="#189696"/><circle cx="457.66" cy="547.98" r="0.95" fill="#189696"/><circle cx="469.84" cy="534.27" r="0.95" fill="#189696"/><circle cx="482.21" cy="541.40" r="0.95" fill="#189696"/><circle cx="474.22" cy="515.53" r="0.95" fill="#189696"/><circle cx="456.33" cy="530.56" r="0.95" fill="#189696"/><circle cx="486.69" cy="535.73" r="0.95" fill="#189696"/><circle cx="496.88" cy="524.55" r="0.95" fill="#189696"/><circle cx="468.78" cy="527.84" r="0.95" fill="#189696"/><circle cx="475.18" cy="536.10" r="0.95" fill="#189696"/><circle cx="470.63" cy="535.07" r="0.95" fill="#189696"/><circle cx="482.35" cy="541.38" r="0.95" fill="#189696"/><circle cx="492.72" cy="543.74" r="0.95" fill="#189696"/><circle cx="488.96" cy="517.45" r="0.95" fill="#189696"/><circle cx="454.96" cy="521.73" r="0.95" fill="#189696"/><circle cx="488.63" cy="544.44" r="0.95" fill="#189696"/><circle cx="473.99" cy="534.94" r="0.95" fill="#189696"/><circle cx="464.86" cy="527.75" r="0.95" fill="#189696"/><circle cx="488.03" cy="540.26" r="0.95" fill="#189696"/><circle cx="494.54" cy="524.43" r="0.95" fill="#189696"/><circle cx="468.08" cy="539.12" r="0.95" fill="#189696"/><circle cx="495.53" cy="525.08" r="0.95" fill="#189696"/><circle cx="468.98" cy="542.42" r="0.95" fill="#189696"/><circle cx="488.36" cy="532.84" r="0.95" fill="#189696"/><circle cx="472.81" cy="537.90" r="0.95" fill="#189696"/><circle cx="496.26" cy="527.00" r="0.95" fill="#189696"/><circle cx="482.72" cy="543.68" r="0.95" fill="#189696"/><circle cx="493.79" cy="541.47" r="0.95" fill="#189696"/><circle cx="488.46" cy="547.17" r="0.95" fill="#189696"/><circle cx="496.74" cy="532.80" r="0.95" fill="#189696"/><circle cx="464.31" cy="533.13" r="0.95" fill="#189696"/><circle cx="488.10" cy="543.28" r="0.95" fill="#189696"/><circle cx="494.81" cy="544.84" r="0.95" fill="#189696"/><circle cx="461.65" cy="546.30" r="0.95" fill="#189696"/><circle cx="496.47" cy="526.58" r="0.95" fill="#189696"/><circle cx="475.86" cy="526.04" r="0.95" fill="#189696"/><circle cx="486.73" cy="509.53" r="0.95" fill="#189696"/><circle cx="459.11" cy="538.72" r="0.95" fill="#189696"/><circle cx="496.58" cy="540.61" r="0.95" fill="#189696"/><circle cx="496.32" cy="525.22" r="0.95" fill="#189696"/><circle cx="462.83" cy="524.13" r="0.95" fill="#189696"/><circle cx="465.07" cy="538.00" r="0.95" fill="#189696"/><circle cx="485.72" cy="539.09" r="0.95" fill="#189696"/><circle cx="454.84" cy="542.86" r="0.95" fill="#189696"/><circle cx="485.97" cy="523.33" r="0.95" fill="#189696"/><circle cx="478.32" cy="527.40" r="0.95" fill="#189696"/><circle cx="456.74" cy="544.16" r="0.95" fill="#189696"/><circle cx="479.01" cy="532.94" r="0.95" fill="#189696"/><circle cx="494.44" cy="532.91" r="0.95" fill="#189696"/><circle cx="483.79" cy="564.20" r="0.95" fill="#189696"/><circle cx="474.57" cy="540.98" r="0.95" fill="#189696"/><circle cx="469.92" cy="529.18" r="0.95" fill="#189696"/><circle cx="474.24" cy="530.52" r="0.95" fill="#189696"/><circle cx="482.26" cy="544.80" r="0.95" fill="#189696"/><circle cx="458.32" cy="548.67" r="0.95" fill="#189696"/><circle cx="496.58" cy="539.37" r="0.95" fill="#189696"/><circle cx="466.83" cy="521.17" r="0.95" fill="#189696"/><circle cx="484.61" cy="532.06" r="0.95" fill="#189696"/><circle cx="478.92" cy="530.51" r="0.95" fill="#189696"/><circle cx="464.78" cy="509.96" r="0.95" fill="#189696"/><circle cx="486.35" cy="534.71" r="0.95" fill="#189696"/><circle cx="466.45" cy="534.58" r="0.95" fill="#189696"/><circle cx="479.69" cy="536.28" r="0.95" fill="#189696"/><circle cx="460.19" cy="530.81" r="0.95" fill="#189696"/><circle cx="491.10" cy="544.46" r="0.95" fill="#189696"/><circle cx="470.18" cy="539.20" r="0.95" fill="#189696"/><circle cx="497.02" cy="514.86" r="0.95" fill="#189696"/><circle cx="464.29" cy="534.32" r="0.95" fill="#189696"/><circle cx="488.62" cy="529.79" r="0.95" fill="#189696"/><circle cx="468.28" cy="516.30" r="0.95" fill="#189696"/><circle cx="482.60" cy="478.00" r="0.95" fill="#189696"/><circle cx="471.80" cy="487.00" r="0.95" fill="#189696"/><circle cx="477.20" cy="570.00" r="0.95" fill="#189696"/><circle cx="478.50" cy="568.00" r="0.95" fill="#189696"/><line x1="452.50" y1="537.60" x2="498.00" y2="537.60" stroke="#0a0a0a" stroke-width="1.5"/><rect x="312.05" y="402.2" width="192.5" height="175.09999999999997" fill="none" stroke="#111" stroke-width="1.3"/><line x1="309.05" y1="411.25" x2="312.05" y2="411.25" stroke="#111" stroke-width="1.1"/><text x="305.85" y="413.95" font-size="6.3" text-anchor="end" fill="#222" stroke="#222" stroke-width="0.12" >3.5</text><line x1="309.05" y1="438.25" x2="312.05" y2="438.25" stroke="#111" stroke-width="1.1"/><text x="305.85" y="440.95" font-size="6.3" text-anchor="end" fill="#222" stroke="#222" stroke-width="0.12" >3.0</text><line x1="309.05" y1="465.25" x2="312.05" y2="465.25" stroke="#111" stroke-width="1.1"/><text x="305.85" y="467.95" font-size="6.3" text-anchor="end" fill="#222" stroke="#222" stroke-width="0.12" >2.5</text><line x1="309.05" y1="492.25" x2="312.05" y2="492.25" stroke="#111" stroke-width="1.1"/><text x="305.85" y="494.95" font-size="6.3" text-anchor="end" fill="#222" stroke="#222" stroke-width="0.12" >2.0</text><line x1="309.05" y1="519.25" x2="312.05" y2="519.25" stroke="#111" stroke-width="1.1"/><text x="305.85" y="521.95" font-size="6.3" text-anchor="end" fill="#222" stroke="#222" stroke-width="0.12" >1.5</text><line x1="309.05" y1="546.25" x2="312.05" y2="546.25" stroke="#111" stroke-width="1.1"/><text x="305.85" y="548.95" font-size="6.3" text-anchor="end" fill="#222" stroke="#222" stroke-width="0.12" >1.0</text><line x1="309.05" y1="573.25" x2="312.05" y2="573.25" stroke="#111" stroke-width="1.1"/><text x="305.85" y="575.95" font-size="6.3" text-anchor="end" fill="#222" stroke="#222" stroke-width="0.12" >0.5</text><line x1="340.40" y1="577.30" x2="340.40" y2="580.10" stroke="#111" stroke-width="1.1"/><line x1="475.25" y1="577.30" x2="475.25" y2="580.10" stroke="#111" stroke-width="1.1"/><text x="291.70" y="490.00" font-size="8.8" text-anchor="middle" fill="#1a1a1a" stroke="#1a1a1a" stroke-width="0.18" textLength="67.5" lengthAdjust="spacingAndGlyphs" transform="rotate(-90 291.70 490.00)" >Ratio BCL2/BCL2L1</text><text x="407.85" y="397.20" font-size="9.0" text-anchor="middle" fill="#111" stroke="#111" stroke-width="0.16" textLength="112.30000000000001" lengthAdjust="spacingAndGlyphs" >log normalized expression ratio</text><text x="392.00" y="411.50" font-size="4.6" text-anchor="start" fill="#222" stroke="#222" stroke-width="0.08" textLength="33" lengthAdjust="spacingAndGlyphs" >p−val: &lt;10e−5</text><text x="340.40" y="588.60" font-size="6.0" text-anchor="middle" fill="#1a1a1a" stroke="#1a1a1a" stroke-width="0.15" textLength="17.0" lengthAdjust="spacingAndGlyphs" >t11.14</text><text x="475.25" y="588.60" font-size="6.0" text-anchor="middle" fill="#1a1a1a" stroke="#1a1a1a" stroke-width="0.15" textLength="29.2" lengthAdjust="spacingAndGlyphs" >non t11.14</text></svg>
<div class="frame"></div>
</body></html>
